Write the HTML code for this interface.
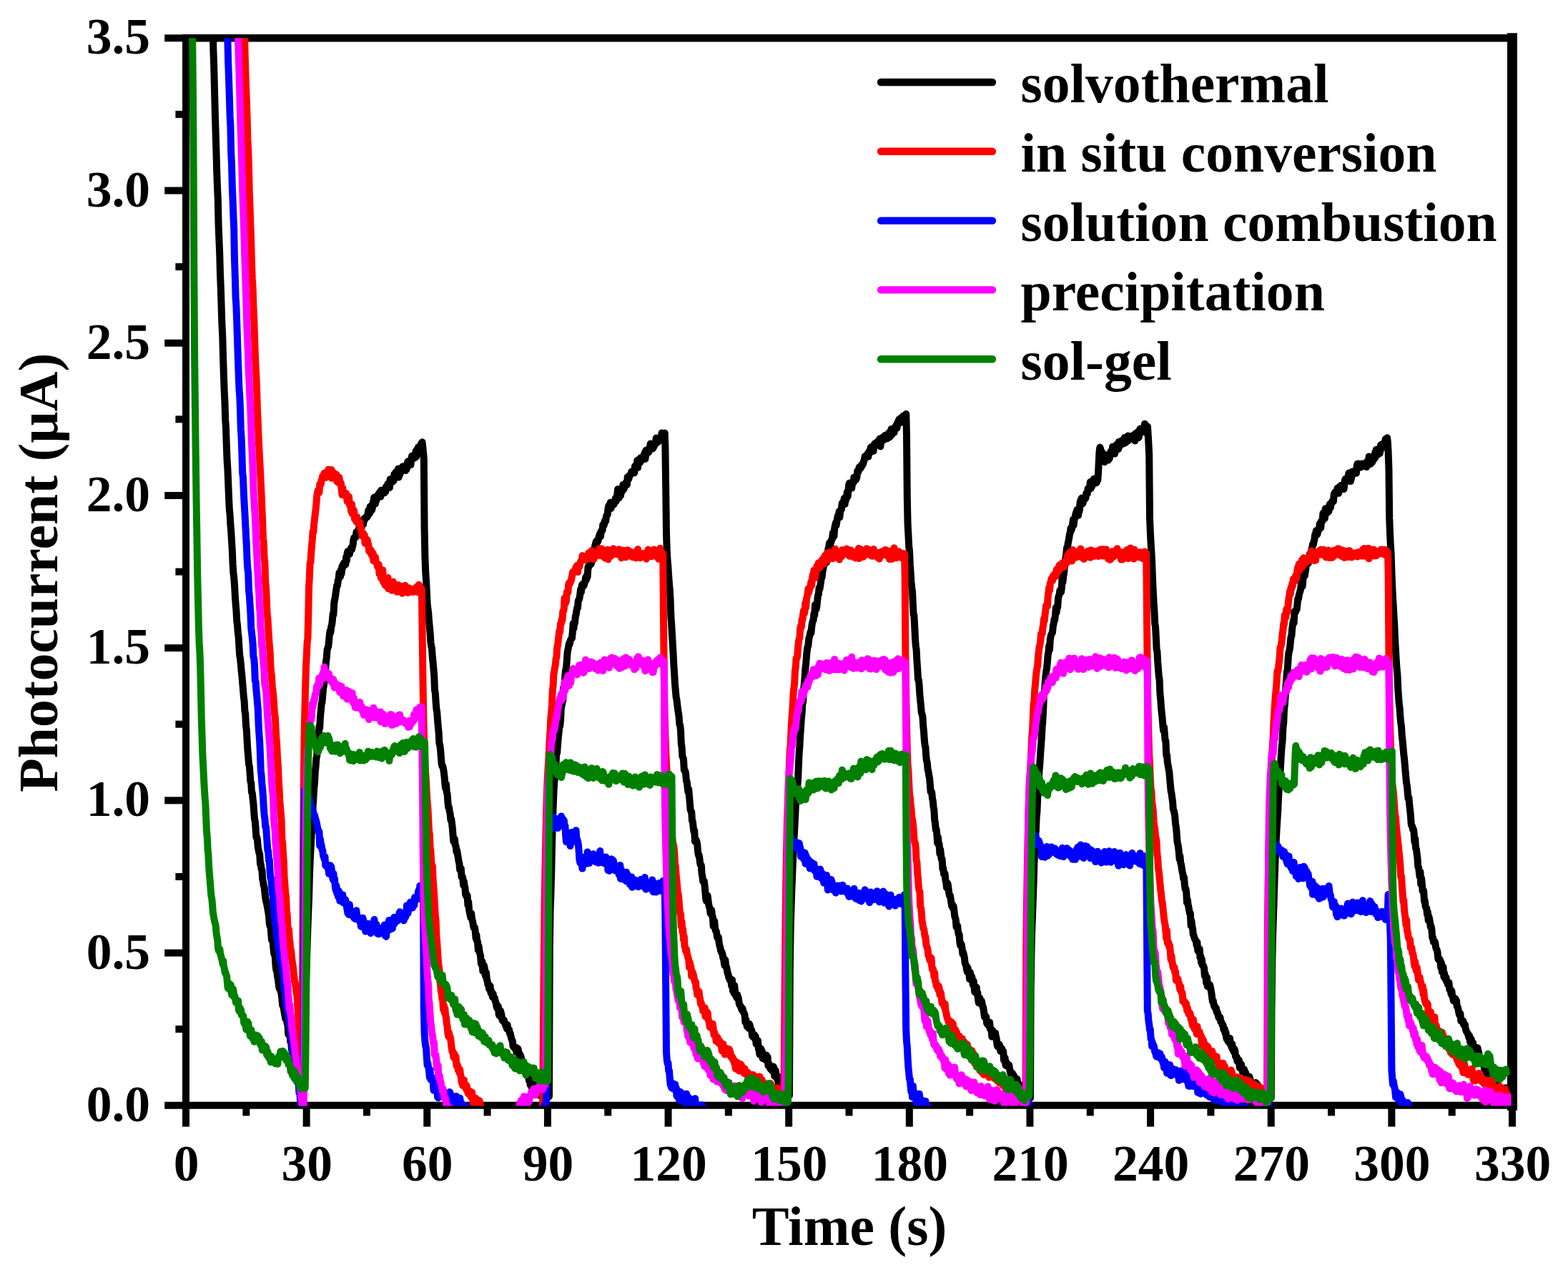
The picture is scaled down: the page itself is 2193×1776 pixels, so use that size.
<!DOCTYPE html>
<html lang="en"><head><meta charset="utf-8"><title>Photocurrent vs Time</title>
<style>
html,body{margin:0;padding:0;background:#fff;}
body{width:2193px;height:1776px;overflow:hidden;}
svg{display:block;}
text{font-family:"Liberation Serif", "DejaVu Serif", serif;font-weight:bold;fill:#000;}
.tick{font-size:71.5px;}
.title{font-size:77.7px;}
.leg{font-size:77.6px;}
.ax{stroke:#000;fill:none;}
.cv{fill:none;stroke-width:10;stroke-linejoin:round;stroke-linecap:round;}
</style></head><body>
<svg width="2193" height="1776" viewBox="0 0 2193 1776">
<rect x="0" y="0" width="2193" height="1776" fill="#fff"/>
<defs><clipPath id="plot"><rect x="260.0" y="53.3" width="1853.5" height="1493.1"/></clipPath></defs>
<g class="ax">
<line x1="260.00" y1="53.30" x2="2115.00" y2="53.30" stroke-width="10.5"/>
<line x1="260.00" y1="1545.80" x2="2115.00" y2="1545.80" stroke-width="10"/>
<line x1="260.00" y1="48.10" x2="260.00" y2="1550.80" stroke-width="10"/>
<line x1="2115.00" y1="46.30" x2="2115.00" y2="1552.80" stroke-width="14"/>
<line x1="260.00" y1="1545.80" x2="260.00" y2="1575.60" stroke-width="10"/>
<line x1="344.32" y1="1545.80" x2="344.32" y2="1560.40" stroke-width="10"/>
<line x1="428.64" y1="1545.80" x2="428.64" y2="1575.60" stroke-width="10"/>
<line x1="512.95" y1="1545.80" x2="512.95" y2="1560.40" stroke-width="10"/>
<line x1="597.27" y1="1545.80" x2="597.27" y2="1575.60" stroke-width="10"/>
<line x1="681.59" y1="1545.80" x2="681.59" y2="1560.40" stroke-width="10"/>
<line x1="765.91" y1="1545.80" x2="765.91" y2="1575.60" stroke-width="10"/>
<line x1="850.23" y1="1545.80" x2="850.23" y2="1560.40" stroke-width="10"/>
<line x1="934.55" y1="1545.80" x2="934.55" y2="1575.60" stroke-width="10"/>
<line x1="1018.86" y1="1545.80" x2="1018.86" y2="1560.40" stroke-width="10"/>
<line x1="1103.18" y1="1545.80" x2="1103.18" y2="1575.60" stroke-width="10"/>
<line x1="1187.50" y1="1545.80" x2="1187.50" y2="1560.40" stroke-width="10"/>
<line x1="1271.82" y1="1545.80" x2="1271.82" y2="1575.60" stroke-width="10"/>
<line x1="1356.14" y1="1545.80" x2="1356.14" y2="1560.40" stroke-width="10"/>
<line x1="1440.45" y1="1545.80" x2="1440.45" y2="1575.60" stroke-width="10"/>
<line x1="1524.77" y1="1545.80" x2="1524.77" y2="1560.40" stroke-width="10"/>
<line x1="1609.09" y1="1545.80" x2="1609.09" y2="1575.60" stroke-width="10"/>
<line x1="1693.41" y1="1545.80" x2="1693.41" y2="1560.40" stroke-width="10"/>
<line x1="1777.73" y1="1545.80" x2="1777.73" y2="1575.60" stroke-width="10"/>
<line x1="1862.05" y1="1545.80" x2="1862.05" y2="1560.40" stroke-width="10"/>
<line x1="1946.36" y1="1545.80" x2="1946.36" y2="1575.60" stroke-width="10"/>
<line x1="2030.68" y1="1545.80" x2="2030.68" y2="1560.40" stroke-width="10"/>
<line x1="2115.00" y1="1545.80" x2="2115.00" y2="1575.60" stroke-width="10"/>
<line x1="230.20" y1="1545.80" x2="260.00" y2="1545.80" stroke-width="10"/>
<line x1="245.40" y1="1439.19" x2="260.00" y2="1439.19" stroke-width="10"/>
<line x1="230.20" y1="1332.59" x2="260.00" y2="1332.59" stroke-width="10"/>
<line x1="245.40" y1="1225.98" x2="260.00" y2="1225.98" stroke-width="10"/>
<line x1="230.20" y1="1119.37" x2="260.00" y2="1119.37" stroke-width="10"/>
<line x1="245.40" y1="1012.76" x2="260.00" y2="1012.76" stroke-width="10"/>
<line x1="230.20" y1="906.16" x2="260.00" y2="906.16" stroke-width="10"/>
<line x1="245.40" y1="799.55" x2="260.00" y2="799.55" stroke-width="10"/>
<line x1="230.20" y1="692.94" x2="260.00" y2="692.94" stroke-width="10"/>
<line x1="245.40" y1="586.34" x2="260.00" y2="586.34" stroke-width="10"/>
<line x1="230.20" y1="479.73" x2="260.00" y2="479.73" stroke-width="10"/>
<line x1="245.40" y1="373.12" x2="260.00" y2="373.12" stroke-width="10"/>
<line x1="230.20" y1="266.51" x2="260.00" y2="266.51" stroke-width="10"/>
<line x1="245.40" y1="159.91" x2="260.00" y2="159.91" stroke-width="10"/>
<line x1="230.20" y1="53.30" x2="260.00" y2="53.30" stroke-width="10"/>
</g>
<g clip-path="url(#plot)">
<path class="cv" stroke="#000000" d="M297.6 34.7l.8 35.6 .8 22.2 .8 32.5 .8 31.6 .8 27.6 .8 25.4 .8 30.6 .8 21.7 .8 17 .8 36.2 .8 19.9 .8 18.9 .8 29.3 .8 19.4 .8 25 .8 25.7 .8 15.2 .8 28.1 .8 25.6 .8 22.4 .8 16.7 .8 25.2 .8 12.3 .8 24.6 .8 20.8 .8 11.4 .8 19.5 .8 20.2 .8 16.6 .8 7.6 .8 14.5 .8 8.8 .8 13.7 .8 13.2 .8 19.1 .8 12.4 .8 6.9 .8 9.4 .8 15.8 .8 11 .8 8.9 .8 15 .8 6 .8 10.3 .8 6.5 .8 13.3 .8 12.5 .8 4.1 .8 7.7 .8 9.1 .8 7.5 .8 9.6 .8 9.3 .8 10.3 .8 5.8 .8 14 .8 4 .8 16.7 .8 5.5 .8 15.4 .8 13.5 .8 8.1 .8 11.6 .8 2.6 .8 9.6 .8 11.9 .8 1.3 .8 13.7 .8 .6 .8 8.5 .8 6.5 .8 11.5 .8 10.2 .8 3.2 .8 10.1 .8 12.1 .8 -.3 .8 4.5 .8 9.8 .8 3.9 .8 4.1 .8 1.6 .8 13.7 .8 .3 .8 6.9 .8 1.5 .8 12.6 .8 3.1 .8 5.8 .8 2.1 .8 7.8 .8 6.7 .8 5.2 .8 2.6 .8 3.9 .8 4.3 .8 4.7 .8 5.5 .8 10.3 .8 3.7 .8 -.5 .8 11 .8 9 .8 1 .8 -.1 .8 10.6 .8 7.2 .8 2.3 .8 2.5 .8 12.8 .8 6 .8 -.5 .8 8.5 .8 4 .8 6.1 .8 6.6 .8 1.6 .8 1.4 .8 1.6 .8 4.3 .8 7.2 .8 8.2 .8 1 .8 3.6 .8 5.2 .8 3.7 .8 5.3 .8 -2.4 .8 2 .8 6.9 .8 1.8 .8 13.5 .8 -1.8 .8 3.8 .8 -.2 .8 9.1 .8 .7 .8 9.5 .8 3.7 .8 -.2 .8 9.2 .8 -5.3 .8 11 .8 9.8 .9 2.8 .7 1.6 .8 2.5 .8 -2.1 .9 2.2 .8 6.9 .7 6.7 .9 -10.9 .7 11.2 .9 3 .7 3.9 .9 -2.7 .8 3 .7 2.1 .9 .5 .7 -9.3 .8 -61.3 .8 -44.8 .8 -35.2 .8 -31 .8 -23.3 .8 -24.4 .8 -21.5 .8 -17.9 .8 -29.8 .8 -22.7 .8 -15 .8 -15.2 .8 -15.1 .8 -17.2 .8 -14.8 .8 -12.1 .8 -13.3 .8 -8 .8 -14.7 .8 -8.6 .8 -10.9 .8 -3.1 .8 -18.7 .8 .3 .8 -7.3 .8 -15.7 .8 2 .8 -15.9 .8 -7.8 .8 -10.3 .8 -1.2 .8 -9.1 .8 -9.9 .8 -4.5 .8 -5.8 .8 -6 .8 -11.6 .8 -11 .8 -5.2 .8 -11 .8 -2.6 .8 -1.5 .8 -7.7 .8 -8.4 .8 -6.2 .8 2.2 .8 -8.2 .8 -1.8 .8 -6.3 .8 -9.3 .8 .9 .8 -15.5 .8 -5.5 .8 -3 .8 -6.6 .8 -5.1 .8 -5.6 .8 .4 .8 -6.9 .8 -2.1 .9 -9 .7 .7 .8 4.7 .9 -9.6 .7 5.5 .8 -10 .8 2 .9 -5.5 .7 2.6 .8 -4.7 .9 -.2 .8 3 .8 -10.3 .8 4.9 .7 -9.8 .8 -3.1 .8 3 .9 -3.7 .8 4.6 .7 -5.1 .9 -.9 .8 -3.1 .7 2.9 .9 -4.6 .8 -2.4 .7 -6.6 .9 -3.4 .8 .3 .7 0 .9 -1.2 .8 -6.9 .8 4.9 .8 -1.6 .8 -5.5 .8 4 .8 -10.5 .7 7.7 .8 4.5 .9 -10.9 .8 1.3 .8 -8.8 .7 1.4 .9 2.7 .8 -7.5 .8 2 .7 -2.4 .9 -1.6 .7 .2 .9 -1.1 .7 .3 .8 -3.5 .9 -6.1 .8 5.8 .7 -.9 .9 -10 .7 6.6 .9 -.8 .7 -.8 .9 -3.2 .8 -8.2 .8 1 .7 -7.4 .9 3.1 .8 5.9 .8 -4.9 .7 .4 1 -4.9 .8 -2.3 .6 -1.3 .9 2.2 .7 -4.4 1 -.5 .8 5.8 .7 -8.9 .8 1.3 .8 2.5 .8 .7 .8 -.5 .7 -4.6 1 4.1 .7 -2.2 .9 0 .6 -6.5 1 2.3 .7 -2 .7 -4.3 .9 .6 .8 -1.4 .8 6 .7 -11.4 .8 1.5 .8 -1.1 .9 3.9 .8 -2.3 .7 -1.1 .9 1.4 .8 -9.5 .8 1.4 .8 .8 .7 -5 .8 3.4 .8 -1.4 .9 -3.9 .8 -2.9 .8 11.9 .8 -3.2 .8 -.7 .8 -2.7 .8 -2.7 .9 .5 .6 -4 .8 -2.3 .9 5 .8 -1.4 .9 -2.6 .6 -.8 .9 5.5 .9 -3.1 .6 1.4 .9 -8.6 .8 -2.4 .7 2.5 .8 2.4 .9 -2.7 .8 -.7 .7 3.2 .8 -8.7 .9 -3.7 .8 -.1 .7 .4 .9 1.4 .7 1.5 .9 -3.1 .8 2.1 .7 -9.1 .8 7.7 .8 -9.9 .9 5.4 .8 -8.5 .7 2.2 .8 -2.9 .9 -.2 .8 -.8 .7 -2.8 .9 -1.3 .8 -1.3 .7 5.9 .8 8 .8 9.1 .8 97.6 .8 39.1 .8 21.6 .8 12.6 .8 14.9 .8 17.6 .8 6.2 .8 6.4 .8 10.9 .8 8.4 .8 8.3 .8 13.2 .8 5.7 .8 3 .8 12.1 .8 7.5 .8 9.3 .8 8.7 .8 20.8 .8 3.6 .8 12.9 .8 9.8 .8 4.2 .8 11.5 .8 8.8 .8 8.2 .8 15.4 .8 2 .8 6.4 .8 10.2 .8 10 .8 3.4 .8 -.2 .8 3.5 .8 5.2 .8 6.8 .8 9.4 .8 6.3 .8 -6 .8 11.7 .8 1.6 .8 12.3 .8 6.9 .8 -.1 .8 6 .8 2.8 .8 8.9 .8 -1.6 .8 6.5 .8 6.3 .8 10.9 .8 8.2 .8 -3.5 .8 .1 .8 8.4 .8 1.1 .8 8.2 .8 -1.9 .8 5.4 .8 4.3 .8 5.6 .8 2.8 .8 9.1 .8 .7 .8 -2.8 .8 12 .8 -1.1 .8 1.9 .9 10.6 .8 -5.1 .8 7 .7 1 .8 10.7 .8 -2.1 .9 5.3 .7 -2.2 .8 13.1 .8 -4.2 .9 10.6 .7 4 .8 3.5 .8 3.9 .8 -6 .9 8.1 .7 1.9 .8 4.3 .8 5.3 .8 0 .8 .1 .8 6 .8 9.2 .8 -4.9 .8 8.7 .8 1 .8 11.5 .8 -5.4 .9 7.2 .7 2.8 .8 3.3 .9 11.1 .8 1.6 .7 -4.5 .9 13.4 .7 -8 .8 -.1 .9 3.7 .7 8.1 .8 3.5 .8 -5.2 .9 10.4 .7 .6 .8 6.1 .8 -.8 .8 6.4 .8 .4 .8 -4.4 .8 9.6 .9 -2.5 .8 3.9 .8 4.6 .8 -4.5 .8 5.5 .7 -.6 .8 .9 .8 4.9 .8 1.4 .8 5.1 .9 2.8 .8 -2.3 .7 -.4 .9 11.5 .8 1.8 .7 -5.8 .8 -1.3 .9 3.6 .8 4.2 .7 5 .9 1.5 .8 -.4 .7 -.7 .9 3.8 .8 .7 .7 3.1 .9 1.1 .8 3.4 .7 -5.6 .8 5.5 .8 2.1 .9 -.8 .8 5.5 .8 -.3 .7 3.6 .9 3.6 .7 2.2 .8 1.2 .8 7.8 .9 -.8 .8 2.5 .8 1.3 .7 -1.8 .8 .2 .8 6.8 .8 -2.9 .8 -2.8 .8 1.6 .9 7.6 .8 -2.1 .8 3.2 .8 -.4 .7 2.5 .8 4.1 .9 .5 .7 7.3 .8 5.3 .8 -.2 .8 -7.5 .8 2.7 .9 2 .8 5.4 .8 5.3 .8 .2 .7 -4.8 .9 8.5 .7 4.3 .8 -2.8 .9 8.7 .7 -7.8 .9 7.3 .7 4.8 .9 -10 .8 4.8 .8 4.2 .8 5.5 .8 -11.6 .8 8.4 .8 -.5 .7 -2.2 .9 -.7 .7 1.9 .9 2.2 .8 -1.9 .8 10 .8 -8.8 .8 2.4 .8 -.1 .8 1.9 .9 3 .8 -1.9 .6 2.1 .9 6.9 .9 -1.5 .7 -4.1 .9 3.9 .7 -5.8 .7 2.8 1 -3.1 .7 1.4 .8 1.2 .7 1.1 .8 -205.4 .8 -54.3 .8 -23.5 .8 -27.7 .8 -40 .8 -28.6 .8 -23.3 .8 -21.4 .8 -15 .8 -5.9 .8 -9.5 .8 -12.1 .8 -16 .8 2.1 .8 -12.1 .8 -9 .8 -7 .8 -8.5 .8 -.5 .8 -8.1 .8 -16.8 .8 -3.9 .8 -4.1 .8 -2.5 .8 -18.3 .8 2.8 .8 -6.2 .8 -14.7 .8 -6.9 .8 -2.9 .8 -9.8 .8 -11.7 .8 -4.2 .8 -3.7 .8 -5 .8 1.3 .8 -4.9 .8 -1.5 .8 -1.3 .8 -.6 .9 -9.7 .7 -10.8 .8 6.9 .8 -8.4 .8 .7 .8 -9.3 .8 -2 .8 -6 .8 -4.1 .8 .2 .8 -10.3 .8 -.4 .9 -2.9 .7 -4.8 .9 -7.7 .8 4 .8 -8.7 .8 -2.2 .7 1.8 .8 .8 .9 -1.4 .7 -2.7 .8 -3.1 .8 -5.1 .8 3.5 .8 -6.6 .8 2.4 .9 -14.1 .7 .9 .8 -2.1 .8 -.9 .9 -9.9 .7 8.7 .8 -2 .8 -4.2 .8 -8.4 .8 3.1 .8 -9.6 .8 2.1 .9 -6.5 .8 -2.9 .7 -2.9 .8 -1.5 .8 2 .8 -.9 .8 -2.6 .9 -4.3 .8 -2.7 .7 -1.8 .8 4.1 .9 -7.5 .7 -1.4 .9 .4 .7 -7.9 .8 2.1 .9 -2 .8 -5.4 .7 -.9 .8 1.3 .8 -6.5 .8 -2.6 .9 -.2 .7 -8.1 .9 -4.2 .7 2 .9 .7 .8 -7.3 .8 8.2 .7 -3.7 .9 -1.9 .8 -3.1 .8 .8 .8 2.6 .7 -2.5 .9 -.8 .8 -5.9 .7 4.8 .9 -2.9 .7 -6 .9 -8.2 .8 6.2 .8 5.9 .7 -6.5 .9 -4 .8 7.2 .8 -8.5 .8 2.6 .7 -.3 .9 -8.8 .8 3.8 .7 2 .9 -6.6 .8 1.8 .8 -4.1 .7 1.8 .9 1.4 .8 -11 .7 1.6 .9 1.2 .7 -4.1 .9 -1.7 .8 .3 .8 -1.5 .8 -3.4 .8 1.5 .8 .5 .8 -.8 .7 -.4 .9 1 .7 -9.4 .8 2.8 .8 -.6 .9 -.9 .8 -9.2 .8 9.9 .7 -10.7 .9 2.5 .8 .8 .8 .4 .9 -6.7 .6 -.1 .8 2.1 .9 0 .8 .5 .9 -3.7 .6 -2.6 .9 -3.3 .8 8.7 .9 -11.9 .7 5.6 .8 -2.7 .7 .6 .9 -.9 .7 -.1 .9 -6.1 .7 .8 .9 -6.6 .7 5 .9 -3.4 .7 2 .9 3.4 .7 -4.8 .9 2.4 .7 -4.6 .9 1.5 .8 -3 .9 -6.3 .7 4.4 .7 1 .9 .3 .7 -2 .9 -2.5 .7 2 .9 -2.1 .8 -3.7 .7 4.6 .8 -9.2 .8 5 .9 -1.2 .8 1 .7 -3.6 .9 -1.2 .7 18.8 .8 58.6 .8 63 .8 26.5 .8 11.3 .8 9.8 .8 12.4 .8 11.2 .8 8 .8 14.3 .8 23.5 .8 9.9 .8 14.8 .8 13.2 .8 14.1 .8 15.9 .8 12 .8 13.9 .8 8.7 .8 9.2 .8 3.7 .8 6.4 .8 7.1 .8 4.6 .8 5.9 .8 10.7 .8 1.5 .8 7.1 .8 18.2 .8 5.1 .8 12.9 .8 1.8 .8 2.2 .8 15.1 .8 -.1 .8 1.8 .8 4.3 .8 9.8 .8 .9 .8 7.7 .8 6.4 .8 -3.6 .8 9.5 .8 9 .8 9.6 .8 2.7 .8 .5 .8 12.6 .8 .9 .8 7.3 .8 6.7 .8 -1.5 .8 15.4 .8 -2.6 .8 .3 .8 2.5 .8 3.5 .8 10.1 .8 5.1 .8 .1 .8 4.8 .8 6.9 .8 2.6 .8 -.1 .8 12.1 .8 3.8 .8 6.8 .8 -.3 .8 -.3 .8 6.7 .8 8.7 .8 9.2 .8 3.5 .8 -4.1 .8 -3.4 .9 7 .8 6 .8 3.1 .8 1.8 .7 7.1 .8 -4.1 .8 -.7 .8 7.8 .8 1.8 .9 12.9 .7 -5.6 .8 -1.9 .8 9.1 .8 4.6 .8 .4 .8 3.8 .8 5.4 .8 1 .8 -1.4 .9 7.6 .8 4.5 .7 1.5 .8 5 .8 2.1 .8 0 .9 3.2 .8 5.4 .7 -.9 .9 8.4 .7 2.7 .8 -7.3 .8 8.2 .8 1 .8 3.8 .8 5.2 .8 1 .8 4.6 .8 1.5 .9 2.5 .8 -2.1 .8 2.7 .7 7.5 .8 -8.4 .9 15.1 .7 -4.7 .9 8.1 .7 -10.6 .9 8.2 .7 5.5 .8 -.9 .9 4.4 .7 -4.6 .9 3.3 .7 2.1 .9 6.6 .7 2.4 .8 .7 .9 2.2 .7 1.8 .8 2.4 .9 -2.3 .8 4.1 .7 1.6 .8 1.2 .8 2.7 .8 9.7 .8 -3.8 .8 5.8 .8 3.7 .9 0 .8 -1.8 .7 4.6 .9 -5.9 .8 2.4 .7 3.7 .9 1.5 .8 1.4 .7 7.6 .9 1.3 .8 -3.8 .7 2.5 .8 -1.5 .8 6.4 .8 -3.8 .8 10.2 .9 -5.1 .7 4.8 .8 -4.2 .9 11.8 .7 .2 .8 7.2 .9 -4 .8 -4.2 .8 3.8 .8 -.6 .8 10.3 .8 -6.3 .8 .7 .7 5.4 .9 .4 .7 2 .9 -2.3 .7 -4 .9 2.8 .7 -.5 .8 12 .8 .5 .8 -2.4 .9 5.3 .8 1.6 .8 .7 .7 0 .9 2.1 .7 -1.3 .9 -5 .7 1.3 .9 12 .8 -.8 .8 -6.6 .8 9.1 .8 -.8 .8 3.8 .8 -4.2 .7 13 .9 -1.3 .7 3.9 .8 1.7 .9 1.8 .7 2 .9 -3.6 .7 .3 .8 -2.3 .9 4.4 .9 -1.5 .7 -1.6 .7 9.1 .9 -.4 .8 -9 .8 2.8 .8 4.7 .8 -.6 .9 3.2 .6 -.2 .8 -171.3 .8 -59.6 .8 -27 .8 -26.1 .8 -19.4 .8 -21 .8 -16.5 .8 -17.6 .8 -12.6 .8 -16.8 .8 -16.2 .8 -9.4 .8 -14.2 .8 -5.1 .8 -7 .8 -20 .8 -18.2 .8 -10 .8 -15.1 .8 -10.5 .8 -13.2 .8 -8 .8 -13.7 .8 -1.6 .8 -16.5 .8 -8.4 .8 -9.5 .8 -12.4 .8 -6.9 .8 -10.7 .8 -7.9 .8 -5 .8 -1.6 .8 -9.4 .8 -2.4 .8 -3.8 .8 -3.5 .8 1.6 .8 -8.5 .8 -5.3 .8 -3 .8 -1.1 .8 -9.4 .8 2.5 .8 -14.7 .8 1.6 .8 4.3 .8 -4.2 .8 -7.7 .8 -7.2 .8 -1.4 .8 -9.2 .8 2 .8 -5 .8 -4.7 .8 -8.8 .8 2.1 .8 -8.2 .9 -3.9 .7 -4 .8 -2.2 .8 -1.1 .8 -2.4 .8 -3 .8 3.5 .8 -12.7 .9 2.4 .7 -8.8 .8 -1.8 .8 -6.1 .8 6 .8 -5.1 .8 -2.4 .8 -3.7 .8 -.2 .8 -8.5 .8 -.1 .8 4.6 .8 -11.1 .8 -3.9 .9 -3.8 .7 3.7 .8 -5.2 .8 -5.3 .8 -3.4 .8 .2 .9 -6 .7 8.3 .8 -8.9 .9 -1.1 .7 -1 .8 -8 .9 -1.8 .7 .9 .9 -1.2 .7 -5.6 .8 8.3 .9 -6.3 .8 0 .7 -3.4 .8 -7.5 .9 6.4 .8 -9.5 .8 -7.3 .7 -1.8 .8 5.5 .8 1.5 .8 -4.1 .8 4.1 .9 -8.2 .7 1.5 .9 -1.2 .7 -7.3 .9 3.1 .8 -.7 .8 1.3 .8 -1.6 .7 -2.2 .8 -8.8 .9 1.9 .7 -1.6 .9 -5.5 .7 1.2 .9 -.9 .7 .8 .8 -4.2 .9 1 .7 -1.2 .8 -1.3 .9 -4.1 .7 -1.3 .9 -5.3 .7 .7 .9 .7 .7 -1.6 .9 -.4 .7 -3.2 .8 4.5 .9 -7.2 .7 2.9 .9 -3 .8 -5.5 .8 -.9 .8 4.1 .8 -3.2 .8 -.8 .7 5.7 .8 -8.3 .8 -2 .8 2.5 .9 -3.8 .9 1.5 .6 1.5 .9 -4.9 .9 2.1 .7 -.4 .9 1 .6 -6.4 .9 10.7 .9 -7.1 .6 1.6 .9 -5.8 .8 -1.5 .7 3.5 1 -2.4 .7 2.1 .8 -5.8 .7 -.4 .9 3.9 .8 .8 .9 0 .7 -4 .9 -.1 .7 -4 .8 6.3 .7 -1.2 .9 -.8 .8 -9.4 .7 8 .9 -5.7 .8 3.2 .8 -1.6 .9 1 .6 -5.6 1 -1.4 .7 -2.5 .8 -1.2 .8 4.3 .7 -7.5 .8 2.4 .9 -5.9 .8 -1.5 .8 5 .8 -.1 .8 -6.4 .8 1.9 .8 -.4 .8 1.2 .8 -5.7 .8 .2 .7 .2 .8 .3 .9 -1.3 .8 -2 .7 32 .8 84.9 .8 38 .8 13.6 .8 16.6 .8 6.3 .8 19 .8 11.3 .8 12.5 .8 8.9 .8 5 .8 17.2 .8 15 .8 1.4 .8 15.4 .8 16.9 .8 10.5 .8 5.2 .8 15.7 .8 11 .8 14.9 .8 .6 .8 7.8 .8 12.8 .8 8.3 .8 7.7 .8 9.4 .8 2 .8 3.4 .8 12.6 .8 8.2 .8 11.6 .8 7.7 .8 2.6 .8 12.2 .8 7.1 .8 2.1 .8 9.8 .8 2.7 .8 5.4 .8 3.9 .8 8.3 .8 11 .8 -.8 .8 1.5 .8 8.3 .8 3.8 .8 8.4 .8 4.6 .8 13.9 .8 3.9 .8 9.5 .8 -.4 .8 7.1 .8 11.9 .8 -7.8 .8 10.3 .8 -1.5 .8 13.8 .8 -5.8 .9 8.4 .7 5.4 .8 -.5 .8 13.7 .8 -1.2 .8 8.5 .8 -1.8 .8 1.8 .8 8.6 .8 2.5 .8 8 .8 -6.8 .8 1.3 .8 5.9 .8 6.5 .8 4.2 .8 -.5 .8 4.8 .9 6.2 .8 4.6 .8 -2.7 .7 5.3 .8 -3 .8 5.9 .8 8.1 .8 2.1 .8 3.2 .8 9.9 .8 -2.7 .8 .8 .8 8.2 .8 4.1 .8 .2 .8 11.2 .8 3.9 .8 -2.7 .8 1.9 .8 5.4 .9 7.5 .7 -2.4 .8 3.3 .9 4.6 .7 6.4 .8 2.8 .8 .7 .9 6.5 .7 3 .8 -5.4 .8 6.9 .9 -.6 .8 9.1 .8 -9.1 .7 4.2 .8 4.2 .9 -2.5 .7 6.1 .8 5 .9 -5 .7 7.2 .8 8 .9 -5.3 .7 1.3 .9 -2.6 .8 10 .7 -2.7 .8 9.3 .8 5.1 .8 -2.7 .8 -3.7 .8 6 .8 -2 .9 0 .8 3.9 .8 4.8 .7 .2 .8 5.3 .9 8 .7 -2.4 .8 3.7 .8 -1.7 .9 9 .8 -1.3 .7 3.7 .9 -3.9 .8 5.9 .8 -5.5 .7 9 .8 .1 .9 .9 .8 10.1 .8 -8.8 .8 5.7 .8 .3 .8 2 .8 1.7 .8 -6 .7 4.8 .8 2.7 .8 7.8 .8 3.4 .8 -2.4 .8 .6 .9 -1 .8 4.7 .7 4.6 .8 -2.9 .8 -1.3 .8 2.4 .8 3 .8 -1 .8 12.7 .8 -4.1 .8 .4 .9 10.5 .8 -4.4 .7 5.7 .9 -2.9 .7 3.2 .8 -2.3 .9 .6 .7 5.1 .8 4 .8 3.6 .8 -1.4 .8 -.5 .8 .8 .9 3.7 .8 -1.2 .7 1.5 .9 3.9 .7 1.1 .9 1.3 .8 -2.3 .8 -.1 .8 7.6 .8 .7 .8 -1.5 .7 1.4 .9 2.4 .8 -2.3 .8 3.9 .7 -2.4 .8 4.4 1 -.2 .8 -.9 .6 6.7 .8 -8.4 .9 7.8 .8 3.9 .7 -.1 .9 -5.2 .8 6.9 .7 -5.3 1 3.8 .8 4 .8 -1.5 .8 .9 .6 -148.7 .8 -54.4 .8 -32.1 .8 -19.7 .8 -23 .8 -23.4 .8 -27.4 .8 -20.5 .8 -17.4 .8 -6.6 .8 -19.6 .8 -7.6 .8 -19.6 .8 -8.1 .8 -21 .8 -10.4 .8 -8.8 .8 -14.2 .8 -10.7 .8 -10.9 .8 -14.9 .8 -9.6 .8 -15 .8 -21.7 .8 -.6 .8 -14.9 .8 -8.2 .8 -8.2 .8 -4 .8 -7.7 .8 -10.5 .8 -3.8 .8 -9.5 .8 5.4 .8 -13.8 .8 -4.6 .8 -3.2 .8 -.7 .8 -1.9 .8 -8.4 .8 -3.6 .8 -6 .8 1 .8 -7.3 .8 -10 .8 6.8 .8 -8 .8 .7 .8 -12.7 .8 -3.3 .8 -1.7 .8 -6.2 .8 1 .8 1.7 .8 -6.1 .8 -14.9 .8 7.3 .8 -8.4 .8 -4 .8 -8.8 .8 -6.1 .8 -6.8 .8 -5.5 .8 -8.7 .8 1.9 .8 -7.5 .8 -4 .8 -4.1 .8 -5.5 .8 -1.9 .8 -6.6 .8 3 .8 -2.5 .8 -4.7 .9 -7.8 .7 7.9 .9 -7.5 .8 -2.3 .7 -3.8 .9 -3.7 .7 -.9 .8 -3.2 .8 .9 .8 7 .8 -5.8 .9 -.4 .8 -11.4 .8 -3.3 .7 -1.6 .9 -1.8 .7 8.2 .8 -.7 .9 -4.8 .8 .2 .8 -1 .7 -2.8 .8 1.1 .9 -7.1 .7 1.1 .9 -.4 .7 -7 .9 -.7 .7 2.2 .8 -2.1 .8 -8.6 .8 8.9 .9 -2.8 .7 0 .8 -4.3 .8 1 .9 -7.1 .9 3 .8 -3 .6 1.9 .9 3.7 .9 -.7 .7 -2.6 .8 -.6 .7 -9.8 .8 -16.4 .8 -14.8 .8 -4.9 .8 2 .8 4.6 .9 1 .7 -.5 .9 4.7 .8 2.1 .7 .3 .8 6.3 .8 -4.6 .8 -.8 .8 -1.2 .9 3.7 .7 -7.2 .8 7.6 1 -5.8 .6 4.4 .8 -2 .8 -4.6 .8 -4.5 .8 1.3 1 -.7 .7 -7 .7 2.7 1 -2 .7 7.2 .7 1.9 .9 -8 .8 -.3 .7 -4.5 .9 3 .8 .6 .7 2.9 .8 -10.3 1 6.3 .8 -4.6 .8 -2.7 .8 .8 .6 -1.6 .9 3.3 .8 -2.4 .9 3.4 .6 -4.9 .9 -3.6 .7 3.2 .9 3.7 .9 -6.9 .7 1.6 .9 3.3 .6 -7.3 .9 6.3 .9 -2 .8 -3 .6 2.1 .9 -2 .8 -.6 .9 -.9 .8 .7 .6 .1 .8 -1.6 .8 -.6 .9 8.4 .8 -10.2 .8 1.9 .8 3.3 .8 -1.3 .9 -6.3 .8 8.4 .6 -1 .8 -7.5 .9 -4.1 .8 5.1 .8 -3.4 .8 -.4 .9 -1.3 .8 1 .6 2.3 .8 1.4 .9 -11.5 .8 .4 .8 5.9 .8 -3.5 .9 1.6 .8 -.7 .6 10 .8 13.5 .8 15.9 .8 88.5 .8 19.5 .8 15.8 .8 12.4 .8 15.3 .8 23.7 .8 16.6 .8 15.3 .8 11.3 .8 17.9 .8 4 .8 15.1 .8 17 .8 2.5 .8 15 .8 10.1 .8 10.2 .8 4.4 .8 19.4 .8 8.1 .8 11 .8 8.3 .8 7.1 .8 10.5 .8 7.1 .8 -5.1 .8 9.5 .8 8.7 .8 1.3 .8 19.7 .8 -.5 .8 10.3 .8 4.3 .8 4.7 .8 4 .8 9.4 .8 8.5 .8 9.2 .8 3.2 .8 5.8 .8 5.9 .8 10.4 .8 2.2 .8 3.4 .8 4.7 .8 9.8 .8 5.2 .8 7.9 .8 11.9 .8 3.6 .8 4.7 .8 6.9 .8 9.9 .8 -4 .8 9.6 .8 1.9 .8 5.9 .8 4.6 .8 2.9 .8 6.8 .8 -2.2 .8 10 .8 6.3 .8 -.5 .8 5.1 .8 14.5 .8 -4.1 .8 6.6 .8 3.6 .8 5.1 .8 4 .8 -.6 .8 17.5 .8 -6.7 .8 7.5 .8 3.1 .8 8.7 .8 .9 .8 3.6 .8 1.7 .8 1.5 .8 .6 .8 6.8 .8 -4.3 .8 11.3 .8 1.4 .8 0 .9 -3.5 .7 11.9 .8 -2 .8 8.8 .8 -4.3 .8 8 .9 .2 .7 1.5 .9 2.9 .7 10.6 .8 -3.2 .9 4.8 .7 8.5 .8 -7.8 .8 12.4 .8 -4.1 .8 1.1 .8 2.7 .9 -1.8 .8 3.4 .7 3.7 .8 4.6 .9 7.4 .7 4.5 .8 -1.3 .9 5.8 .8 2.6 .8 -.4 .7 3 .8 -1 .9 5.9 .7 -.6 .9 3.4 .7 3 .8 2 .9 -.6 .7 -.2 .9 6.3 .7 .2 .8 1.6 .9 3.1 .8 -.3 .8 5.8 .7 1.6 .8 -2 .8 6.5 .9 -1.8 .7 8.1 .9 2.1 .7 -.9 .8 3.3 .8 1.3 .8 -.1 .8 -5.3 .9 8.5 .8 1.4 .8 2.7 .7 -4.7 .8 7.7 .8 1.4 .8 2 .8 -4.1 .8 2.4 .8 8.1 .9 1.3 .8 -.7 .7 6.1 .8 -.5 .8 .2 .9 -1.2 .8 10.5 .7 -2.1 .8 2.8 .8 -5.3 .9 5.7 .8 4.5 .8 -.7 .7 -1.4 .9 -1.2 .7 4.5 .9 -.7 .7 2 .9 2.7 .8 1 .7 2.5 .9 -.2 .7 2.2 .9 -3.8 .8 2.1 .7 5.2 .9 1.3 .8 2.5 .8 6.4 .8 -2.7 .8 1.2 .8 -2.6 .7 -2 .9 -1.3 .9 -1.8 .7 2.6 .7 -1.2 .9 3.2 .8 -1 .7 3.1 .8 4.5 1 .3 .8 5.1 .8 .7 .8 1.1 .8 .3 .8 -1.2 .6 -2.1 .8 3.5 .9 -2 .8 .5 .8 2.6 .9 -4.5 .6 -1.6 .9 6.8 .9 5.2 .7 -2.1 .9 3 .6 -10 .9 2.7 .7 0 1 2.1 .6 -117.9 .8 -69.6 .8 -38.4 .8 -23.6 .8 -24.9 .8 -27.2 .8 -21.5 .8 -22.4 .8 -16.8 .8 -14.1 .8 -12.8 .8 -11.9 .8 -18.6 .8 -13.1 .8 -11.4 .8 -10.4 .8 -13.8 .8 -14.5 .8 -9.8 .8 -7.4 .8 -17.8 .8 -6.3 .8 -19.8 .8 -5.5 .8 -11.6 .8 -14 .8 -10.4 .8 -11 .8 -2.9 .8 -15.1 .8 -8.2 .8 -2.8 .8 -3.7 .8 -8.5 .8 -7.2 .8 -1.5 .8 -10.8 .8 -4.6 .8 -6.1 .8 3.4 .8 -15.5 .8 -1.2 .8 1.5 .8 -2.5 .8 -.8 .8 -7 .8 -8.5 .8 .6 .8 -5.6 .8 -3 .8 -2.4 .8 -3.7 .8 -8.4 .9 -1.3 .7 6.7 .8 -9.6 .8 -9.1 .8 3.5 .8 .5 .8 -5.3 .8 -5.1 .8 -8.3 .8 .8 .9 -3.6 .8 4 .7 -7.2 .8 -2.3 .8 -3.5 .8 -1.1 .8 -.9 .8 -4.4 .9 -3.5 .7 -4 .8 1.1 .8 -4.7 .8 -2.9 .8 -6.9 .8 -.6 .8 -4.7 .8 5.8 .8 -.8 .8 -3.7 .8 -3.2 .9 .4 .8 -8 .7 -1.1 .8 6.5 .8 -9.3 .9 .9 .8 -4.3 .7 -7.7 .8 4.1 .9 3.2 .8 .1 .8 -13.7 .8 .7 .8 1.7 .8 3.5 .8 -1.1 .8 -.4 .7 -.8 .9 -7.8 .8 -2.5 .7 5.2 .9 -5.6 .7 -.3 .9 -2.6 .8 -1.8 .8 1.9 .7 -9.4 .9 -2.5 .7 -1.2 .9 1.9 .8 -1.3 .7 .5 .9 -6.8 .7 2.6 .9 4.6 .8 -5.9 .8 -3.4 .8 4.7 .7 -6.2 .9 3.6 .7 -2.3 .8 .3 .8 1.5 1 2 .6 -3.8 .8 -8.4 .8 -2 .9 1.9 .8 -.5 .8 .9 .9 -4.9 .6 -1.5 .8 -4.3 .8 3.5 .8 3.5 .8 4.6 .8 -3 .9 -4.1 .8 -6.6 .7 2 .8 -.8 .9 -1.4 .8 -.1 .8 -.4 .8 -1.8 .8 4.8 .9 -11 .6 -2 .9 5.7 .8 -6 .7 3.1 .8 .3 .8 -2.6 .9 4.3 .8 -2 .7 -2.9 .9 1.2 .9 1.5 .7 -2.7 .9 3.3 .6 -1.9 .9 -1.2 .9 -2 .6 6.3 .9 -3.3 .8 -5.8 .8 5.6 .9 -11.2 .8 8.2 .6 1 .8 1.2 .9 -5.4 .8 -4.6 .8 7.3 .8 -3.7 .8 1 .7 -4.8 1 2.6 .7 -8.8 .9 6 .6 -9.7 .8 2.2 .8 -2.6 .9 7.3 .7 -1.6 .8 -5.6 .9 5.7 .8 -4.2 .7 -7.7 .8 4.3 .8 -5.3 .8 4.9 .8 -.7 .9 -5.8 .8 2.8 .7 -1.3 .9 -7.1 .8 1.5 .7 -2.2 .9 -1 .7 5.9 .8 14 .8 22.7 .8 69.5 .8 21.1 .8 16.9 .8 12.3 .8 25.9 .8 19.4 .8 16.8 .8 12.3 .8 14.7 .8 14.1 .8 19.7 .8 13 .8 13.9 .8 11.5 .8 7.8 .8 18.9 .8 11.9 .8 9.8 .8 6.2 .8 12.2 .8 8.3 .8 4.8 .8 14.1 .8 5.9 .8 9.1 .8 9.5 .8 6.3 .8 8.9 .8 9.8 .8 8.5 .8 7.9 .8 3.7 .8 10 .8 7.7 .8 -2.1 .8 9.6 .8 7.8 .8 6.8 .8 12.2 .8 3.5 .8 .6 .8 4.5 .8 -.5 .8 5.3 .8 12.5 .8 -4.6 .8 13.2 .8 1.1 .8 6.6 .8 5.8 .8 12.2 .8 1.2 .8 6.6 .8 6.6 .8 -6.8 .8 17 .8 -8.2 .8 7.8 .8 10 .8 -1.6 .8 2.3 .8 13.6 .8 -.9 .8 8.2 .8 1.9 .8 .5 .8 8.9 .8 -3.3 .8 11.6 .8 -5.4 .9 4 .7 4.5 .8 6.3 .8 -1.3 .8 5 .8 10.9 .8 -.2 .8 6.2 .8 -.1 .8 -.7 .8 2 .8 6 .8 2.6 .8 1.2 .8 3 .9 9.7 .7 1.2 .8 -.3 .8 -.2 .8 1.6 .8 10 .8 -6.2 .8 12.2 .9 -7 .7 -.2 .9 14 .7 -5.1 .8 7.5 .8 -1.6 .8 -.1 .8 6.4 .8 -1.3 .9 5 .8 .5 .7 -3.1 .8 9.4 .9 -.7 .8 3.4 .7 4 .8 -4.4 .8 7.7 .8 .9 .8 5 .8 -2.6 .8 .1 .9 -.6 .7 4.6 .9 -1.9 .8 8.4 .7 .3 .8 2.2 .8 4.3 .8 4.2 .9 2 .7 -2.9 .8 10 .8 -2.2 .8 3.3 .8 .6 .8 -1.6 .8 5.6 .8 -.6 .9 .2 .7 4.6 .8 3.6 .8 1.7 .8 1.6 .9 .5 .8 3.8 .8 2.7 .7 -2.6 .9 8.8 .7 -1.3 .9 -3.1 .7 10.4 .9 2.8 .8 -8 .8 5.6 .8 -.5 .7 6.3 .9 -5.5 .8 7.7 .8 .9 .8 2.8 .8 -10.1 .8 3.5 .7 2.6 .9 6.1 .8 .2 .8 4.8 .8 1 .8 -3.2 .7 3.8 .8 1.1 .9 2.6 .8 .2 .7 6.9 .8 -.3 .9 -6 .7 10.1 .8 -2.8 .8 -1.6 .8 10.4 .9 -2.1 .7 2.7 .9 -.5 .8 .4 .7 -5.6 .9 8.2 .8 -4.2 .8 3.9 .8 1.3 .7 -1.8 .9 .1 .8 4.7 .7 5.8 .9 -4.6 .8 1.8 .8 3 .8 -1.7 .9 7 .6 -1.9 .9 6.7 .8 -5.3 .7 6.9 .9 -7.4 .8 4.1 .8 -3.2 .8 2.1 .9 -.9 .8 1.7 .6 1.7 .8 -4.7 1 -2 .7 6.6 .7 1 .9 .4 .9 5.5 .6 1.4 .8 -5.9 .8 .1 .8 -2.6"/>
<path class="cv" stroke="#ff0000" d="M341.6 36.0l.8 30.6 .8 29 .8 23.8 .8 20.5 .8 23.8 .8 30.5 .8 16.1 .8 25.8 .8 34.7 .8 20.3 .8 24.9 .8 20.8 .8 30.7 .8 22.5 .8 12.2 .8 25.5 .8 18.1 .8 24.4 .8 23.5 .8 19.4 .8 13.9 .8 21.8 .8 26.3 .8 15.5 .8 21.3 .8 15.9 .8 16 .8 14.3 .8 18.1 .8 15.2 .8 20 .8 18.5 .8 22.4 .8 6.8 .8 21.8 .8 6 .8 27.9 .8 6.2 .8 17.5 .8 19.2 .8 7.2 .8 13.7 .8 11.9 .8 12.8 .8 7.6 .8 19.7 .8 8.9 .8 7.1 .8 14.1 .8 4.9 .8 8.5 .8 11.5 .8 12.6 .8 3.7 .8 15.9 .8 15.3 .8 8 .8 19.1 .8 8.9 .8 19 .8 14 .8 16.2 .8 10.2 .8 8.8 .8 10.5 .8 27 .8 3.7 .8 15.5 .8 9.8 .8 22.9 .8 9.4 .8 12.5 .8 4.8 .8 19.6 .8 5.2 .8 17.9 .8 4.1 .8 -.7 .8 14.6 .8 3.8 .8 15.8 .8 -4.5 .8 9.7 .8 6.1 .8 4.5 .8 7.3 .8 8.8 .8 6.5 .8 1.9 .8 5.7 .8 7.1 .8 4.3 .8 11.5 .8 11.8 .8 15.8 .8 12.4 .8 14.5 .8 15.5 .8 11.6 .8 18 .8 15.6 .8 -157.8 .8 -154.5 .8 -106.9 .8 -71.4 .8 -35.3 .8 -33 .8 -26.6 .8 -15 .8 -18.3 .8 -6.4 .8 -28.5 .8 -42.7 .8 -13.1 .8 -20.6 .8 -1.4 .8 -13.1 .8 -9.9 .8 -8.7 .8 -11.7 .8 1.6 .8 -11.6 .8 -7.2 .8 -6.8 .8 -6.4 .8 -8.8 .8 -10 .8 -5 .8 -3 .8 .8 .8 2.3 .9 -11.9 .7 0 .9 .2 .7 -5.4 .9 -1.6 .7 -4.4 .9 2.8 .7 -4.7 .9 -2.4 .7 .3 .9 3 .8 3 .9 -7.4 .8 5.4 .7 -6.5 .8 -2.7 .8 3.7 .7 2.7 1 -.6 .7 1.2 .9 -6.6 .7 11.9 .7 -.7 .9 .5 .8 -7.6 .9 7.5 .8 -3.1 .8 .9 .7 2.6 .8 -5.3 .8 9.9 .8 -.1 .7 -.8 .9 2.7 .7 -7.5 .8 5.2 .8 2.5 .8 -.3 .9 10.1 .8 6.8 .7 -9.6 .9 7.5 .8 -.7 .7 1 .9 .6 .8 2.7 .8 -3.6 .7 2.4 .9 9.1 .8 -4.2 .8 1.7 .7 -4.2 .8 10.1 .9 2.8 .8 .9 .7 6.7 .8 -10 .8 13.1 .9 -6.2 .7 3.6 .8 -1.8 .8 11.9 .9 -.7 .7 1 .9 3.5 .8 -6.7 .7 5.4 .8 3.4 .8 -1.6 .9 3.6 .8 -3.1 .8 8.4 .7 .2 .9 3.8 .7 6.3 .9 -3.3 .7 -.3 .9 5.9 .8 -3.3 .8 11.3 .8 -4.4 .8 1.3 .8 3.1 .8 -4.8 .7 5.6 .9 .6 .7 9.5 .8 -1 .9 3.1 .8 -4.1 .8 2.8 .7 5.5 .8 -4.3 .8 1 .8 10.7 .8 -1.6 .9 2.2 .7 -6 .9 6.4 .7 1.5 .9 1 .7 4.8 .9 -3.4 .8 .3 .8 13.1 .8 -2.8 .7 -3.2 .9 11.8 .7 -2.8 .9 .7 .7 -9 .9 16.4 .8 -3.1 .8 5.2 .7 2.2 .9 -9.7 .7 11.2 .8 -3.2 .8 -1.4 .9 -7 .7 15.3 .8 -4.8 .9 1.3 .9 -5.8 .7 7.3 .9 1.3 .7 3.2 .7 -7.6 1 -4.7 .7 5.2 .7 -1.3 .9 4.6 .9 -1.5 .6 1.2 .9 3.9 .8 2.2 .8 -4.7 .8 -5 .8 5.7 .8 -.6 .9 .9 .8 .8 .6 1.7 .9 -6.5 .9 9.8 .7 -.7 .7 -1.7 1 -2.8 .8 2.8 .7 -8.7 .8 6 .7 3.2 .8 -3.2 1 1.1 .8 3.2 .8 -4.4 .7 -2.3 .8 1.7 .7 3.6 1 -4.3 .8 4 .7 -1.5 .7 1 1 1.2 .8 -1.4 .7 -3 .8 .7 .7 2.5 1 -5.1 .8 3.3 .7 -4.7 .8 7.7 .9 -4.7 .8 -5.6 .7 2.3 .8 3.2 .7 -.5 1 -.5 .8 2.6 .6 40.3 .8 64.4 .8 55.1 .8 40.8 .8 21.9 .8 21.1 .8 12.9 .8 11.5 .8 16.5 .8 12.4 .8 8.6 .8 14.7 .8 17.8 .8 3.7 .8 19.1 .8 4.8 .8 14.7 .8 4.5 .8 1.6 .8 18.2 .8 11 .8 11.2 .8 15.1 .8 13.6 .8 6.4 .8 22.4 .8 8.8 .8 12.4 .8 12.8 .8 7.3 .8 5.4 .8 16.3 .8 4.6 .8 9.3 .8 3.5 .8 7.4 .8 1.6 .8 13 .8 -5.9 .8 10.3 .8 -5.5 .8 9.9 .8 2.5 .8 9.3 .8 2.8 .8 10.2 .8 4.2 .8 -5.1 .8 7.3 .8 -1.9 .8 4.4 .8 7.7 .9 7.3 .7 2.2 .8 0 .8 7.4 .9 -5 .7 3.4 .9 4.9 .7 -4.2 .9 12.7 .8 -2.6 .8 2.7 .7 6.1 .8 -2.9 .8 6.5 .8 -4.2 .8 6.8 .8 3.2 .9 8.1 .7 -2.9 .8 7 .8 -3.2 .9 -4.7 .8 9.1 .7 -1.7 .8 -1.2 .9 7.1 .8 -4.7 .7 4.1 .8 5.3 .9 1.6 .8 -4.5 .8 4.5 .8 .8 .8 3.2 .7 -2.4 .9 -4.1 .7 6.7 .9 8.6 .8 -6.8 .8 2.4 .7 3.1 .9 -3.6 .8 -1.9 .8 5.4 .9 .9 .7 -1.9 .7 2.5 .9 -4 .8 .3 .7 3.2 .9 5.4 .7 2.3 .8 -.6 .9 6.9 .8 -1.4 .8 -2.1 .7 3.8 1 2.2 .6 -1.6 .9 -3.2 .9 6.1 .7 2.1 .7 -1.6 .9 -.4 .8 2.6 .8 1.6 .8 -6.2 .8 13.1 .8 -4.4 .8 6.1 .8 -5.6 .9 -3.8 .8 4.5 .6 -3.8 .9 2.1 .9 -4.1 .6 1.1 .9 .7 .9 1.2 .7 4.5 .9 -6.3 .7 4.2 .7 2.3 1 -7.7 .7 2.7 .9 -1.2 .8 2.2 .7 2.5 .7 2.1 1 -.1 .7 -7 .8 2.8 .7 -5.8 1 -1.9 .8 1.8 .8 -1.7 .7 8 .8 -6.8 .8 6.2 .7 7.6 1.1 -12.9 .7 -2.5 .8 8.1 .8 -4.4 .8 4 .7 .3 .8 .3 .8 6.6 .8 -7 .8 .2 .8 -.6 .8 -1.6 .7 .8 .8 -1.5 .8 6.4 .8 -4 1.1 2.4 .7 -1.7 .8 6 .8 -8.7 .8 2.1 .8 -3.9 .8 7.3 .7 -3.4 .8 1 .8 -5.8 .8 5.5 .7 2.9 .8 -1.5 1 -8.4 .8 7.3 .8 -5 .7 -2.2 .8 2.5 .8 9 .7 -6 1 -3.8 .8 5 .7 -.1 .8 -1.6 .7 3.3 1 -3.2 .8 5.1 .7 -2 .8 -2.4 .7 2.8 1 3.3 .8 -2.7 .7 1.6 .8 -3.2 .7 -1.4 1 -5.7 .8 2.6 .7 1.1 .8 3.3 .7 4.5 1 -8.1 .8 1.2 .7 .2 .7 -27 .8 -101.8 .8 -94.5 .8 -77.5 .8 -46.1 .8 -41.4 .8 -35.3 .8 -30.7 .8 -20.6 .8 -13.1 .8 -12.1 .8 -16.8 .8 -16.4 .8 -10.4 .8 -18.4 .8 -7 .8 -11 .8 -19.4 .8 -6.2 .8 -16.6 .8 -4.3 .8 -5.1 .8 -3.3 .8 -8.9 .8 -2.2 .8 -13.4 .8 -3.3 .8 -6.8 .8 -6.8 .8 -6.8 .8 2 .8 -12 .8 .5 .8 -6.2 .8 1.3 .8 -12.2 .8 -.6 .8 -3.6 .8 -14.8 .8 7.8 .8 -1.1 .8 -2.5 .8 -12.6 .8 -.6 .8 1.4 .8 -11.5 .8 -2.2 .9 1.5 .7 -2.9 .8 -.8 .9 -3.2 .7 -4.1 .9 -5.4 .7 .2 .8 .3 .9 -1.1 .7 -2.8 .8 1.8 .8 -5.6 .9 1.3 .7 -3.4 .9 9.1 .8 -8.3 .8 1.7 .8 -1.1 .7 -4.4 .8 -2.3 .9 -1.4 .8 -.1 .8 -6.9 .7 2.2 .9 3.1 .7 -1.8 .9 2.2 .8 .5 .8 -.2 .8 -2.7 .8 -.7 .9 1.9 .6 -4.8 .9 -3.6 .7 7.7 1 -3.3 .7 3.1 .7 -6.7 1 -4 .7 5.1 .8 -1.7 .9 -1 .7 9.5 .8 -3.5 .7 -4.4 1 -1.5 .7 4.1 .8 .5 .7 -2.7 1 2.2 .8 -3.4 .7 .5 .8 -6.8 .8 9.8 .7 -6.3 1 5.5 .8 -8.4 .7 2.7 .8 8 .7 -7.8 1 5.4 .8 -2.1 .7 7 .8 -5.5 .7 2.9 1 -4.4 .8 -5 .7 13.5 .8 -8.3 .7 2.2 1 -.6 .8 -5.7 .7 8 .8 -3.9 .7 -5 1 1 .8 -2.7 .7 5.3 .8 2.1 .7 -3 1 2.7 .8 -1.6 .7 2.3 .8 -2.7 .7 -1.2 1 -2.2 .8 -.6 .7 2.1 .8 5.3 .7 -2.6 1 7.1 .8 -2.5 .7 -8.3 .8 5.4 .7 1.9 1 -6.7 .8 7.3 .7 -6.4 .8 8.4 .7 -3.4 1 -2.3 .8 -4.4 .7 5.7 .8 -2.5 .7 3.4 1 -4.6 .8 5.2 .7 -2.7 .8 4.3 .7 .9 1 -2.3 .8 1 .7 1.9 .8 -7.3 .7 5.4 1 -1.6 .8 4.3 .7 -6.7 .8 3.9 .7 -9.4 1 10.7 .8 -2.3 .7 .8 .8 2.9 .7 -6.3 1 4.3 .8 .5 .7 -2.8 .8 -2 .7 4.5 1 -2.9 .8 -.1 .7 1.4 .8 3.9 .7 1 1 -3.7 .8 -2.7 .7 -6.7 .8 3 .7 -1.1 1 -.1 .8 7.5 .7 -6.7 .8 6.8 .7 -4.4 1 -.7 .8 -.3 .7 -4.2 .8 4 .7 5.1 1 -.3 .7 -2 .8 1.5 .7 -2.1 1 1.1 .8 6 .7 -6 .8 -6.7 .7 -2.2 1 4.3 .8 2.3 .7 1.7 .8 -1 .7 .3 .8 90.8 .8 79.9 .8 50.6 .8 33.1 .8 22 .8 17.1 .8 18.8 .8 13.5 .8 6.8 .8 3.6 .8 11.8 .8 9.9 .8 11.7 .8 5.1 .8 7.9 .8 12.1 .8 8 .8 3.4 .8 3.4 .8 7.6 .8 15.5 .8 4.3 .8 12 .8 8 .8 8.9 .8 8 .8 3.1 .8 9.2 .8 10.4 .8 6.3 .8 1.1 .8 17.1 .8 -5.8 .8 13.9 .8 -3.8 .8 14.6 .8 -4.4 .8 14.1 .8 1.4 .8 5.2 .8 -3 .8 5.7 .8 2.8 .8 3.3 .8 2.1 .9 11.5 .7 -7.1 .8 4.2 .8 2.9 .8 12.2 .9 -6.7 .7 1.7 .8 2 .8 4.4 .9 4.2 .7 2.8 .9 -.8 .7 9.2 .8 1.2 .8 8 .8 -1.4 .9 .4 .7 -3.6 .8 6.8 .8 4 .8 6.7 .8 -1.7 .9 4.3 .8 1.7 .7 5.5 .9 .5 .7 -1.8 .9 -3.2 .8 12.2 .8 -4.3 .8 -1.6 .8 -.4 .8 1.1 .8 9.7 .7 .8 .8 4.2 .9 5.6 .8 -4.4 .7 4.2 .9 -1.9 .8 0 .7 -2.8 .9 6.8 .8 8.8 .7 -3.8 .8 4.1 .8 .3 .8 8.1 .9 -.1 .7 -5.7 .9 2.2 .7 6.1 .8 -3 .8 .1 .9 5.2 .8 -.4 .7 .2 .9 8.9 .8 -4.9 .8 -4.7 .7 7.4 .8 1 .9 6.1 .8 -4.5 .8 -3.3 .8 4 .8 -4.4 .8 4.5 .7 3.6 .9 -3.4 .8 -3.6 .7 3.2 .9 1.6 .7 6.1 .9 -1.7 .7 3.5 .9 -1.1 .8 4.5 .7 -1.7 .9 5.8 .7 .8 .9 6.3 .8 -2.2 .7 -4 .9 -2.8 .8 4.1 .8 3.3 .9 4.6 .6 -6.3 .9 -2.6 .9 -.4 .7 1.2 .8 3.7 .7 1 .8 1.5 1 2.9 .6 2.4 .8 -6.6 .8 6.3 .9 .1 .8 1.6 .9 1.1 .8 -3.6 .7 8.7 .8 -3.4 .9 .9 .6 .7 .9 -1.7 .8 1.2 .9 .5 .8 -3.9 .6 0 .9 7.5 .8 -5.3 .9 10.8 .6 -11.1 .9 4.6 .9 -.5 .6 2 .9 -3 .9 5.5 .7 6.5 .8 -8.4 .9 -6 .7 9.8 .8 -.7 .7 .6 .9 -5.2 .9 4.8 .6 2.7 .9 -3.4 .8 2.8 .9 1.6 .6 .3 .9 -3.3 .8 2.7 .8 7.6 .9 .8 .8 -10.8 .6 11 .8 -9 .9 5.1 .8 -7.9 .8 4.1 .8 -.1 .9 7.7 .8 .3 .6 2.1 .8 -.1 .9 -1.4 .8 1.4 .9 -3.9 .6 -1.6 .9 -2 .8 -.1 .9 2.7 .6 4.3 .9 3 .9 -3.7 .6 7.6 .9 -1.8 .9 -3 .6 1.7 .9 .2 .9 -.9 .7 2.6 .7 -43.4 .8 -104.5 .8 -86 .8 -62.5 .8 -43.9 .8 -41.6 .8 -24 .8 -23 .8 -21.4 .8 -13.8 .8 -20.8 .8 -6.4 .8 -18.2 .8 -16 .8 -11.9 .8 -11.7 .8 -15.9 .8 -7.1 .8 -6.1 .8 -18.6 .8 -3.6 .8 -13.2 .8 0 .8 -2.6 .8 -11.1 .8 -9 .8 -3.7 .8 -2.3 .8 -12.2 .8 -4.6 .8 2 .8 -11 .8 .8 .8 -7.7 .8 -5.5 .8 4.3 .8 -3.4 .8 -11.7 .8 6.2 .8 -11.8 .8 -2.7 .8 -4.4 .8 -7 .8 5.5 .8 -4.9 .8 -.8 .8 -4.1 .8 -5.5 .9 4.8 .7 -9.4 .8 -5.2 .9 1.1 .7 -7.3 .8 5.4 .8 5.2 .9 -10 .7 2.1 .9 -8.8 .8 1.6 .7 2.4 .9 -8.3 .8 .1 .7 6.7 .8 -4.3 .8 .5 .8 -.8 .8 -6.2 .8 -1 .9 -.7 .8 7.3 .7 -8.6 .9 -3.2 .7 3 1 .7 .7 1.1 .8 -8.1 .8 10.1 .9 -9.1 .6 2.9 .9 -1.5 .7 -3.6 1 4.7 .7 -.5 .7 2.3 1 2.1 .7 .2 .7 -4.4 1 -1 .7 -4 .8 -4 .9 6.7 .8 -2.9 .7 1.6 .8 -.5 .7 3.2 1 -3 .8 9.7 .7 -5.2 .8 -5.1 .7 2.8 1 3.4 .8 -9.4 .7 4.8 .8 -2.9 .7 1.7 1 -2.2 .8 2.3 .7 .9 .8 .9 .7 -7 1 7.9 .8 -2.8 .7 -2.6 .8 1.9 .7 5.8 1 -6.2 .8 -2.3 .7 6.1 .8 -2.5 .7 4 1 -1.2 .8 3.6 .7 -7 .8 1.1 .7 5.4 1 1.8 .8 -6.1 .7 2.5 .8 -3.6 .7 -1.8 1 -4.7 .8 14.3 .7 -1.7 .8 -11.3 .7 10.9 1 -5.4 .8 -1.7 .7 1.9 .8 5 .7 -3.2 1 -1.4 .8 -.6 .7 -1.1 .8 3.1 .7 -8.4 1 1.3 .8 3.6 .7 -3.7 .8 5.2 .7 -1.4 1 3.2 .8 -1.3 .7 3.3 .8 -2 .7 2.3 1 -4.4 .8 -5.4 .7 6.4 .8 .5 .7 -1.9 1 4.8 .8 -2.3 .7 3.6 .8 -5.8 .7 1.2 1 4 .8 3.1 .7 -9 .8 2.8 .7 -2.6 1 -1.2 .8 4.3 .7 .3 .8 .2 .7 -4.1 1 2.7 .8 -6 .7 7.3 .8 -7.1 .7 3.7 1 4.5 .8 -3.1 .7 2.1 .8 -2.4 .7 8 1 -11.2 .8 1.4 .7 1.1 .8 8.6 .7 -9.9 1 2.2 .8 2.3 .7 -10.1 .8 10.4 .7 -1.3 1 4.6 .8 .3 .7 -3.8 .8 2 .7 -6.1 1 -1.2 .8 3.9 .7 2 .8 -1.9 .7 2.2 1 .2 .8 3.1 .7 -6.4 .8 -.5 .7 1.5 1 -.8 .6 29.1 .8 109.1 .8 60.3 .8 43.2 .8 30.6 .8 23.6 .8 7.4 .8 16.8 .8 15.7 .8 4.6 .8 9.8 .8 5.8 .8 12.3 .8 3 .8 5.2 .8 9 .8 13 .8 4.8 .8 .9 .8 7 .8 17.9 .8 1.3 .8 16.5 .8 7 .8 12.4 .8 4.6 .8 1.7 .8 20.4 .8 2 .8 6.1 .8 12.8 .8 3 .8 7.1 .8 .3 .8 5.3 .8 5 .8 .8 .8 10.1 .8 3.4 .8 1.7 .8 3.5 .8 7.8 .8 -.3 .9 5.5 .8 2.2 .7 .3 .9 -4.2 .7 11.3 .8 5 .8 -1.4 .9 3.2 .7 7.7 .8 -4.9 .8 11.2 .9 .7 .7 6.2 .8 -1.2 .8 3.4 .9 2.9 .7 -5.1 .9 3.7 .7 8.5 .8 -3.9 .8 1.7 .8 7.4 .8 6.7 .9 -2.1 .7 1.4 .8 2.7 .8 3.5 .9 -4.6 .7 9.2 .9 3 .8 4.9 .8 3.1 .8 1.6 .8 3 .8 -1.2 .8 0 .8 6.4 .7 -4.5 .8 -.6 .9 2.5 .7 3.7 .8 -3.1 .9 9.8 .7 -.8 .9 5.3 .7 -6.4 .9 3.7 .8 -.7 .8 4.6 .8 .8 .8 3.4 .7 1.7 .9 -4.4 .7 5.9 .8 .3 .8 .9 .8 3.4 .9 -6.9 .7 5.5 .9 2.5 .7 -2 .9 -1.2 .8 7.4 .8 .8 .8 4.5 .8 -7.4 .7 -1.9 .8 9.9 .8 -2.3 .9 -.8 .8 7.4 .8 -.5 .7 -5.2 .9 6.2 .8 -6.3 .7 8 .9 -4.5 .8 1.4 .7 10.1 .9 3 .7 -2.6 .9 -2 .8 6.6 .8 -1.6 .7 .9 .9 -1 .8 -2.8 .7 4.7 .8 7.7 .9 -6.1 .8 3.4 .8 1.7 .7 4.2 .9 -2.1 .8 -2.9 .7 7.8 .8 -5.1 .8 2.1 .8 -2.3 .8 -2.8 .8 6.4 .9 -3.1 .8 2.6 .8 -6.1 .9 11.9 .6 -5.5 .9 3.4 .8 -5.7 .9 4.5 .6 -.1 .9 3.1 .8 -.6 .9 -6.4 .6 8.3 .9 .9 .8 -1.4 .9 1.7 .6 1 .9 1.6 .8 -6.4 .7 2.1 .9 4.3 .9 3 .6 -5.5 .9 3 .9 -4.8 .6 4.5 .9 0 .9 3.4 .6 3.6 .9 -7.2 .9 4.4 .6 -6.3 .9 7.9 .9 6.8 .8 -9.8 .6 4.8 .9 -8.2 .8 13.3 .9 3.1 .8 -7.6 .8 4.3 .6 3.8 .8 -7.1 .9 3.7 .8 -3.1 .8 1.1 .8 2 .9 3.4 .8 -2 .6 -.9 .9 -.3 .8 4.5 .8 -1.7 .9 -.1 .6 -7 .9 6.3 .9 -1.4 .8 11.6 .7 -2.8 .8 2.8 .9 -8.4 .7 -2.3 .8 3.8 .9 5.8 .7 -2.4 .9 2.1 .6 -.5 .9 -1.2 .7 -199.8 .8 -71.1 .8 -50.5 .8 -38.9 .8 -32.3 .8 -30.9 .8 -17.7 .8 -11.5 .8 -15.4 .8 -15.7 .8 -19.9 .8 -8 .8 -18.1 .8 -19.4 .8 -4.8 .8 -15.5 .8 -7.1 .8 -10.4 .8 -7.6 .8 -4.4 .8 -3.8 .8 -12.7 .8 -7 .8 -6.4 .8 -3.6 .8 -4.1 .8 -10.9 .8 .3 .8 -.4 .8 -8.3 .8 -4.2 .8 -8.5 .8 2.3 .8 -8 .8 -7.2 .8 -5.7 .8 .7 .8 .6 .8 -12.8 .8 -6.1 .8 -7.5 .8 4 .8 -10 .8 -1.9 .9 -3.9 .7 -1.5 .8 3.8 .9 -7 .7 2.1 .9 -3.9 .7 .8 .9 2.3 .8 -1.7 .7 -7.9 .9 2.8 .8 -4.5 .8 4.3 .7 -6.2 .9 -2.8 .7 5.1 .8 -5.4 .9 1.7 .8 1 .8 -5.3 .8 0 .8 2.4 .7 3.4 .8 -5.2 .9 -.5 .7 -3.2 .9 -1.3 .7 3.9 1 -10 .8 -1.7 .8 6.5 .8 -8 .6 -1.3 .9 6.4 .7 2.2 .9 2.7 .8 .9 .9 -15.7 .7 5.1 .8 -.7 .9 3.1 .8 -2.8 .7 4.5 .7 1.5 1 -.8 .7 -4.9 .8 2.4 .7 -4.8 1 0 .7 2.3 .8 3.7 .8 -10.1 .7 6.7 1 5.6 .8 -3.3 .7 -1.6 .8 2.9 .7 4.1 1 -6.9 .8 -2.4 .7 5.1 .8 -3.4 .7 -1.6 1 4.5 .8 -6.6 .7 2 .8 6.4 .7 -3.5 1 4.3 .8 -10.4 .7 1.5 .8 3.4 .7 2.9 1 -6.4 .8 7 .7 -3 .8 .5 .7 2.3 1 -1 .8 -3.9 .7 2.3 .8 -4.7 .7 7.7 1 -7.2 .8 -.1 .7 -2.1 .8 1.8 .7 .4 1 -.8 .8 -2 .7 9.6 .8 -2.1 .7 -5.6 1 -1.3 .8 3.3 .7 -1 .8 -2.5 .7 2.5 1 5.6 .8 5 .7 -1.9 .8 1.1 .7 2.1 1 0 .8 -1.5 .7 -2.8 .8 -3.5 .7 -4 1 4.6 .8 2.7 .7 -2.9 .8 -3.1 .7 3.7 1 -2.7 .8 -1.9 .7 -4.1 .8 8 .7 -4.7 1 6.5 .8 -5.6 .7 4.1 .8 -.6 .7 7.5 1 0 .8 -4.6 .7 4.3 .8 -9.8 .7 6.6 1 -4.4 .8 1.4 .7 -1.5 .8 3.3 .7 -8.7 1 5 .8 7 .7 -12.3 .8 7.6 .7 -4.6 1 -5.2 .8 9.6 .7 -3.1 .8 6.6 .7 -10.5 1 8.3 .8 4.2 .7 -12.9 .8 7.6 .7 -1.2 1 -2.2 .8 5 .7 -1.4 .8 -3.8 .7 0 1 1.4 .8 5.3 .7 -7.2 .8 3.4 .7 -2.9 1 4.2 .8 1.1 .7 3.2 .8 .5 .7 -7.8 1 -2.5 .7 1.8 .8 .2 .7 .4 .8 91.1 .8 80.3 .8 50.3 .8 32.4 .8 27.3 .8 13.2 .8 20 .8 14.8 .8 3.5 .8 15.5 .8 5.3 .8 5.8 .8 15.8 .8 6.4 .8 3.2 .8 10.9 .8 2.6 .8 5.5 .8 17.4 .8 5.2 .8 14.2 .8 4.1 .8 9.2 .8 7.2 .8 9.4 .8 4.8 .8 10.2 .8 2.5 .8 7.1 .8 8 .8 7.4 .8 5.4 .8 3.4 .8 9.2 .8 10 .8 -10.8 .8 16.8 .8 1.6 .8 -1.9 .8 6.2 .8 -2.1 .8 9 .8 10.8 .8 -5.3 .8 6.6 .9 5.9 .7 4.1 .8 -.6 .8 .1 .8 7.2 .9 -.9 .7 11.9 .8 .4 .8 -1.8 .9 -.7 .7 3.8 .9 2.7 .7 4.1 .8 4.7 .8 -4.5 .8 7.1 .9 2.2 .7 0 .8 11.2 .8 0 .8 1.8 .8 -1.4 .9 1.3 .8 4.9 .7 -2.9 .9 9.1 .7 -3.4 .9 5.5 .8 3 .8 -2.3 .8 .6 .8 2.8 .8 6.8 .8 -1.3 .7 5.2 .8 4.5 .9 -8.7 .8 6.5 .7 6.6 .9 -2.3 .8 1.9 .7 -.1 .9 7.7 .8 -10.5 .7 7.6 .8 .2 .8 1.3 .8 -2 .9 4.6 .7 .3 .9 2.1 .7 12.8 .8 -1.8 .8 -6.9 .9 1.9 .8 5.1 .7 4.9 .9 -4.6 .8 3.5 .8 -1.4 .7 4.4 .8 -4.3 .9 1.7 .8 5.5 .8 .6 .8 -1 .8 4.1 .8 -1.3 .7 -.6 .9 -2.2 .8 8.2 .7 1.6 .9 -4.1 .7 3.4 .9 -1.6 .7 5.6 .9 -.4 .8 -5.1 .7 6.8 .9 .3 .7 1.5 .9 6 .8 -1.4 .7 1.8 .9 -3.6 .8 6.6 .8 -6.8 .9 5.8 .6 -7.8 .9 6.6 .9 -2.9 .7 .4 .8 9.7 .7 .2 .8 2.1 1 -1.5 .6 .4 .8 -1.2 .8 -.3 .9 1.5 .8 8 .9 -11.4 .8 -1.9 .7 2.5 .8 2.1 .9 6 .6 3.4 .9 1 .8 -4.4 .9 3.4 .8 4.2 .6 -4 .9 2.9 .8 -7.3 .9 7.1 .6 .1 .9 -6.7 .9 4.9 .6 2.4 .9 -5 .9 6.5 .7 .4 .8 -2 .9 -1.2 .7 -.3 .8 2.2 .7 3.1 .9 -8.1 .9 6.2 .6 .8 .9 -3.3 .8 -.9 .9 4 .6 -5.5 .9 6.3 .8 -2.1 .8 -2.5 .9 4.7 .8 -2.1 .6 1.4 .8 8.4 .9 -4.9 .8 -4.3 .8 11.5 .8 -4.3 .9 -.3 .8 7.2 .6 -7.2 .8 2.5 .9 -6.6 .8 2 .9 2.7 .6 6.6 .9 -4.7 .8 -4.1 .9 10 .6 -2.9 .9 3.9 .9 3.5 .6 3.1 .9 -6.1 .9 4.8 .6 -8.3 .9 4 .9 .4 .7 -1 .7 -234.8 .8 -59.7 .8 -42.7 .8 -37.6 .8 -28.7 .8 -24.5 .8 -14 .8 -17.9 .8 -15.4 .8 -16 .8 -12.9 .8 -21.4 .8 -12.7 .8 -12.9 .8 -9.9 .8 -7.7 .8 -11.2 .8 -14 .8 .6 .8 -6 .8 -6.2 .8 -7 .8 -14.3 .8 -1.1 .8 -3.1 .8 -6.1 .8 -9.3 .8 -4.7 .8 -9.3 .8 .8 .8 -12.8 .8 2.5 .8 .6 .8 -11.4 .8 4.8 .8 -3.1 .8 -8.1 .8 -8.2 .8 -4.2 .8 -6.5 .8 3.9 .8 -9.1 .8 2 .9 -7.5 .7 3.1 .8 -9.1 .8 2.5 .9 -4.2 .8 4.1 .8 -7.2 .8 -1.3 .8 2.5 .8 -10.1 .8 -3.2 .8 1.2 .8 -5.6 .7 8.7 .9 -5.5 .7 .6 .9 -2.8 .8 -6.5 .8 9.4 .8 -6.1 .8 -6.2 .8 .7 .8 2.8 .8 3.8 .7 -3.2 .9 .3 .9 .1 .7 -4.1 .8 .8 .7 2.3 .8 -5 .8 4.1 .8 .7 .9 -12.8 .9 5 .7 -1.3 .7 1.4 1 6.9 .7 -10 .7 11.4 1 -4.9 .7 4.4 .8 -10 .9 2.2 .7 -1.8 .8 1.9 .7 -5.1 1 .4 .7 1.9 .8 2.6 .7 -7 1.1 3 .7 -1.4 .8 3.2 .7 2.4 .8 -7.1 .7 2.9 1 2.9 .8 -2.7 .7 7.5 .8 .1 .7 -3.6 1 -.9 .8 -5.5 .7 1 .8 5.5 .7 4.2 1 -6.3 .8 1.9 .7 4 .8 .1 .7 -9.5 1 5 .8 2.3 .7 -8.2 .8 3.6 .7 1.5 1 -3.4 .8 3.1 .7 -3.1 .8 -3.9 .7 2.6 1 -2.3 .8 3 .7 6.4 .8 -1.7 .7 .3 1 2.7 .8 -8.6 .7 2.5 .8 2.2 .7 5.6 1 -4.5 .8 -.6 .7 2.6 .8 -3.4 .7 -3.4 1 8.5 .8 -4.1 .7 1.8 .8 -6.7 .7 .8 1 6.4 .8 -1 .7 3.1 .8 -5.8 .7 2.3 1 1.7 .8 -.1 .7 -3.9 .8 1.1 .7 -.6 1 1 .8 1.1 .7 2.2 .8 -6.1 .7 4.6 1 -3.3 .8 3.7 .7 -1.2 .8 1.2 .7 -2.2 1 -.8 .8 -5.6 .7 8.9 .8 -10 .7 -.7 1 7.9 .8 1.1 .7 -2.3 .8 -1 .7 -3.3 1 10.1 .8 -12.7 .7 14.5 .8 -13.4 .7 1.9 1 2 .8 -1.3 .7 3.6 .8 -3.7 .7 2.7 1 -4.6 .8 9.1 .7 -5.9 .8 -1.7 .7 3.3 1 3.9 .8 -1.3 .7 -3.9 .8 2 .7 -.6 1 -.3 .8 -2.6 .7 3.9 .8 -5.9 .7 4 1 -3.8 .8 3.1 .7 -2 .8 4.6 .9 -3.7 .8 5.4 .7 -7.3 .8 6.4 .7 -3.6 1 .1 .8 1.8 .6 29.8 .8 107.9 .8 62.3 .8 38.3 .8 29.2 .8 16.8 .8 25.6 .8 11.7 .8 6.7 .8 7 .8 9.6 .8 13.4 .8 7.6 .8 3.4 .8 13.1 .8 7.7 .8 6.6 .8 7.3 .8 7.8 .8 8.1 .8 8.5 .8 8.6 .8 15.9 .8 -.8 .8 13.7 .8 9.6 .8 11.9 .8 -2.3 .8 13.6 .8 6.6 .8 5.5 .8 9.2 .8 -6.4 .8 14.9 .8 1.5 .8 6.7 .8 2.5 .8 1.7 .8 .2 .8 11.3 .8 .6 .8 -1.1 .8 7.6 .9 .5 .8 4.7 .7 7.5 .9 5.9 .7 -6.7 .8 8.8 .8 4.1 .9 -4.8 .7 5.8 .8 5.9 .8 6 .9 -4.2 .7 .3 .8 5.3 .8 2.5 .9 4.7 .7 3.3 .9 -3.3 .7 11 .8 -5.2 .8 10.4 .8 4.1 .8 2.8 .9 1.8 .7 1.5 .8 -2.7 .8 1.7 .9 12.9 .7 1.2 .9 2.3 .8 .5 .8 -6.3 .8 11.8 .8 -3.3 .8 1.9 .8 3.3 .8 -4.7 .7 7.8 .8 -9.7 .9 14.2 .7 .1 .8 -2.2 .9 7.9 .7 2.4 .9 -.2 .7 .9 .9 -3.4 .8 5.5 .8 1.2 .8 2.2 .8 -.8 .7 -6.4 .9 8.9 .7 -4.7 .8 3.8 .8 4 .8 2.1 .9 -1.3 .7 2.4 .9 1.7 .7 .4 .9 1.9 .8 2.5 .8 1.8 .8 -5 .8 -.8 .7 10.7 .8 -1.9 .8 -7.4 .9 11.9 .8 .5 .8 -9.3 .7 3.6 .9 3.7 .8 -1.4 .7 3.1 .9 3.1 .8 4.6 .7 -8.9 .9 8.2 .7 5.7 .9 -9.7 .8 11.9 .8 -.8 .7 -2 .9 4.8 .8 2.6 .7 .5 .8 5.1 .9 -8.3 .8 -3.7 .8 6 .7 2.7 .9 4.2 .8 -1.7 .7 -3.6 .8 7.2 .8 -3.2 .8 -.9 .8 -1.3 .8 3.1 .9 1.9 .8 -.6 .8 -7 .9 6.1 .6 5.4 .9 5 .8 -.7 .9 -.5 .6 1.5 .9 -4 .8 2.3 .9 -.8 .6 -2.5 .9 -3.9 .8 -1.8 .9 7.7 .6 -5.2 .9 4.8 .8 3.6 .7 -4.9 .9 6.2 .9 -2.1 .6 -2.2 .9 6.4 .9 1.2 .6 -3.8 .9 3.9 .9 -5.6 .6 4.2 .9 .4 .9 -4.7 .6 4.8 .9 6 .9 -6.8 .8 -2.1 .6 -1.9 .9 2.2 .8 -.2 .9 .2 .8 9 .8 3.1 .6 -3.7 .8 3.3 .9 1.6 .8 -3.6 .8 -.8 .8 2.8 .9 -3.5 .8 6.5 .6 3.4 .9 -9.3 .8 -2.7 .8 3.3 .9 0 .6 5.3 .9 4.6 .9 -1.4 .8 4.5 .7 -4.4 .8 -.9 .9 -6.7 .7 8.5 .8 -3.4 .9 .6 .7 1.3 .9 8.1 .6 -1.3 .9 -1.9"/>
<path class="cv" stroke="#0000ff" d="M317.6 44.1l.8 11.7 .8 32.1 .8 21.4 .8 24.8 .8 27.4 .8 14.5 .8 37.6 .8 15.6 .8 31.6 .8 19.2 .8 21.5 .8 18.2 .8 42.7 .8 24.1 .8 29.3 .8 12.1 .8 21.4 .8 25.4 .8 24.5 .8 21.7 .8 22.1 .8 10.2 .8 18.3 .8 28.5 .8 11.5 .8 22.8 .8 27.3 .8 6.2 .8 20.1 .8 15.5 .8 13.8 .8 16.1 .8 15.2 .8 13.6 .8 21.8 .8 12 .8 4.9 .8 24.3 .8 7.7 .8 12.9 .8 11.7 .8 20.1 .8 7.5 .8 6.6 .8 8.8 .8 17.7 .8 2.8 .8 8.9 .8 22.9 .8 .4 .8 11.7 .8 7.9 .8 10.2 .8 8.3 .8 21.6 .8 13.6 .8 11.1 .8 18.5 .8 22 .8 6.6 .8 11.3 .8 8 .8 10.8 .8 14.2 .8 10.3 .8 5.7 .8 11.2 .8 .2 .8 9.9 .8 11.7 .8 11.6 .8 .6 .8 13.5 .8 -1.3 .8 17.5 .8 8.3 .8 .3 .8 10.7 .8 10.4 .8 3.5 .8 10.8 .8 7.8 .8 11.6 .8 8.4 .8 -.6 .8 8.3 .8 13.1 .8 .2 .8 7.1 .8 9.3 .8 1.6 .8 10 .8 1.4 .8 4 .8 2 .8 .3 .8 12.1 .8 -.3 .8 17.7 .8 5.6 .8 4.4 .8 8.8 .8 9.1 .8 -10.1 .8 12.4 .8 9.6 .8 .4 .8 5.4 .8 9.9 .8 2.2 .8 -2.9 .8 19.3 .8 -2.1 .8 13 .8 9.6 .8 -4.1 .8 17.6 .8 .6 .8 3.3 .8 7 .8 1.5 .8 10.2 .8 5.2 .8 -7.9 .8 8.3 .8 14.2 .8 -3.1 .8 13.7 .8 3.4 .8 7.8 .8 -2.2 .8 8.8 .8 5.1 .8 -166.5 .8 -289.8 .9 1.9 .7 2.4 .8 2.5 .8 -1.8 .8 9.7 .9 -4.4 .8 -.2 .7 8.3 .8 -7.4 .9 12 .8 -5.1 .8 4 .7 2.9 .8 5.2 .8 -2.2 .8 3 .8 5.9 .8 -2.3 .8 4.3 .8 2 .8 3 .8 3.5 .8 4 .8 5.7 .8 -.8 .9 2.1 .7 18.9 .8 -8.9 .8 7.2 .8 1.2 .8 5.9 .8 1.1 .9 7.9 .8 .5 .7 3.9 .9 -3.2 .7 12 .9 -3 .7 2.2 .9 3.4 .7 .6 .9 .8 .7 7.7 .8 -7.5 .9 -4.2 .8 7.3 .7 -5.5 .9 6.3 .8 8 .8 3.7 .8 -8.1 .7 10.2 .9 -2.8 .7 10 .8 5.6 .8 -6.1 .8 10.4 .9 -3.8 .7 8.3 .8 -8 .8 1.5 .9 12.5 .8 .2 .7 -1.2 .9 -7.2 .7 2.3 .9 -2.6 .8 11.2 .8 -.5 .7 -2.8 .9 .9 .7 -1.9 .9 5.4 .8 4.8 .8 4.3 .8 4.7 .8 -5.8 .7 7.6 .8 -14.1 .8 9 .8 4.2 .9 -4.2 .8 3.9 .8 2.8 .7 -5.8 .9 4 .7 4.9 .9 -8.9 .7 10.2 .9 -5.7 .7 -6.1 1 8.7 .7 2.5 .7 -2.3 1 3.7 .7 2 .8 .2 .9 2.7 .7 4.8 .8 .2 .7 -3.8 .9 -8.3 .8 2.6 .8 4.5 .7 7.2 .8 -2 .8 6.5 .8 -5.2 .9 .2 .8 -3 .9 7.1 .6 -9.9 .9 9.3 .7 -1 1 -1.4 .7 6.4 .8 -1.4 .8 -1.7 .7 -4.1 1.1 -6.2 .7 -.6 .8 -5 .8 5.1 .8 7.5 .7 4.9 .8 -10.4 .7 11.1 1 1.6 .7 -.9 .8 1.3 .8 -6.1 .7 -2.2 1 2.8 .8 2.3 .7 -2.5 .8 -.8 .7 3.8 1 -6 .7 8 .9 -12.1 .6 14.8 .9 -.1 .8 1.6 .9 -12.1 .7 .4 .8 -3.7 .7 -3.3 .9 -4.1 .7 13.4 .9 -4.2 .8 .2 .8 -8 .7 7.1 .8 3 .9 -6.9 .7 1.4 .8 -10.2 .8 8.5 .9 -6.3 .9 -.3 .7 1 .9 -2.5 .7 4.3 .9 -4.3 .7 -2.6 .9 -4.1 .7 -1.2 .8 8.6 .9 1.2 .8 -4.3 .7 .9 .9 -.7 .6 3.5 .8 2.9 .9 -5.7 .8 -5 .7 5.8 .9 -3 .8 -13.1 .8 4.2 .7 6.6 .8 -4.6 .8 -2.7 .9 .8 .8 -8.5 .7 -.7 .9 3.9 .7 .2 .9 4.1 .8 -8.4 .8 .6 .8 4.1 .7 -10.8 .8 .2 .9 .5 .8 1 .7 -.6 .9 1.3 .8 -10.2 .8 -2.6 .7 3.3 .9 -9.3 .8 11.9 .8 -10.8 .7 .3 .9 .8 .7 -3.1 .8 -1.8 .8 174.2 .8 33.4 .8 12.4 .8 6.6 .8 2.3 .8 13 .8 11.7 .8 -2.7 .8 5.9 .8 4 .8 9.8 .8 -10 .8 13.1 .9 -.1 .8 .1 .8 -2.6 .7 4.7 .9 12.8 .8 -4.7 .7 -1 .9 5.9 .8 -9 .8 11.1 .8 -4 .8 11.4 .8 .9 .8 -3.5 .7 .2 .9 -3.2 .8 4.4 .8 .5 .9 -9.2 .7 -.6 .8 9.1 .8 -5.1 .8 2.9 .8 .1 .8 1.3 .8 .2 .8 5.8 .7 1.6 1 .3 .7 -7.8 .8 1 .7 -.2 .9 -5.9 .8 1.6 .8 7.7 .7 3 .9 1.8 .7 -5.7 .8 7.3 .9 -1.3 .7 .3 1 7 .7 -12.6 .9 -3.3 .7 18.5 .9 -8.8 .7 3.1 .8 -4.9 .7 -3 1 -1.1 .7 -1.2 .7 10.6 1 -4.3 .6 4.6 .9 2.1 .7 -1.3 .9 .4 .7 5.2 .8 -5.8 .9 0 .8 -1.1 .8 9.2 .7 2.2 .9 -5.3 .8 6.5 .7 -1.7 .9 -1.5 .8 -1.9 .8 13.3 .8 -3 .8 -8.9 .7 16.2 1 4 .6 -7.6 .9 -1 .7 1.1 1 3.2 .8 -7.4 .8 3.7 .6 -7.7 .9 14 .9 -7.8 .7 3.7 .9 2.2 .7 1.2 .7 -8.5 1 -.4 .8 9.2 .7 -9.9 .8 -.6 .8 2.1 .7 5.4 .8 -.5 .8 .7 .8 -2.6 .8 -2.9 .8 4.9 .8 1.8 .8 -8.7 .9 1.8 .8 2.3 .8 6.9 .8 -8.6 .9 2 .8 .5 .8 2 .8 2.1 .9 -7 .5 -8.3 .8 14.1 .8 -14.1 .9 9.5 .8 .7 .8 1.9 .8 -7.3 .8 6.2 .8 1.8 .8 .1 .7 2 .8 -10.9 1 1.3 .8 1.1 .7 1.7 .8 5.3 .8 -.8 .7 -3.5 .8 7.3 .8 -4.4 .8 -6.6 .8 12.4 .8 -10.3 .8 .5 .8 3.3 .9 -1 .8 .2 .8 -1.5 .8 -5.2 .9 -.9 .8 6 .9 -.8 .5 -.3 .9 -.3 .8 5.1 .8 -4.9 .9 -2.9 .8 8.3 .9 -2.5 .5 -5 .9 8.4 .8 -8 .9 2.9 .8 -.9 .8 -1.2 .9 1 .5 7.1 .8 -1.6 .9 -11.4 .8 11.2 .8 -12.2 .8 4.8 .8 5.4 .8 -7.6 .8 10.4 .8 -6.4 .8 4.8 .8 -1.2 .7 2.2 1 2.7 .8 -11.2 .7 7.2 .8 1.9 .9 4 .7 -2.3 .7 -4.4 1 -6 .6 -2.2 .9 2.3 .9 4.8 .6 0 .9 5.7 .8 -4.4 .8 2.7 .7 -9.1 .9 7.5 .8 -3.6 .8 -.9 .8 7.9 .8 -6 .8 -1.1 .7 -.6 .8 -7.3 .9 -2.9 .7 14 .8 -10.4 .8 -2.9 .9 -2 .7 -5.4 .8 -.3 .8 -2.3 .9 1.4 .8 -2.6 .7 -1.6 .8 -202.3 .8 -137.2 .9 -52.5 .8 -.9 .8 6.3 .8 -3 .7 4.4 1 -5.7 .8 7.7 .7 -9.3 .9 -3.3 .7 -4.1 .9 7.5 .6 -1.7 .9 2.8 .9 -4.4 .6 3.9 .9 -.3 .9 -4.9 .8 12.9 .6 -.8 .8 -7.5 .8 -.2 .9 -.9 .8 -.3 .8 -6.9 .7 4.8 .8 5.5 .8 -6.7 .8 1.2 .8 1 .8 8.4 .8 -1 .8 14.5 .8 8.1 .9 -1.9 .8 -.4 .8 -.9 .9 -.6 .7 -4.9 .7 -2.8 .8 17.2 .8 -5.3 .9 -13.7 .8 13.7 .8 -11.8 .8 5.1 .9 -4.4 .6 -1.4 .9 7.3 .7 -4.6 .8 -6.6 .9 13.1 .8 -.5 .7 3 .8 3.5 .8 9.5 .8 12 .8 4.3 .8 1.1 .8 .9 .8 -3.3 .8 9.7 .9 -15.1 .8 3.5 .7 1.6 .9 -1.7 .8 -1.7 .9 -4 .6 10.5 .9 -2.5 .7 -13.8 .9 3.6 .7 -1.5 .9 13.5 .9 -6.8 .7 -3.8 .7 5.1 1 -6.4 .7 4.4 .8 2.4 .8 -7.7 .8 7.3 .8 1.6 .8 -3.7 .8 5.8 .7 -5.2 .8 5 1 -4.6 .7 -2.1 .7 8.4 .9 -.9 .9 -4.3 .6 -11.4 .8 15.8 .8 -4 .8 2.8 1 -2.8 .7 -2.5 .8 -1 .7 8 1 1.3 .7 .1 .8 -9.4 .7 5.5 .8 4.8 .8 -7 .8 15.3 .8 -8.7 .8 9.5 .9 -7 .8 3.8 .9 -10.6 .6 -2.7 .9 4.6 .8 -3.2 .9 .7 .6 4.9 .9 4.9 .8 4.1 .9 -5.9 .8 -.8 .6 7.3 .8 -3.4 .8 -.5 1 2.9 .7 6.4 .8 -3.9 .8 -9.3 .7 18.8 .9 -12.8 .8 8.2 .8 -3.3 .9 8.4 .6 -3 .9 3.1 .8 -4 .7 -1 1 7.4 .7 -12.2 .8 3.1 .8 .2 .9 7.1 .6 .1 1 -.6 .7 7.2 .9 -1.1 .8 -4.9 .7 -4.4 .8 14.4 .7 -6.2 .8 -3.7 1 3.6 .8 1 .8 -4.7 .8 6.1 .8 -2.5 .8 -2.2 .7 7.5 .8 -7 .8 7.5 .7 -5.8 1 -2.4 .7 5.7 .7 -7.8 1 3.9 .7 4.1 .7 -6.4 1 .2 .7 6.9 .9 1.8 .7 -13.3 .7 13 1 3.4 .7 -7.6 .9 6.4 .7 -6.4 .7 -1.3 1 2.1 .7 5.3 .7 -5 1 -1.2 .7 2.3 .7 3.9 1 -11.6 .7 15.3 .8 1.6 .7 -12.2 1 3.1 .7 1.9 .8 -1.1 .7 8.5 1 -6.3 .8 -3.2 .7 -.3 .8 2.6 .7 -5.3 1 .6 .8 .3 .7 9.9 .8 -4.5 .8 -7.5 .7 7.7 1 -9.7 .8 7.1 .8 .3 .7 -.6 .7 44.3 .8 100.3 .8 87.9 .8 11.4 .8 5 .8 -1.4 .8 11.5 .8 -.3 .8 10.8 .8 8.1 .8 2.7 .9 2.5 .7 -6.5 .8 1.8 .9 6.1 .8 -7.1 .7 6.1 .9 -5.3 .8 5.3 .8 -.8 .8 11.7 .7 .8 .9 .5 .9 -8 .6 11.5 .9 -6.8 .8 -3.8 .8 8.2 .9 4.6 .7 -10.7 .7 10.1 .9 -4.7 .8 .3 .7 4 1 -2.3 .7 -.2 .8 8.8 .8 -15.2 .8 14.3 .9 -10.5 .8 11.6 .6 -9.7 .9 13.2 .9 -12.2 .6 15.9 1 -7.4 .7 -2.2 .7 -.7 .8 5.9 1.1 -5.5 .7 2.9 .8 -3.1 .8 -6 .8 13.4 .7 -6.7 .8 3.7 .9 1.3 .7 -.1 .8 7.5 .8 -3.8 .8 -2.4 .7 1.5 .9 -1.8 .8 -3.7 .7 10.3 .8 -8.9 .9 10.5 .8 -3.6 .7 5.1 .9 -1.9 .8 .7 .8 12.5 .8 -10 .7 -1.6 .9 7.4 .8 5.7 .8 -10.1 .7 5.1 .9 7.2 .7 .5 1 -1.8 .8 -4.8 .8 2.4 .8 -4.7 .6 4.2 .9 -2.7 .9 1.3 .7 -1.9 .9 4.2 .7 -2.6 .9 -3 .8 10.3 .7 -4.8 .7 -2.2 1 .2 .8 7.3 .7 -6.1 .8 1.4 .8 -4.5 .7 1.7 .8 -2.6 .8 -3.4 .8 -2.5 .8 2.9 .8 -2.9 .8 10.3 .8 1.3 .9 -8.1 .8 4 .8 -6.7 .8 3.5 .8 .6 .9 -8.1 .8 0 .8 9.8 .8 .7 .9 -1.9 .5 -2.2 .8 -.8 .9 -5.6 .8 14.9 .8 -14.9 .8 12.1 .9 -.9 .8 2.7 .8 -7.2 .8 .8 .8 5.5 .8 -6.1 .8 6.3 .8 -5.7 .8 6.2 .8 .1 .8 -3.1 .7 1.7 .8 -7.6 .8 2.7 .7 1.2 1 8.4 .8 -8.2 .7 3.5 .8 6.2 .7 -3.8 1 3 .8 -8.9 .7 7.8 .8 -6.1 .7 .6 1 .2 .8 -10.2 .7 15.8 .8 -4.4 .7 6.8 1 -5.9 .8 .4 .7 -9.8 .8 -.4 .7 7.9 1 -8.6 .8 5.8 .7 .1 .8 -3.6 .7 3.9 1 -.8 .8 1.9 .7 -5.4 .8 -.8 .7 9.8 1 1.5 .8 -5.3 .7 -5.1 .8 5.4 .7 -4.4 1 8.4 .8 -6.4 .7 -2.9 .8 1.7 .7 -2 1 5.1 .8 -5.1 .7 5.5 .8 1.2 .7 -2 1 -5.2 .8 7.3 .7 -2 .8 -4.1 .7 5.1 1 2.7 .8 -4.1 .7 -3 .8 -1.5 .7 3 1 3.1 .8 -.6 .7 4.7 .8 -1.6 .7 .1 1 -6.7 .8 2.6 .7 -1.5 .8 2.5 .7 .8 1 8.3 .8 -13.4 .7 6.8 .8 -3.7 .7 3.8 1 -1.3 .8 2.6 .7 -4.5 .8 -.6 .7 .2 .8 -228.4 .8 -120.2 .9 -41 .8 -2.4 .8 4.8 .7 -.2 1 1.3 .8 -4.2 .7 -3.1 .9 1.6 .7 9.2 .8 -7 .8 4.4 .7 -2.1 1 .5 .7 7.1 .8 -7.9 .8 3.4 .8 -.2 .8 1.8 .8 -.9 .8 -3.1 .8 4.4 .8 2.4 .7 11.9 .9 -3.7 .7 -3.3 .8 2.1 .9 -.7 .8 9.4 .8 -6.6 .8 -2.3 .8 15.1 .7 -11.5 .9 3.3 .8 .4 .7 7.1 .9 -4.1 .7 -.1 .9 8.6 .7 3.2 .9 -3.6 .7 -5.2 .8 7 .9 -4.3 .8 4.7 .8 .7 .8 -5.8 .7 9.5 .8 -2.6 .8 1.9 .8 -2 .8 10.8 .8 -5.7 .9 3.7 .8 -4.6 .8 -.8 .9 -.3 .6 -2.5 .9 5.2 .9 7.9 .7 -.1 .9 -6.8 .7 1.6 .9 11.3 .7 -2.2 .7 -2.2 .9 -.6 .8 1 .7 -6.6 1 9.5 .8 11 .7 -.3 .8 -9.1 .8 3 .8 -2.1 .8 -5.3 .8 -.7 .8 2.7 .9 5.2 .8 6.7 .6 -3.5 .9 -.2 .9 -.5 .7 6.7 .9 1.5 .7 -7 .9 -3.1 .7 1.7 .7 1.3 1 3.7 .7 .2 .7 -6.9 1 3 .7 -.8 .9 5.7 .7 -6.4 .8 -2.3 .9 8.3 .7 -2.3 .9 .4 .7 1.8 .9 -2.9 .7 4.4 .9 -4.8 .7 0 .9 7.6 .7 -3.3 .9 7 .6 -2.6 .9 -3.4 .7 1.1 .9 -1.5 .7 4.2 1 1.7 .7 -3.9 .9 -1.1 .7 -5.7 .7 9.8 1 -.2 .7 4.5 .8 -7.3 .9 3.9 .8 -3.9 .7 8.1 .8 -8.9 .7 10.2 1 -6.7 .8 -2.8 .7 8.8 .8 2.2 .8 -9 .7 -2.1 1 2.6 .8 -4.5 .7 .6 .8 -3.7 .7 5.2 1 -3 .7 6.5 .8 .6 .7 3.9 1 -1.7 .8 -.7 .7 7 .8 -8.4 .9 -6.2 .8 3 .7 3.8 .8 3.3 .7 .7 1 -9.4 .7 9 .8 -2.1 .7 1.4 1 -7.2 .8 2.5 .7 -6.2 .8 7.5 .7 -.7 1 5.7 .8 2.4 .7 -9 .8 6.8 .7 -.3 1 -6.8 .8 8.5 .7 -11.3 .7 -2.5 1 7.1 .7 8.9 .7 -3.7 1 -8.8 .7 5.1 .7 7 .9 -8.1 .8 3 .9 -2.9 .7 13.2 .7 -.9 .9 -12.6 .7 -2.3 1 10 .7 -.6 .7 -1.5 1 1.1 .7 -1.1 .7 5.6 1 0 .8 1.5 .7 -2.4 .8 -6.8 .8 .1 .8 .7 .7 1.6 1 -3.8 .7 -1.2 .7 2 .9 -1 .8 1.4 .7 7.1 .9 -1.9 .7 -8.4 .8 1 .8 -2 .9 -1.8 .7 -.1 .8 114.1 .8 74.2 .8 16.3 .8 8.5 .8 16.1 .8 13 .8 7 .8 8.8 .8 .1 .8 10.1 .8 7.8 .8 -8.6 .8 15.9 .9 -15.6 .8 12.7 .7 -4.6 .8 5.8 .8 1.3 .9 2.3 .8 6 .9 -4.3 .7 2.3 .8 3.4 .8 -6.7 .8 -7.3 .8 6 .9 1.7 .8 .7 .8 7.9 .7 -1.4 .7 -3.2 .8 1.4 .9 -3.3 .8 4 .7 10.1 .8 -13.7 .9 15 .8 -6.2 .7 1.2 .9 0 .8 -2.1 .8 9 .8 -2.3 .8 .9 .7 4.5 .9 8.7 .7 -7.1 .8 2.8 .8 7.1 .9 -10.9 .7 7.4 .9 6.8 .8 -9.8 .8 -5.9 .8 11.6 .8 -5.9 .8 6.5 .8 -3.9 .9 -1.9 .6 -6.3 .9 7.5 .9 -3.5 .7 1.2 .9 2.4 .7 1.9 .9 -.2 .7 -1.8 .8 -8.2 .9 3.2 .8 .5 .7 6.9 .7 1.2 1 -7.3 .8 2.5 .8 -1 .7 2.9 .8 -1.2 .8 1.2 .7 -5.1 .8 1.6 .8 10.4 .8 -13.1 .8 12.7 .8 -.8 .8 2.3 .8 -3.3 .8 -1.8 .8 1.4 .9 -5.8 .8 -1 .8 -1.5 .8 3.8 .8 -.5 .8 .5 .9 4.4 .8 -2.2 .8 -7.5 .9 3.9 .5 4.8 .8 -5.4 .9 3.6 .8 -12.4 .8 6.1 .8 -6.1 .9 7.6 .8 -3.8 .8 4.2 .8 4.5 .9 -4.6 .5 0 .8 0 .9 3.7 .8 1.7 .8 -9.5 .8 -1 .8 4 .8 -5 .8 0 .8 9 .8 -3.4 .8 10 .8 -9.9 .8 10.4 .8 -.9 .8 -6.1 .7 2.7 .8 -12.8 1 11.1 .8 -2.4 .8 -4.6 .7 9.2 .8 -14.1 .7 11 1 -2.5 .8 1.4 .7 -6.4 .8 9.5 .7 -5.2 1 2.7 .8 3.3 .7 -7.8 .8 -6 .7 9.7 1 -.3 .8 -1.3 .7 -.8 .8 -1.1 .7 3.7 1 1.8 .8 -3.4 .7 8.9 .8 -5.5 .7 3.8 1 -4.5 .8 -.4 .7 3.8 .8 -1.6 .7 1.8 1 -.7 .8 -4.8 .7 3.2 .8 -.6 .7 .5 1 1.7 .8 -2.7 .7 .6 .8 2.1 .7 -5.4 1 8.5 .8 1 .7 -13.5 .8 10.8 .7 -7.3 1 -1.3 .8 5.5 .7 -7.5 .8 4.1 .7 -3.8 1 -1.7 .8 13.6 .7 -10.3 .8 -1.4 .7 3.7 1 9.1 .8 -14.5 .7 11.8 .8 -7.9 .7 4.2 1 -.7 .8 5.6 .7 -6.3 .8 9.2 .7 -7 1 -5.9 .8 5 .7 1.3 .8 -.8 .7 1.5 1 -4.2 .8 7.7 .7 -2.6 .8 -8.2 .7 1.6 1 -1.8 .8 1.9 .7 2.4 .8 -2.6 .7 1.2 1 3.9 .8 .4 .7 1.8 .8 -12 .7 5.3 1 .6 .8 .3 .6 -161.5 .8 -139.2 .8 -56.3 .8 -21.4 .8 -15.1 .8 5.7 .9 -12.7 .8 10 .7 4.4 .9 -4.7 .7 -6.4 .9 -.1 .7 .6 .8 .2 .8 6.8 .8 3.3 .8 2.4 .9 -4.1 .8 -1.6 .8 3.2 .8 1.2 .8 4.5 .8 .3 .8 12.9 .9 -11.6 .7 .3 .8 9.1 .8 -5.2 .8 8.2 .9 -.3 .8 -4.7 .6 -.3 .9 -9.5 .8 12.9 .9 -4.6 .8 1.4 .7 1.3 .8 -3.5 .9 -4.8 .8 1.2 .7 -3.3 .7 7.1 1 -4.8 .7 .8 .8 -1.2 .7 2.9 1 -2.9 .7 6.7 .8 -4.5 .9 6.2 .8 -2.8 .7 1.9 .8 2 .9 -2.7 .8 -.6 .7 4.4 .8 -4.8 .7 2.4 1 .9 .8 -9.7 .7 1.6 .7 10.7 1 -8.4 .8 -.1 .7 2.1 .8 -3.5 .7 -1.8 1 -.2 .8 5.5 .7 3.5 .7 -7 1 4.7 .8 4.1 .7 -6.7 .8 4.5 .7 3.5 1 .3 .8 3.1 .7 -7.9 .7 2 1 4 .8 -1.9 .7 3.9 .8 -5.3 .9 -8.8 .8 2.2 .7 -5.1 .8 7.6 .7 5.1 1 -2.8 .7 -5 .8 -8.1 .7 7.4 1 -3.1 .7 .7 .8 3.7 .9 9.6 .8 -12.1 .7 -2 .9 -2.8 .7 11 .7 -7.2 1 -3 .7 6.7 .9 4 .7 -6.1 .9 5.8 .7 -6.6 .9 12.5 .7 -11.1 .9 4.2 .7 -3.9 .9 2.5 .7 4.3 .7 -4 1 1.8 .7 5.7 .7 5.5 1 -5.7 .8 -3.6 .7 .7 .7 -5.7 1 1.9 .8 .9 .7 6.7 .8 -3.2 .7 -2 1 11.3 .7 -9.7 .8 4.2 .7 -1.2 1 -1.8 .8 1.7 .7 -8.6 .7 7.4 1 4.4 .7 2.8 .8 -8.5 .9 6.5 .8 -3 .7 -5.4 .7 -4.9 1 9.3 .7 -2.9 .7 9 1 -2.8 .7 -8.4 .8 3.4 .9 2.6 .8 3.2 .7 -12.6 .7 9.8 1 -7.1 .8 5.1 .7 -2.3 .7 8.5 1 -1.6 .8 7.2 .7 -1.4 .8 -9 .7 -7.6 1 7.4 .8 -1.8 .7 3.9 .8 -1.5 .7 2.2 1 6.4 .8 -3.8 .7 -6.4 .7 2.8 1 -6.7 .8 4.4 .7 5.6 .8 -4.7 .7 -2.8 1 6.7 .8 -2.8 .7 8.9 .8 -8.4 .9 -2.1 .8 -2.2 .7 -4.8 .8 5.8 .7 3 1 -5.4 .8 5.7 .7 2.1 .8 -.1 .7 -5.2 1 -.4 .7 6.7 .8 -6.7 .7 .6 1 .6 .8 8.2 .7 -14.6 .8 12.3 .7 -1.6 1 3.2 .8 -4.3 .7 7.1 .8 -5.6 .7 -6.5 1 -.8 .8 3.7 .7 0 .8 -.5 .7 100.4 .8 112.9 .8 3.2 .8 10.7 .8 5.3 .8 7.3 .8 -.9 .8 13.8 .8 .4 .8 9.9 .8 -4.8 .9 5.6 .7 -2.2 .9 4.5 .7 4.6 .9 .2 .8 4.9 .8 1.6 .7 -1.1 .9 .6 .7 -4.9 .9 2.7 .8 .6 .8 -2.1 .8 7.1 .8 .7 .8 -3.1 .7 4.1 .8 3.5 .9 1.6 .8 6 .8 -7.6 .7 -1 .9 6.3 .7 4.2 .9 5.4 .8 -7.9 .9 3.5 .7 1.4 .8 -1.1 .8 -7.5 .9 9.5 .6 5.5 .9 -3 .9 -3 .7 -3.7 .7 1.3 .9 6.4 .7 -1.1 1 .3 .7 -5.3 .9 7.1 .7 .3 .8 -4.1 .8 3.9 .8 -.5 .8 8.1 .9 -6.8 .8 -.1 .8 -6.3 .8 3.9 .7 -2 .9 0 .6 9.5 1 -2.8 .7 1.3 .7 -3 .8 -5.1 .8 5.2 .9 6.6 .7 -6.1 .9 5.2 .7 2.5 .8 6 .9 -3.5 .9 3.6 .6 -.3 1 -4.2 .7 1.5 .8 -6.3 .8 4 .8 5.4 .8 0 .8 -.9 .8 -2.4 .8 3 .7 -.3 1 -1 .7 -5.9 .7 16.3 .9 .3 .9 -10.7 .6 11.5 .9 -6.2 .8 7 .8 -9.6 .9 2.2 .8 -2.8 .8 5.6 .8 2.4 .8 -2.2 .6 -10.7 .8 9.2 .8 -5.3 .8 12.4 .9 -7.2 .8 -5.1 .9 10.5 .8 -4 .7 8.9 .8 -6.8 .9 6.7 .6 -10.6 .9 10.7 .8 -6.2 .9 3.3 .7 -3.6 .8 10.8 .9 -9.3 .7 3.7 .8 -3.5 .7 6 .9 -10.1 .9 .5 .6 10.9 .9 -3.4 .9 .4 .7 6.5 .9 -3.4 .6 -8.7 .9 5.1 .7 -2.9 .9 -.2 .7 10.7 .9 1.3 .9 4.8 .7 -7.7 .7 -1.3 1 12.8 .7 -4.3 .9 -1.6 .8 -8.6 .7 1.3 .7 6.5 1 -11.2 .7 6.7 .8 9 .7 -8.8 1 11.2 .7 -5.4 .7 -8.5 1 5.9 .7 -.2 .9 .4 .7 4.2 .9 -8.8 .7 4.3 .8 4.3 .9 -.8 .6 .2 .8 10.6 .9 -12.1 .8 .4 .8 6.7 .7 -3.1 .8 4.8 1 -5 .7 8.8 .8 -9.6 .7 3.2 .9 6 .7 -3.4 .9 3.9 .9 -.6 .7 .9 .8 -8.5 .7 10 .9 -2.6 .7 2.5 .9 -3.3 .8 7.9 .8 3.4 .7 -.3 1 1.8 .8 -1 .8 -1.8 .8 2.6 .8 -3.2 .7 .5 .8 3 .7 2.6 .9 3.1 .7 -3.3 1 -5.1 .7 -3.9 .7 5.5 1 -5 .8 .6 .8 -3.8 .8 13.8 .8 -.4 .8 -10 .8 4.7 .8 .1 .9 3.5 .5 -1.8 .9 -10.8 .9 5.4 .9 -5.9 .6 7 .9 1.3 .9 -.5 .6 -.7 .7 -158.9 .8 -143.9 .8 -62.3 .9 -10.4 .7 5 1 -.1 .6 -7 1 5.6 .7 -2 .8 -6.1 .9 .8 .8 -.7 .8 2.6 .8 -1.7 .8 -.3 .7 -3.6 .7 1.7 .9 .5 .7 4.1 .8 2.2 .9 -1.6 .8 2.9 .8 -1 .7 -2.1 .8 3.9 .8 5.2 .8 -3.4 .9 -3.4 .7 6.8 .9 -3.5 .8 5.9 .7 3.8 .8 2.3 .8 2 .8 -7.6 .9 -3.5 .8 7.6 .8 -.1 .8 6.2 .7 2.4 .8 -1.7 .9 2.9 .8 3.6 .8 -6.8 .7 -5.5 .9 11 .9 .5 .7 -1.6 .7 9.6 .8 -4.2 1 -1.3 .6 4 .9 5.1 .8 -14.6 .7 7.6 .8 -9.2 .9 8.9 .8 -5.3 .8 -.2 .9 4.2 .8 7.8 .8 -16.5 .8 4.5 .7 -2.4 .7 10.3 .9 -2.8 .9 -3 .7 7.4 .8 -1.1 .7 -2.7 .8 7 .8 2.5 .8 7.1 .9 -5.9 .7 8.4 .9 .7 .8 -9.1 .7 18.1 .9 -8 .8 -4 .8 -.9 .9 3.8 .6 2.7 .9 3.5 .7 -7.2 1 1.7 .7 11.7 .7 -10.6 1 13.3 .7 -7.1 .7 -6.3 1 1.4 .7 10.1 .8 -7.1 .8 -5.1 .8 11.8 .8 -1.6 .9 -3.9 .8 -2.5 .9 -3.8 .8 4.3 .7 -.4 .7 3.1 .8 .1 .8 -1.5 .8 -9.2 .7 5.8 .8 7.3 .8 -.4 .8 5.5 .8 1 .9 4.4 .8 5.8 .8 -.9 .8 -6.7 .7 6.8 .8 -.6 .9 -.5 .8 12 .8 -5 .7 8.5 1 -5.3 .8 .2 .7 -4 .8 -1.4 .8 5.6 .8 -6.8 .8 9.2 .9 -1.5 .6 1.1 .9 -2.8 .9 -4.9 .7 9.1 .9 -8.8 .7 1.7 .9 2.3 .7 -6.4 .7 -1.1 1 -4.7 .7 9.7 .7 2.1 1 -11.5 .8 9.6 .7 4.5 .8 .2 .8 -3.1 .7 -8.4 .8 -5.1 1 1.8 .8 4.2 .7 4 .9 1.1 .7 -3.8 .7 4.3 .9 -3.6 .9 -7.1 .7 3.2 .9 5.4 .6 -2.5 .9 -3.5 .9 -.5 .6 10.5 .9 -7.9 .9 -3.3 .7 -4.7 .7 4.2 .9 5.5 .7 -3.3 1 5.4 .7 -3.6 .7 8.6 1 -7.6 .7 5.5 .9 -8.4 .7 3.4 .7 2 .9 -2.8 .9 -8 .7 14.6 .9 -3.3 .8 -7.5 .6 1.7 .9 6 .8 -4.4 .8 8.3 .8 -7.2 .8 6.6 .7 3.2 .8 -5 .8 3.2 .8 1.4 .8 5.2 .8 0 .8 -3.2 .9 .9 .8 -2.9 .9 -.7 .7 -1.4 .9 -.9 .6 6.5 .9 -3.5 .9 -.2 .7 2.4 .9 4.5 .7 1.5 .9 -3.4 .7 -.4 .7 1.7 .8 -9.6 .8 -23.3 .8 10.8 .8 8 .8 22.3 .8 22 .8 90.6 .8 91.9 .8 10.3 .8 9.9 .8 -4.7 .8 6 .8 2.7 .8 4.4 .8 9.2 .9 -5.5 .8 -1.5 .8 6.9 .7 -4.1 .8 8.3 .9 -1.9 .7 -.1 .8 -6.2 .8 2.8 .9 7.6 .8 5.4 .8 -7.5 .8 6.9 .8 2.3 .8 -4.2 .8 6.9 .8 -2 .7 7.2 .9 -9.2 .7 5.1 .9 -9.5 .7 4.5 .9 10.4 .8 -2.7 .8 2.6 .7 -.6 .8 13.6 .8 .5 .9 -4.8 .7 1.8 .9 -1.6 .8 -6.6 .8 7.2 .7 -3.9 .9 -.7 .7 9 1 -4.5 .7 -5 .8 6.4 .8 -3.1 .8 1.9 .9 -1.4 .6 2.4 .9 -.1 .8 -5.9 .9 12.3 .7 -8.9 .9 -8.5 .7 14.2 .9 -10 .7 7.8 .7 3.9 1 -9.5 .7 .7 .7 6.5 1 -1 .7 .8 .8 -2.5 .7 1 1 -9.3 .8 5.4 .8 0 .7 2.6 .8 -.9 .8 -8.1 .8 2.6 .8 -4.2 .8 8 .8 7.8 .8 -5.4 .8 -3.9 .8 4.4 .8 -.6 .8 -3.9 .8 1.5 .8 2.7 .9 3.8 .8 -7.3 .8 -1.8 .8 -4.5 .8 5.3 .6 -4.8 .8 13.1 .9 -6.9 .8 -7.5 .8 15.6 .9 -3.3 .8 -.1 .8 1.5 .9 -3.9 .5 -1.8 .8 .3 .9 2.1 .8 2.1 .8 6.9 .9 -7.1 .8 1.3 .8 -.7 .9 -9.6 .5 -2 .8 .4 .9 11.4 .8 -12.2 .8 9 .8 -6 .8 15.5 .8 -15.7 .9 2.6 .8 4.8 .8 -2.1 .8 8 .8 -.8 .8 -1.5 .7 4.1 .8 -12.9 .8 6.7 .8 .2 .8 .4 .7 5.2 .8 1 1 -8.9 .8 8.9 .7 -7.6 .8 -5.3 .7 -4.7 1 7.8 .8 -3.3 .7 -.5 .8 -.6 .7 3.1 1 -.4 .8 2 .7 -9.5 .8 8.5 .7 2.8 1 -.8 .8 -9.2 .7 7.5 .8 1.4 .7 3.4 1 -2.5 .8 -.5 .7 -5.2 .8 4.5 .7 -2.7 1 -.6 .8 -6.3 .7 7.9 .8 -1.8 .7 -4.3 1 14.2 .8 -7.8 .7 2.1 .8 -1.7 .7 -3 1 2.1 .8 3.9 .7 -6.8 .8 -2 .7 11 1 -1.8 .8 -5.6 .7 7.8 .8 -10.3 .7 5.7 1 1.1 .8 -1.4 .7 2.2 .8 -4 .7 -5 1 4.3 .8 4.8 .7 -2 .8 .3 .7 -.7 1 6.7 .8 -7 .7 3.4 .8 -.1 .7 -5.9 1 6.7 .8 -2.3 .7 1 .8 -7.6 .7 11.5 1 -7.6 .8 .3 .7 .9 .8 2.8 .7 -5.1 1 4.9 .8 -.4 .7 .2 .8 -.7 .7 -5.8 1 2.3 .8 4.5 .7 -9.1 .8 -1.2 .7 14.2"/>
<path class="cv" stroke="#ff00ff" d="M332.6 40.5l.8 26.7 .8 26.3 .8 25.7 .8 32.4 .8 27.3 .8 25.9 .8 26.5 .8 28.6 .8 25.5 .8 18.8 .8 25.1 .8 28.3 .8 23.4 .8 24.6 .8 24.2 .8 28.6 .8 16.8 .8 21.8 .8 23.3 .8 14.1 .8 20.5 .8 13.4 .8 23.1 .8 25.8 .8 15 .8 18.6 .8 25.5 .8 18.2 .8 11.5 .8 13.5 .8 15.4 .8 22 .8 12.6 .8 20.6 .8 12.9 .8 14.9 .8 11.6 .8 19.1 .8 8.6 .8 21.6 .8 4.8 .8 20.1 .8 .5 .8 16.1 .8 8.5 .8 8.1 .8 19.4 .8 4.2 .8 3.9 .8 6.7 .8 18.7 .8 12.6 .8 10.1 .8 9 .8 12.5 .8 8.4 .8 15.4 .8 13.8 .8 17.2 .8 13.9 .8 5.8 .8 9.8 .8 28.6 .8 5.8 .8 9.1 .8 16.2 .8 8 .8 13.2 .8 3.3 .8 19.1 .8 18.5 .8 6.9 .8 5.7 .8 11.3 .8 12.8 .8 11.9 .8 3.3 .8 13 .8 11.9 .8 11.3 .8 2.3 .8 10.1 .8 8.1 .8 4.4 .8 9.9 .8 11.4 .8 -.6 .8 15.3 .8 9.8 .8 11.3 .8 -4.8 .8 11.3 .8 3.9 .8 8.7 .8 12.1 .8 .9 .8 8.8 .8 5.6 .8 4.6 .8 10.8 .8 5.4 .8 3 .8 8.9 .8 9.9 .8 2.3 .8 9 .8 2.3 .8 3.2 .8 6.6 .8 2.5 .8 11.4 .8 3.3 .8 6.1 .8 6.9 .8 6.2 .8 -58.7 .8 -142.4 .8 -161.2 .8 -63.4 .8 -44.7 .8 -17 .8 -21.3 .8 -4.6 .8 -6.7 .8 -19.2 .8 -4.9 .8 -7.4 .8 -.3 .8 -5.4 .8 -17.7 .8 4.3 .8 -4.2 .8 -5.4 .8 0 .8 -7.2 .8 -1.6 .9 -.9 .7 -9.7 .9 1.8 .7 -4.2 .9 2.9 .7 -11.8 .8 9.2 .9 -4.2 .8 -1 .8 -2.9 .8 -1.7 .8 -4.5 .8 -2.4 .9 7.6 .7 -15.6 .8 11.6 .8 -3.1 .8 -.6 .8 3.4 .8 -3.8 .9 1.2 .6 2.4 1 -1.6 .7 6.2 .9 1.9 .6 -1.8 .8 4.3 .8 -3.8 .8 5.8 .9 .4 .8 -5 .8 7.6 .7 3.7 .9 -4.8 .8 -1 .8 5 .8 -1.9 .8 -.9 .7 4.2 .9 -3.7 .7 4.9 1 4.7 .7 -2.5 .8 -.5 .7 -5.2 .8 9 1 -5.1 .8 9.7 .8 -7.3 .8 3.5 .8 -4.5 .7 6.7 .8 -6.8 .8 5.9 .8 6.8 .8 -3.5 .7 -7.8 .9 9.2 .8 -8.1 .9 4.5 .7 0 .8 1.7 .8 2.1 .8 -6.5 .8 12.9 .7 -3.4 .9 -2.4 .8 6.5 .7 6.4 .8 -7.9 .9 8.5 .8 -2.5 .8 .6 .7 -2.8 .9 2.4 .9 2.5 .7 -8.1 .8 4.1 .8 2.7 .9 2 .8 -2.1 .6 6.2 .9 -1.2 .9 6.4 .7 -2.2 .9 -.1 .7 -.1 .9 -3.7 .7 -1.7 .9 8.4 .7 -2.7 .7 .3 .9 7.8 .8 -12.4 .9 8.2 .8 1.5 .7 -6.8 .7 -1.4 1 3.1 .8 -5.8 .7 -2.6 .8 9.9 .7 3.6 1 -9.7 .7 9.4 .7 -1.7 1 -1 .7 3.2 .9 -3.7 .6 1.9 .9 3.1 .8 1.6 .9 -10.9 .6 13.6 .8 -3.5 .9 1 .8 -5.2 .8 -2.6 .9 8.2 .6 1.8 .9 3.2 .9 -.2 .6 -6.3 1 -1.8 .7 2.8 .9 1.7 .7 -2.7 .8 -2.1 .7 3.2 1 -7.4 .7 7.6 .8 -7.7 .8 14.9 .7 -13.3 1 12.6 .7 -3.3 .8 -.4 .7 -1.8 1 -4.7 .7 3 .9 5.7 .7 -9.5 .9 2.3 .8 3 .6 -7.6 .8 9.7 1 -10.2 .7 3.7 .8 5.5 .8 -2 .7 1.8 1 .1 .8 -1.9 .6 2.1 .9 1.4 .9 1.2 .7 .2 .9 -.8 .8 .4 .7 -.4 .8 2 .7 3.9 1 -8.7 .8 8.5 .7 -3.4 .9 .1 .7 -5.9 .9 3.1 .6 -.5 1 -4.1 .7 2.1 .8 -9.1 .8 .2 .8 5.7 .8 -3 .8 -9.2 .8 7.1 .8 -2.5 .7 1.6 .9 -5.1 .8 -1.2 .8 -3.4 .8 1.1 .8 -1.3 .8 -.5 .7 47.1 .8 65.2 .8 100.5 .8 52.1 .8 32.7 .8 14.4 .8 12.3 .8 14.7 .8 9.9 .8 20.6 .8 12 .8 5.8 .8 23 .8 5.1 .8 11.7 .8 14.1 .8 3.7 .8 7.9 .8 6 .8 4.5 .8 8.1 .8 -2.1 .8 17.6 .8 1 .8 -1.5 .8 7.1 .8 12.1 .8 -4.3 .8 .3 .8 16.7 .8 -.9 .8 -1.2 .8 9 .8 -.3 .8 6 .8 3.4 .8 4.2 .8 -4 .8 7.4 .8 5.3 .8 -1.7 .8 2.3 .9 7 .7 7.6 .8 -5.7 .9 7.2 .7 3.3 .8 2.6 .9 -.8 .8 -8 .8 .3 .8 6.6 .8 5.7 .8 2.2 .8 -1 .8 .4 .8 3.5 .8 -7 .9 7.2 .7 0 .9 -9.1 .7 7.8 .8 -.3 .8 2.5 .8 -.5 .8 -11.2 .8 16 .9 -6.7 .7 4.1 .9 .2 .6 -7.9 1 2.5 .7 -1.6 .9 9.3 .7 -13.7 .7 12.2 1 -2.2 .8 -3.8 .7 -3.4 .8 3.7 .7 3.5 .8 -6.8 1 3.8 .8 .5 .8 -.6 .8 -5.1 .8 3.3 .8 .4 .8 -7.2 .8 2.3 .8 .9 .9 3.3 .8 5.2 .5 -2.4 .9 -1.2 .8 -3.4 .8 7.3 .8 -9.4 .9 1 .8 8.4 .9 -3.9 .5 5.6 .9 -.4 .8 .9 .8 -6.8 .9 .6 .8 -5.3 .9 5.4 .5 -1.2 .9 -2.7 .8 1.3 .9 2 .8 3.2 .8 -5.4 .6 .6 .8 2.8 .9 2.9 .8 5.4 .8 -3.3 .9 -13.5 .8 1.7 .8 2.2 .8 -3.9 .8 9 .8 -5.3 .8 -.3 .8 5.1 .8 1.8 .8 -3.3 .8 .4 .8 3.2 .8 -8.4 .7 4.4 .8 -6.6 .7 4.1 1 10.3 .8 -6.7 .7 -1.4 .7 6.2 1 -6.1 .8 5.1 .7 4 .8 1.1 .7 -10.1 .8 1.7 1 -4.4 .8 8.6 .7 -5.4 .8 8.3 .7 -13.7 1 1.5 .8 -5.7 .7 5.2 .9 1 .7 4.3 .9 1.4 .7 -7.6 .8 2.6 .9 3.2 .8 -3 .7 2 .7 2.2 .9 -10.6 .8 2 .9 2.1 .7 -5.2 .8 5 .7 -8.9 .9 3.9 .7 -5.3 .9 -.3 .7 -6.3 .9 6 .8 -9.5 .8 8.2 .8 -5.2 .9 -.3 .6 3 .9 -11.2 .9 8.7 .7 -1.3 .8 -4 .8 4.6 .9 -4.4 .7 6.9 .7 -9.9 .9 7.8 .8 -1 .7 -4.4 1 -4.8 .7 1.7 .8 -6.3 .8 1.2 .7 -.6 .8 2.9 .8 -7.9 .8 7 .8 -3.5 .8 5.5 1 -2.1 .8 -5.9 .8 1.8 .8 -1.5 .7 -3.6 .8 .9 .8 .3 .8 -3.9 .8 -1.5 .7 5.1 .8 -8 .8 9.6 1 .8 .8 -4.5 .7 .8 .8 -2.6 .8 .3 .7 -50.9 .8 -126.2 .8 -141.1 .8 -62.2 .8 -31.7 .8 -17.2 .8 -11.7 .8 -11.3 .8 -5.7 .8 -3.5 .8 -17.7 .8 -2.5 .8 -2.1 .8 -10.2 .8 -3.2 .8 1.6 .8 -3.6 .8 -4.7 .8 -9.4 .8 1.5 .8 -3.1 .8 -9.4 .8 -2.6 .9 -6.1 .7 -3.5 .9 -4.4 .7 1.4 .9 -7 .7 8.2 .9 -6.3 .7 -5.6 .9 7.5 .8 -10.2 .8 -10.5 .7 11.6 .8 -2.9 .8 -5.2 .8 -2.8 .9 -5.5 .7 -4.1 .9 -.7 .8 14.3 .7 -12.2 .9 2.4 .7 5.5 .9 -11.4 .8 .8 .8 -3.2 .8 -5.7 .7 6.6 .9 -.6 .8 -4.2 .7 -.6 .9 2.5 .7 -.2 1 4.9 .7 -4.3 .8 1 .8 -5.9 .8 -4 .8 8.9 .9 -9.3 .6 6.1 .9 -1.2 .8 -1.9 .9 5.4 .6 2.7 .9 -.5 .7 -9.3 1 -.9 .7 -7.5 .9 3.2 .7 2 .8 1.1 .9 .9 .8 -3 .7 8.1 .7 -7.5 1 5.8 .7 -7.8 .8 1.8 .7 2 1 3.1 .8 -5.4 .7 .9 .8 .4 .7 1.9 .8 4.9 1 -2.4 .8 -3.4 .7 .5 .8 6.6 .7 1.1 1 -1 .8 -4.5 .7 -4.7 .7 -.6 1 3.4 .7 -3.2 .7 4.8 .9 6.3 .7 -6 1 -.7 .6 -8.8 1 8.9 .7 -6.4 .9 2.2 .7 .9 .9 -.9 .7 -2.9 .9 4.1 .7 5.4 .7 -8.9 .9 4.2 .7 -8.8 1 3.9 .7 -4.6 .7 8.6 1 -5.9 .7 5.1 .9 -1.5 .7 -4.9 .7 5.1 1 .7 .7 4.4 .7 -2.6 1 -5.2 .7 3.9 .8 2.7 .7 4.8 1 -4.8 .7 4 .8 -5.8 .7 2.2 1 2.4 .8 -3.5 .7 -8 .8 10.4 .7 -5.1 1 4.6 .8 -11.6 .7 8.7 .8 -1.1 .7 -2.7 1 .7 .8 -3.5 .7 .4 .8 5.7 .7 -2.2 1 4.7 .8 -.2 .8 -3.5 .7 3.1 .8 -1.3 .7 3.8 1 4 .8 -6.1 .7 -3.8 .8 7.9 .7 -11.5 1 -2.8 .8 .8 .7 -2.5 .7 9.6 1 -1.4 .8 .1 .7 -1.4 .7 -1.7 1 0 .7 .1 .7 6.7 1 1.6 .7 .6 .9 -5.5 .7 11.3 .7 -8.7 1 3.2 .7 -.6 .9 -2.4 .7 -7.3 .7 3.2 1 3.2 .7 7.3 .9 -4.4 .7 3.5 .7 -5.5 1 4.1 .6 6.5 1 -.3 .7 -5 .9 -1.9 .7 -4.3 .9 -3.2 .7 -.1 .9 3.5 .7 -5.7 .9 -1 .7 6.3 .7 -6.2 1 2.7 .7 -5.5 .7 6.6 1 -.9 .8 .5 .7 2.9 .7 -3.5 1 -.8 .8 .5 .6 147.8 .8 71.6 .8 33.6 .8 29.4 .8 27.2 .8 26 .8 13.3 .8 14.3 .8 12.1 .8 14.2 .8 -1.7 .8 18.9 .8 5.9 .8 1.9 .8 13.4 .8 9 .8 -.3 .8 10.5 .8 -7.2 .8 6.9 .8 11.4 .8 2 .8 6.4 .8 3.2 .8 4.6 .8 -6.1 .8 2.8 .8 13.2 .8 -.1 .8 1.6 .8 1.9 .8 9.9 .8 -6.1 .9 7.2 .7 6.1 .8 -6.5 .8 1.4 .8 3.1 .9 -2.5 .7 15 .9 3.3 .7 5.9 .8 -3.3 .9 4.6 .8 3.5 .7 3.8 .8 -1.6 .8 1 .8 -4.4 .9 4.4 .7 .2 .8 7 .8 2.1 .8 -4.1 .9 3.4 .7 8.1 .8 -1.3 .8 3.7 .9 3.9 .7 -8.8 .8 7.6 .9 -3.6 .8 5 .8 .5 .7 -3.1 .8 -3.9 .9 8.5 .8 -2.1 .7 6.2 .9 .6 .8 4.1 .7 -.4 .9 -8 .8 2.2 .7 4.6 .9 4 .8 2 .8 -3 .8 4.9 .8 -3.4 .7 9.5 .9 -4.6 .9 .5 .7 .9 .8 2.6 .7 6.2 1 -4.7 .7 2.9 .8 -6.1 .8 6.9 .7 2.1 1 2 .7 -7.5 .8 -.2 .7 3.2 1 2 .7 -5.8 .8 4.1 .7 6.2 1 -11.8 .8 5 .7 6.2 .8 4.2 .8 -1.2 .9 2.6 .8 3.8 .6 -6.8 .9 -.6 .8 9 .9 -12.1 .7 9.7 .9 1.9 .6 -3.2 .9 -2.1 .9 4 .7 -2.2 .9 7.8 .6 -3.7 .9 -2.9 .9 .9 .7 .2 .8 2.2 .7 -2.9 .9 -4 .9 2.7 .7 -1.7 .9 .6 .6 7.7 .9 -2.1 .7 2.2 .9 3.8 .7 1.5 1 -2.5 .7 -2 .9 5 .7 -6 .7 8.2 1 -8.9 .7 5.3 .7 -8.7 1 7.3 .8 -1.7 .7 -2.8 .7 4.3 1 -1.8 .7 -.6 .8 .9 .7 3.4 1 -.7 .7 -3.4 .8 .6 .9 2 .8 -4.3 .7 -3.5 .7 10.5 1 -5.2 .7 11.1 .8 -6.2 .9 2.9 .8 0 .7 -2.7 .7 -1.8 1 -5.1 .7 1.5 .7 -1.1 1 0 .7 .2 .8 7.2 .9 -7.8 .7 15 .8 -8.1 .9 5.5 .7 -1.2 .8 -1.2 .9 -3.5 .7 -1.5 .8 1 .9 3.8 .7 .8 .8 -.4 .9 -4.3 .8 4.1 .7 4.9 .7 3.7 1 .2 .7 -6.8 .7 2.5 1 -4.5 .7 -2.6 .8 2.8 .7 1.1 1 -1.3 .7 -7.3 .7 11.8 1 -11.4 .7 11.9 .8 1.9 .7 4.3 1 -13.6 .7 4.9 .7 3 1 1 .7 -4.1 .8 6 .7 -5.7 1 2.5 .7 .1 .7 1.2 1 -1.3 .8 -1.3 .6 -11.9 .8 -29.6 .8 -33.1 .8 -46.5 .8 -136.9 .8 -111.6 .8 -44.7 .8 -33.3 .8 -12.5 .8 -6.1 .8 -9 .8 -10.2 .8 -10.8 .8 -.7 .8 -8.6 .8 -9.6 .8 -5.9 .8 2.8 .8 -2 .8 -1.6 .8 -7 .8 -8.3 .8 -6.5 .8 -2.2 .8 -1.4 .8 -10.6 .8 1.6 .8 -4.9 .9 2 .7 -2 .8 -12.7 .9 .5 .7 4.9 .9 .5 .8 -7.6 .8 .6 .7 -3.3 .9 -4.1 .7 -1.6 .8 2.5 .9 1.5 .7 -8.7 .9 2.7 .8 -2.6 .8 -4.5 .8 -1.8 .8 -3.1 .7 3.1 .9 .6 .8 -4 .8 -6.3 .7 7.1 .8 -1.3 .9 -1.9 .9 5.1 .7 -8.2 .9 1.3 .7 .9 .7 4.1 .8 -11.3 1 3.9 .8 -8.2 .6 4.5 .8 .9 .9 -4.7 .8 7.1 .9 -.8 .6 -3.6 .9 3.3 .9 -4.2 .7 .8 .9 -.4 .7 6 .9 -9.6 .7 5.1 .8 2.2 .9 -3.7 .8 2.9 .7 4.4 .7 -10.2 1 -.7 .7 6 .8 -2.7 .9 5.7 .8 -8.1 .7 2.8 .8 2.1 .8 -10.9 .7 14.4 1 -4.3 .8 -2.9 .8 1 .7 -.4 .8 6.5 .7 -8.7 1 8.9 .8 -7.5 .7 3.4 .7 -3.9 1 1 .7 4.1 .7 -3.5 1 -1.6 .7 6.2 .9 2.9 .7 -9.4 .9 -1.5 .7 -1.3 .9 -2.4 .7 3 .9 3.9 .7 -4.8 .9 3 .7 -.3 .7 2.3 1 3 .7 -7.7 .9 -6.5 .7 6 .7 2.8 1 7.1 .7 -5.1 .9 -2.1 .7 -1 .7 5.8 1 -3.4 .7 4.4 .7 .9 1 -5.1 .7 2.8 .8 -1.1 .9 2.6 .8 -8.4 .7 .9 .8 9.3 .7 -11.9 1 2.2 .7 6.4 .8 -6.6 .8 1 .7 -2.7 1 8.9 .8 -6.6 .7 6.7 .8 -4.9 .7 -6.5 1 7.8 .8 -6.3 .7 12.2 .8 -11.9 .7 12.5 1 -3.1 .8 2.3 .7 -5.1 .8 -1.3 .7 -3 1.1 -1.2 .7 -.2 .8 2.1 .7 1.2 .8 8.9 .7 -5.8 1 -5.6 .8 8.3 .7 -5.3 .7 -3.2 1 3.5 .8 -2.9 .7 4.4 .7 -3.6 1 5.4 .7 -8.9 .7 5.8 1 -6.2 .7 12.2 .9 -11.1 .7 13.8 .8 -7.2 .9 6.4 .7 -6.3 .7 2.6 1 7.3 .7 -10.7 .9 7.3 .7 -9 .7 13.4 .9 -2.9 .7 -11.3 1 5.7 .7 5.5 .9 2.4 .7 -7.4 .9 -7.9 .7 11.5 .9 -8.7 .7 3.2 .9 -1.6 .7 -3.7 .7 -4.2 .9 13.6 .7 -6.7 1 -.9 .7 -2.6 .7 3.9 1 -5.6 .7 .4 .8 .5 .7 1.4 1 5.6 .8 -5 .7 3 .8 -2.5 .7 80.6 .8 111.7 .8 46.5 .8 25.2 .8 32.9 .8 30.1 .8 16.8 .8 13.5 .8 9.6 .8 20.8 .8 -2.1 .8 17.5 .8 -3.3 .8 5.5 .8 13.7 .8 5.2 .8 -1.8 .8 15.2 .8 11.9 .8 -4.2 .8 5.6 .8 2.1 .8 4.5 .8 6.3 .8 4.3 .8 3.6 .8 4.7 .8 3.1 .9 1.7 .7 -4.4 .8 4.8 .8 1.7 .8 7 .8 10.6 .8 -2 .8 -.8 .8 11.1 .8 -3.8 .8 -4.5 .9 7 .7 5.1 .8 3.5 .9 -1.9 .7 6.5 .8 -1.6 .9 -1.1 .8 8.7 .8 -8.5 .8 9.3 .7 6.8 .9 .4 .7 -1.3 .8 2.5 .8 -.3 .9 5.6 .7 -1.5 .9 3.5 .8 -3.1 .7 3.8 .9 -.4 .7 6.8 .9 .1 .8 -1.8 .8 4.5 .7 -1.5 .8 .8 .9 4.5 .8 .5 .8 9.6 .7 -11.7 .9 11.5 .7 -5.6 .9 8.5 .7 -6 .9 -1.8 .8 12.9 .7 -5.2 .8 7.2 .8 -9.6 .8 -1 .9 7.9 .8 -6.8 .7 3.7 .9 -2.4 .8 3.4 .7 -6.3 1 7.6 .7 2 .8 5.5 .8 1.5 .8 -3.5 .7 1 1 -.3 .7 8.9 .8 -11 .7 6.6 .9 -2.3 .8 -5.3 .8 7.8 .7 3.5 1 -2 .7 -4.8 .8 7.8 .8 1.1 .8 -3.5 .9 6.1 .6 -9.5 .9 1.7 .8 3.3 .9 1.1 .6 2.9 .9 .1 .9 -6.1 .7 8.4 .9 3.9 .6 -1.4 .9 -3 .9 -.6 .7 -2.3 .9 -4.2 .6 5 .9 -1.6 .9 7.8 .7 1.1 .8 2.3 .7 .3 .9 .4 .9 -4.8 .7 -.1 .9 2.8 .7 4.3 .9 -11.9 .7 3.7 .9 4.3 .7 -2.6 .7 2.1 1 2.9 .7 -2.9 .7 6 1 -.9 .7 -.3 .8 -1.5 .9 1.3 .8 -11.6 .7 11.6 .8 -6.6 .9 12.9 .8 -10.8 .7 4.6 .7 -6.8 1 1.6 .7 6 .8 1.4 .7 5.5 1 -1.4 .7 1.7 .7 .3 1 -15.1 .7 9.8 .8 -10.2 .7 4.6 1 -.4 .7 5.6 .7 1.7 1 1.1 .7 -2.4 .7 -5.1 1 7.1 .7 -1.3 .8 -.5 .9 2.1 .7 6.1 .8 -2.5 .9 -2.2 .7 -3.8 .8 -3 .9 10.7 .7 -3.7 .8 -2.9 .9 -6.3 .8 4.9 .7 3.6 .7 -1.2 1 -3.1 .7 3.4 .7 -.5 1 .7 .7 8.4 .8 -1.7 .9 -1.3 .8 -3.8 .7 5.1 .7 -12.7 1 6.3 .7 -3.7 .8 -2.2 .9 7.1 .8 -7.5 .7 5.3 .7 -5.1 1 6.3 .7 -.3 .8 -2.4 .9 5.6 .8 -.9 .7 9.3 .7 -1.4 1 -3.1 .7 -.8 .8 -.4 .7 -1.3 .8 -63.6 .8 -92.3 .8 -156.8 .8 -86 .8 -23 .8 -27.3 .8 -10 .8 -8.5 .8 -14.8 .8 -5.1 .8 -5 .8 -13.4 .8 -3.8 .8 -.3 .8 -5.5 .8 -10 .8 -3 .8 -3.7 .8 -8.5 .8 -3.7 .8 -.7 .8 -7.5 .9 -3.2 .7 -1.6 .9 -9.8 .7 2.8 .8 .7 .8 -7.2 .8 6.8 .9 -4.8 .7 2.4 .9 -7.6 .8 1.2 .8 -4 .7 -4.8 .9 5.7 .8 -6.8 .8 2.8 .7 -8.3 .9 1.7 .7 -3.7 .8 3.6 .9 -7.8 .8 5.3 .8 -2 .7 3.9 1 -9 .8 3.5 .6 -1.5 .8 -1.6 .9 -1.9 .8 4 .7 -11.8 .9 7.4 .7 -6.8 1 2.4 .7 -.2 .8 -3.4 .8 -3.4 .8 -3.2 .8 -2.3 .8 3.3 .9 5.4 .6 -6.9 .9 13.4 .8 -8.5 .9 -4.8 .7 5.3 .9 -1 .7 -2.9 .7 -4.5 1 3 .7 3.9 .9 -1.9 .8 -9.8 .7 11.3 .7 4.4 1 -9.5 .7 -5.1 .8 3.9 .9 3.2 .8 -1.2 .7 .2 .8 -7.4 .8 6.3 .7 0 1 2.4 .8 4.5 .7 -7.8 .8 8.1 .8 1.9 .7 -1 1 -7 .8 5.7 .7 -8.5 .7 .4 1 -4.2 .7 3.9 .7 1.5 1 9.5 .7 -4.7 .9 -1.5 .7 -3.9 .9 -1.1 .7 -2.1 .7 2.7 .9 6.7 .7 -7 .9 7.7 .7 -6.8 .9 -4 .7 7.5 1 -4.2 .7 4.9 .9 -6.1 .7 7.4 .7 -4.5 1 -.6 .7 3.2 .7 -5.6 1 -5.8 .7 4.9 .9 8 .7 3.7 .8 -10.6 .9 7.4 .7 -1.1 .8 -9.8 .7 -.6 1 11.8 .7 -4.2 .8 -1.8 .7 4.2 1 -8.4 .7 7.9 .8 -2.5 .7 -1.6 1 5.1 .8 -4.5 .8 .9 .7 -.8 .8 -.9 .7 2.5 1 5.6 .8 -14.2 .7 3.9 .8 2.8 .7 5.8 1 -5 .8 5 .7 -11.2 .8 4.3 .7 7.2 1 -12.4 .8 10.7 .7 3.5 .8 -3.8 .8 -1.1 .7 -7.4 1 .7 .7 6.7 .8 -2.2 .7 6.8 1 -4.1 .8 0 .7 .1 .7 5.7 1 -2.3 .7 -6.2 .7 4.4 1 -5.6 .7 7.5 .7 -4.2 1 7.5 .7 1 .9 -2.1 .7 -9 .7 5 1 4.1 .7 -.2 .9 -.9 .7 .5 .7 -8.7 1 -2.7 .7 .1 .9 10.9 .7 .2 .9 -4.6 .7 2.3 .9 5.7 .7 -6.6 .7 3.8 .9 -.2 .7 -2.3 .9 1.9 .7 .3 1 -8 .7 -7.1 .9 4.9 .7 -5.4 .7 .1 1 10.2 .7 -7.7 .8 1.1 .7 2.2 1 -3.6 .8 7.7 .7 4.1 .8 -8.3 .7 1.3 1 -2.1 .8 1.1 .6 149.1 .8 69 .8 36 .8 33.6 .8 22.2 .8 27.7 .8 11.4 .8 13.2 .8 13.4 .8 .2 .8 21.5 .8 9.1 .8 -1.6 .8 3.3 .8 13.9 .8 7.6 .8 9.4 .8 -5.5 .8 4.8 .8 8.3 .8 11.2 .8 -3.4 .8 7.4 .8 2.8 .8 10.2 .8 5.3 .8 5.2 .8 1 .8 -.7 .8 -4.4 .8 5.1 .8 3.9 .8 -.3 .9 -2 .7 4.7 .8 3.8 .8 9.2 .8 -.5 .9 -.7 .7 6.8 .9 1.7 .7 -1.5 .8 9.8 .9 -1.9 .8 .6 .7 -1.9 .8 6.3 .8 3.7 .8 -6.6 .9 6.7 .7 4.1 .8 6.1 .8 -4.7 .8 14.8 .9 -6.8 .7 -1.5 .8 3.9 .8 4.9 .9 -2.6 .7 -1.5 .8 5.8 .9 2.4 .8 1.1 .8 -3.1 .7 5.9 .8 8.4 .9 -8.7 .8 2.7 .7 -8 .9 10.2 .8 2.8 .7 -1.8 .9 2.4 .8 -2.8 .7 8.1 .9 -2 .8 -3.7 .8 5.2 .8 4.1 .8 .6 .7 6.9 .9 -7 .9 1.4 .7 -3.9 .8 5.4 .7 -6.4 1 5.7 .7 -4 .8 .9 .8 2 .7 13.1 1 -11.3 .7 10 .8 -3.1 .7 -4.7 1 4.8 .7 -1.4 .8 4.5 .7 3.2 1 3.7 .8 -9.9 .7 .5 .8 .5 .8 3.4 .9 -3 .8 10.3 .6 -7.9 .9 .4 .8 -6.2 .9 11.9 .7 -3.7 .9 10.7 .6 -3.3 .9 -3.6 .9 4 .7 4.5 .9 -6.2 .6 1.3 .9 -10.9 .9 4.3 .7 -2.4 .8 6.6 .7 -7.3 .9 .5 .9 7 .7 2.2 .9 3.7 .6 4.1 .9 -1.4 .7 -4.6 .9 .8 .7 -7.9 1 13.2 .7 -7.8 .9 2.4 .7 2.2 .7 -3.4 1 3.4 .7 5.2 .7 1.8 1 1.8 .8 -3.9 .7 -5.6 .7 4.4 1 -6.1 .7 -5.6 .8 11.2 .7 -4.8 1 -.3 .7 -2.4 .8 12.7 .9 -6.6 .8 6.3 .7 -3.6 .7 1.2 1 -.1 .7 4.9 .8 -14.6 .9 6.4 .8 -1.8 .7 3.8 .7 -5 1 1.7 .7 -2.5 .7 -.1 1 7.1 .7 3.6 .8 -2.5 .9 -7.2 .7 1.9 .8 6.2 .9 -4.6 .7 4.9 .8 -3.4 .9 5.6 .7 -10.2 .8 5.6 .9 4.2 .7 .1 .8 -6.3 .9 2.5 .8 1.2 .7 -4.2 .7 1.8 1 -.1 .7 1.3 .7 .6 1 -1.3 .7 6.6 .8 1.2 .7 -4.3 1 6.4 .7 -.5 .7 -6.9 1 8.5 .7 -.9 .8 -1.6 .7 -3.9 1 4.1 .7 -3.3 .7 4.7 1 -4.8 .7 -3.2 .8 1.3 .7 3.5 1 -.9 .7 4.2 .7 -.1 1 -1.4 .8 -.4 .6 -225.6 .8 -128.3 .8 -56.6 .8 -23.1 .8 -22.7 .8 -8.4 .8 -16.2 .8 -8.6 .8 -.2 .8 2.3 .8 -14.8 .8 -9.7 .8 3.5 .8 -11.1 .8 -6.3 .8 -8.5 .8 2.3 .8 -10.2 .8 -6 .8 -1.6 .8 1.8 .8 -5.6 .8 -11.8 .8 -3.8 .8 10.8 .9 -7.2 .8 7 .8 -8.4 .7 -1.1 .8 -3.8 .9 -1.9 .8 -1.4 .8 -3.5 .7 3.6 .8 -9.8 .8 -2 .8 6.1 .9 -8.7 .7 2.2 .8 -.3 .8 -8.9 .8 5.4 .9 -4.6 .8 2.8 .7 -2.6 .8 -5.6 .8 -.2 .8 2.3 .9 1 .8 -1.1 .7 -1.3 .9 2.8 .9 -7.7 .7 2.2 .7 7.8 .8 -7.5 1 -1.4 .8 1.9 .8 -9.2 .6 6.5 .9 -1.8 .8 -2.8 .8 3 .9 3.5 .7 -6 .8 -2.3 .7 7.6 .9 -3.4 .7 5.4 1 -2.2 .7 -5.3 .7 -3.6 1 .2 .7 4.6 .7 -11.1 1 13.3 .7 -15.4 .8 5.8 .9 3.6 .8 -6.8 .7 -2.5 .8 5.3 .7 0 1.1 5 .7 -4.2 .8 1.1 .7 -1.1 .8 7.6 .7 -7 .8 2.2 1 2.4 .8 7.1 .7 -17.6 .7 .1 1 6.5 .7 -.5 .8 3.9 .9 2.6 .7 -1.7 .7 -4.7 .9 -2.4 .7 2.1 1 -3.4 .6 9.3 1 -5.1 .6 -6.6 1 3 .7 -4.6 .9 2.6 .7 1.8 .9 -4.5 .7 5.5 .7 -3.5 1 3.9 .7 -6.5 .9 2.5 .7 5.4 .7 4.7 1 -3.4 .7 -.7 .9 -7.5 .8 3.1 .7 2.3 .9 -1.1 .8 1.1 .7 5.2 .7 1.4 1 -7.3 .7 -.4 .8 -2.3 .9 8 .8 2.6 .7 2.4 .8 -8.9 .7 .7 1 -2 .8 11.9 .7 -3.7 .8 -9.7 .8 3.2 .7 -2.9 1 3 .8 10.5 .7 -10.2 .8 .1 .7 1.7 1 -4.3 .8 0 .7 -1.4 .8 12.5 .7 -8.9 1 -1.4 .8 3.8 .7 -10.2 .8 1 .7 -.7 1 6.5 .8 -1 .7 -4.9 .8 12.1 .7 1.3 1 -4 .8 -2.1 .7 1.5 .7 -3.9 1 3.5 .7 5.3 .7 -4 1 -7.3 .7 -.2 .7 4.8 1 7.5 .7 -2.4 .7 -.8 .9 4.3 .8 -7.1 .9 4 .7 -3.1 .7 -2.7 .9 8.3 .8 -6.4 .9 6.2 .7 4.9 .9 -9.8 .7 10.3 .7 .1 .9 -3.3 .7 -5.5 1 -1.3 .6 -.6 1 .7 .6 -4.2 1 4.2 .7 3.5 .9 -12.9 .7 12.4 .9 -11.4 .7 1 .8 1.6 .9 1.1 .7 .9 .8 6.4 .7 -4.2 1 3.1 .7 -6.3 .8 4.8 .7 -8.9 1 2.7 .8 8.5 .8 -5.5 .7 .8 .8 -.5 .7 81 .8 110.4 .8 46.2 .8 37.3 .8 27.6 .8 17.3 .8 21 .8 14.8 .8 16.4 .8 10.4 .8 8.6 .8 4.3 .8 2.5 .8 15.7 .8 4.9 .8 7.1 .8 7.6 .8 -.7 .8 11.1 .8 -.1 .8 9.7 .8 3.1 .8 -2.4 .8 11.6 .8 2.6 .8 3.5 .8 3.9 .8 4.9 .9 .1 .7 .5 .8 7.3 .8 6.4 .8 -1.2 .8 6.9 .8 -6.5 .8 13.7 .8 -3.7 .8 -1.5 .8 2.4 .9 3.2 .7 1.7 .8 4.6 .9 -3.3 .7 10.4 .8 -1.3 .9 -2.3 .8 9.2 .8 -1.9 .8 8.5 .7 -6.9 .9 10.6 .7 -.6 .8 -3.1 .8 8.9 .9 -.2 .7 2.4 .9 -5.2 .8 -4.4 .7 8.3 .9 3.7 .7 3.7 .9 1.5 .8 .7 .8 -1.7 .7 -.3 .8 -.7 .9 5.5 .8 -2.4 .8 4.6 .7 -1 .9 6.2 .7 -2.9 .9 1.1 .7 2.6 .9 7 .8 -3.1 .7 7.4 .8 -9.9 .8 4.9 .8 -2.3 .9 -2.3 .8 6.2 .7 2.9 .9 1.3 .8 -3.8 .7 -3.3 1 1.8 .7 1.4 .8 11 .8 -11.6 .8 5.6 .7 10.1 1 -13 .7 12 .8 0 .7 -1.5 .9 -.2 .8 -8.7 .8 7.1 .7 -.4 1 6.3 .7 -.3 .8 -9.5 .8 -1.1 .8 4.3 .9 13 .6 -5.6 .9 1.6 .8 3.9 .9 -3.9 .6 1.7 .9 -5.4 .9 .7 .7 6.5 .9 -.1 .6 2.8 .9 -2.2 .9 4 .7 -2.4 .9 -.6 .6 2.8 .9 -3.8 .9 -4.1 .7 2.4 .8 2.5 .7 4 .9 -8.5 .9 -.4 .7 5.6 .9 1.8 .7 -8.9 .9 2.4 .7 6.4 .9 3.1 .7 -1.8 .7 -3.5 1 12.7 .7 -5 .7 3.6 1 -4.1 .7 -2.3 .8 -8.9 .9 7.2 .8 .9 .7 2.2 .8 -2.2 .9 -1.8 .8 4.2 .7 1 .7 1 1 -2.4 .7 -6.4 .8 6.6 .7 -.7 1 -1.7 .7 -2.9 .7 7.1 1 -5.1 .7 4.2 .8 3.1 .7 -4.3 1 2.8 .7 -1.4 .7 7.2 1 -7.9 .7 -3.1 .7 10.6 1 -13 .7 16.7 .8 -3.6 .9 0 .7 .3 .8 -1.2 .9 1.9 .7 -12.1 .8 8.3 .9 -4.5 .7 -3.7 .8 1.9 .9 4.4 .8 4.2 .7 -2.6 .7 .4 1 9.9 .7 -4.2 .7 -7.4 1 -.4 .7 4.3 .8 3.8 .9 -4.8 .8 2.1 .7 4 .7 -10.7 1 6.2 .7 -1.8 .8 -3.2 .9 5.8 .8 3.5 .7 -3.9 .7 -.8 1 8.1 .7 -3.5 .8 -2.9 .9 5.8 .8 2.1 .7 -4.5 .7 -8.6 1 3.6 .7 -3.3 .8 10.7 .7 -8.6"/>
<path class="cv" stroke="#008000" d="M269.0 39.7l.8 72.5 .8 116.8 .8 162.9 .8 112.4 .8 68.4 .8 67.1 .8 62.1 .8 49.3 .8 53.1 .8 34.3 .8 36.5 .8 23.1 .8 13.3 .8 22.5 .8 34.2 .8 37.9 .8 23.6 .8 27.1 .8 13.9 .8 17.2 .8 14.8 .8 12.5 .8 9.4 .8 18.9 .8 19.4 .8 7.7 .8 17.3 .8 7.4 .8 17.8 .8 10.3 .8 8.9 .8 10.6 .8 9.9 .8 3.4 .8 8.6 .8 10.3 .8 5 .8 5.1 .8 3.4 .8 3 .8 3.3 .8 10.4 .8 5 .8 4.2 .8 10.8 .8 4.4 .8 -1.2 .8 -1.1 .8 7.1 .8 1.5 .8 4.7 .8 .9 .8 6.6 .8 -4.6 .8 7.8 .8 2.7 .8 6 .8 -.6 .8 3.6 .9 1.7 .7 8.5 .9 8.3 .8 1 .8 -7.3 .7 3 .9 4.1 .8 -5.2 .7 10.4 .9 4 .8 -4.1 .8 -4.6 .7 2.8 .8 8.8 .8 -2 .8 3.3 .9 6.3 .8 .3 .8 .2 .8 1.2 .7 -4.4 .8 12.9 .9 2 .8 -4.9 .7 5 .8 -2.5 .8 7.8 .8 -.4 .8 0 .9 1.8 .8 9.2 .8 -1.4 .7 4.2 .9 -3.4 .8 10 .8 -4.9 .8 -6.1 .8 10.6 .7 -8.2 .9 10.4 .8 1.6 .7 5.6 .9 -5.6 .7 -2.7 .8 9.2 .8 2.4 .8 -1.3 .9 -.1 .8 6.2 .8 -2.4 .9 -7 .7 5.2 .7 -5 1 5.1 .7 -4.2 .8 4.5 .8 .2 .9 -1.7 .7 7.6 .8 2.2 .8 -2.1 .8 -2.7 .8 11.9 .8 -5.9 .8 -.7 .7 .4 .9 7.1 .8 -6.5 .8 5.6 .8 -3.7 .8 10.4 .8 -5.2 .8 1.5 .7 7.1 .9 .4 .9 2 .7 -.3 .8 4.7 .8 -8.1 .9 5.9 .8 1.2 .7 -1.9 .8 3.3 .9 -1.6 .6 -1.3 .8 4.7 .9 -5.7 .9 3.4 .8 -3.3 .8 6 .7 -9.1 .8 -2 .8 2.8 .8 -2.9 .8 -6.2 .8 3.4 .8 4.2 .8 -3.9 .7 -4.2 .8 4.7 .8 -2.9 .8 .5 1 6.7 .6 -.8 .9 4.7 .8 -6.7 .7 3.5 .8 -1.5 .8 10.3 .8 -3.1 .8 3.6 .8 2 .8 7.8 .8 -.3 .9 .1 .8 5.3 .8 -4 .8 -3 .7 10.9 .8 -9.3 .9 2.5 .7 9.9 .8 -1.8 .9 2.8 .8 -5.9 .8 3.8 .8 .6 .8 7 .9 .1 .7 4.7 .9 -4 .6 .6 1 .2 .7 -6.1 .8 1.9 .8 5.9 .8 -1.3 .8 2.4 .7 -42 .8 -86.4 .8 -94.6 .8 -120.8 .8 -84.9 .8 -41.1 .8 -29.3 .8 -8.5 .8 4.3 .8 .9 .8 -2.4 .8 8 .8 1.6 .8 6.9 .8 3.2 .8 -1.9 .9 2.3 .7 5.8 .9 1.4 .8 4.7 .7 -1.1 .8 1.5 .8 2.1 1 -4.4 .6 -2.4 .9 1.2 .8 -1.6 .8 -3.8 .9 -8.8 .7 4.7 .8 -1.8 .9 4.4 .7 -10 .9 6.9 .6 1 .9 1.5 .8 -3.9 .8 -1.1 .7 1.2 .8 -5.6 .9 7.8 .7 -4.1 .8 5.2 .8 8.4 .9 0 .7 1 .8 3.2 .9 -2.5 .9 -.4 .6 -4.5 1 .2 .7 7.4 .8 -8.8 .8 5.5 .8 -2.8 .8 4.7 .8 -7.9 .9 8.6 .8 -4.9 .8 1.1 .7 7.2 .8 -.8 .9 -6.1 .7 4.6 .8 -2.9 .8 -1.8 .8 4.4 .8 -8.2 .8 .3 .7 -3 .9 9.9 .8 -3.2 .7 2.1 .9 2.2 .8 .5 .8 4.4 .8 .6 .8 6.7 .8 -8.8 .9 9.2 .7 -1 .9 -7 .7 5.9 .9 -6.4 .7 9.2 .7 -1.5 1 -3.1 .8 -1.4 .7 2 .7 -.6 1 -.5 .8 1 .8 2.2 .7 -7.2 .8 -3.1 .8 11.4 .8 -5.8 .7 2.6 .8 -2.2 1 -1.6 .8 6.1 .8 1.2 .8 -5.4 .8 .2 .7 3.7 .8 .2 .8 -4.7 .7 2.8 1 -4.7 .8 -5.1 .7 3.1 .8 1.4 .7 .5 1 -2.4 .8 4.5 .8 -5.9 .7 5.9 .8 -1.4 .8 -2.8 .7 1.5 1 -2.2 .8 .5 .8 -.4 .7 5.6 .8 -2.8 .8 -5.2 .7 1.9 1 -1.2 .8 8 .7 -6 .8 3.8 .7 1.3 1 .5 .8 1.8 .7 -5.3 .8 -5.5 .9 7.9 .8 -.1 .7 -8.6 .7 5.3 1 1.8 .7 -2 .9 2.5 .7 -4.1 .9 2.3 .7 -.8 .9 10 .6 -6.1 .9 -1.8 .7 -2.7 .9 2.4 .9 -1.5 .6 -2.5 .9 -4.4 .9 -.4 .6 -3.4 .9 -.6 .9 6 .7 -2.9 .9 4.3 .7 -2.5 .9 -1.5 .6 -1.1 .9 .8 .7 7 .9 -5.7 .9 -6.1 .7 6.8 .9 -6 .7 -2.4 .9 -.8 .6 2.3 .9 9.6 .7 .2 .9 -8.1 .9 .8 .7 -5.9 .9 4.1 .7 4.6 .9 -1.3 .7 -2.4 .7 -2.1 .9 2.9 .7 -1 1 -5.6 .7 -1.4 .9 2.7 .7 -2.2 .8 -3.2 .9 11.2 .7 -3.7 .8 -6.7 .9 10.6 .8 .4 .7 -4.9 .7 -4.2 1 -2.3 .8 2.2 .7 -5.3 .8 8.2 .7 0 1 -5.7 .8 11.1 .7 -2.4 .8 2.6 .7 -3.9 .8 1.1 1 -2.5 .8 -1.2 .6 30.4 .8 72.1 .8 50.3 .8 34.1 .8 19.9 .8 14.8 .8 20.7 .8 8.1 .8 9.3 .8 9.3 .8 .9 .8 11.8 .8 1.9 .8 11.1 .8 6.1 .8 4.6 .8 7.4 .8 .4 .8 3.1 .8 .3 .9 2.3 .7 4.9 .9 4.7 .7 -5 .8 .2 .8 1.9 .9 2.5 .8 6.9 .7 -6.3 .9 -1.6 .7 -1 .9 9.4 .8 2.9 .7 0 .8 1.2 .8 1.1 .9 -1.9 .8 4.7 .8 -1.5 .7 5.2 .9 11 .8 -3.8 .7 -.5 .9 -.4 .8 1.4 .7 5.7 .9 -6.3 .7 4.7 .9 .9 .8 7 .7 -.9 .8 -3.2 .8 -3.1 .8 11.8 .8 4.5 .8 -4.4 .8 9.4 .9 -9.9 .8 .6 .8 -1.4 .7 9.7 .8 -2.6 .9 5.1 .8 -8.3 .7 8.1 .8 -1.7 .8 7.3 .8 -1.7 .8 -4.8 .9 13.4 .9 -4.8 .7 4.3 .9 -8.2 .7 5 .7 2.6 1 1.7 .7 .1 .7 -6.4 1 5.1 .7 -.4 .8 6.8 .7 -7.6 1 12.3 .7 -10.9 .8 5.1 .9 -6.2 .7 13.2 .7 -.6 .9 -11.8 .7 1.4 .9 9.3 .8 -5.8 .7 6.6 .9 5.4 .9 -7.1 .6 1.7 .9 .7 .8 3.1 .7 4.1 .9 -.1 .8 -6.5 .7 1.4 .9 6.1 .9 4.6 .7 -6.5 .8 0 .8 3.8 .9 2 .7 2.6 .7 -1.4 1 1.4 .7 -3.7 .8 6.6 .8 .4 .8 .2 .8 .8 .8 -.9 .9 -1 .7 6 .8 -.9 .9 .7 .7 5.6 .9 -5.1 .6 4.9 .9 1.3 .9 -3 .6 -4.8 .9 3.7 .8 -2.5 .8 1.3 .8 -.1 .8 -5.7 .8 5.7 .7 2.5 .8 3 .9 .5 .8 .5 .7 -.7 1 5.5 .7 -7.3 .7 -1 .9 3 .8 .2 .7 -2.5 1 8.8 .7 2.1 .8 -3 .7 .1 1 1.6 .8 3.1 .8 -6.3 .8 5.7 .8 6 .8 -5.6 .6 6.7 .8 -9.5 .9 11.3 .8 1.7 .9 -1.2 .8 -2.1 .7 -6.7 .8 0 .9 1 .6 7.7 .9 -1 .8 5.2 .9 -5.7 .7 2.9 .8 -1.5 .9 -2.3 .7 -2.7 .8 3.9 .9 -7.1 .7 14.1 .8 -8.7 .7 6.1 .9 7 .8 -11.5 .7 1.5 .9 7.4 .8 -9.1 .9 4.1 .7 -.7 .8 2 .9 -1.7 .6 4 .9 -4.8 .9 3.2 .6 -4.3 .9 8.1 .9 -7.8 .6 9.3 .9 -3.2 .9 8.3 .6 -4.6 .9 .1 .9 -3.5 .6 4.5 .9 3.2 .9 -.6 .6 4.4 .9 -7.2 .8 7.1 .9 -12.2 .6 4.4 .9 2.9 .8 1 .9 3.7 .8 -3 .6 -3.6 .9 3.4 .8 -1.1 .8 3.7 .9 1.4 .8 -.4 .6 -128 .8 -181.9 .8 -119.1 .8 -27.6 .9 4.6 .8 4.8 .8 3.6 .8 -8.4 .7 17.2 .8 -9.6 .8 2.4 .8 -.4 1 -.3 .7 6.1 .8 3.7 .9 1.7 .7 2.8 .9 -2.2 .7 -5 .7 8.9 .9 -1 .9 -3.4 .8 5.2 .7 1.3 .8 -5 .8 -1.4 .8 -11.4 .7 .1 .8 3.8 .9 -.5 .7 3.2 1 -9.6 .6 1.6 .9 2.8 .8 -3.3 .8 .5 .8 8.8 .9 -4.2 .7 4.4 .9 -10.3 .7 6.5 .9 .1 .7 4.9 .7 -5.4 1 5.8 .7 .1 .8 -3.6 .7 -5.5 1 1.1 .8 0 .7 2.2 .7 4.8 1 2.5 .7 -7.4 .7 5.4 1 .2 .7 1.2 .7 -6.2 1 .5 .7 8.3 .7 -3.3 1 -.4 .7 5.3 .8 -8.9 .7 -2.3 1 4.1 .7 9.3 .8 -5.8 .7 3.1 1 -.5 .7 5.6 .8 -10.6 .7 4.1 1 -1 .8 -2.5 .7 2 .7 -6.1 1 9.7 .7 -5.2 .8 9.3 .9 -4.2 .8 -6.3 .7 4 .9 4.2 .7 -6.3 .7 -4.5 1 7.1 .7 1.6 .9 .5 .7 1.1 .7 3.2 1 -1 .7 .6 .9 -4.5 .7 7.8 .9 -12.4 .7 1.1 .9 3.1 .7 5.7 .7 3.1 .9 -4.5 .7 2.5 1 1.9 .7 -2.1 .9 .7 .7 3.9 .7 2.5 1 -7.5 .7 2.4 .7 -6.2 1 1.4 .7 -1.8 .8 .1 .7 -4.2 1 3.3 .7 .9 .8 -3.8 .7 4.1 1 6.5 .7 .2 .8 -6.7 .7 0 1 -.1 .7 2.7 .8 1.8 .9 -5 .8 0 .7 2.2 .9 -3.2 .7 3.6 .7 -6 1 2.8 .7 9.1 .9 -6.4 .7 -5 .9 7.4 .7 -3.1 .9 1 .7 1.8 .9 7.9 .6 -9.5 .9 -1.9 .9 6.3 .7 1.2 .9 -5.4 .7 2.1 .9 8 .6 -2.9 .9 3.8 .7 -5.9 .9 1.5 .7 -4.7 1 -3.1 .7 11.6 .9 -7.2 .7 4.5 .7 -3.3 1 2 .7 -2.7 .9 9.4 .7 -5.7 .8 -1.6 .9 2.3 .8 -10 .7 10.9 .7 -6.1 1 6.1 .7 -9.3 .7 9 1 -13 .8 3.8 .7 6.3 .7 -2.1 1 -4.2 .7 5.9 .8 -5.7 .7 8 1 2.3 .7 .2 .8 -11.3 .7 8.1 1 -1 .7 -4.1 .8 .9 .7 1.3 1 -3 .8 .5 .7 3.1 .8 1.4 .7 -3.7 1 -6.9 .8 7.9 .7 -7.6 .7 10.9 1 -1.2 .7 -6.4 .8 6.4 .9 -.6 .7 -4.8 .7 -2.8 1 11.4 .7 -2.2 .9 -2.2 .7 4.6 .7 -7 .9 5.8 .7 1.5 .9 -9.3 .7 0 .9 4.7 .7 -2.7 .9 -7.3 .9 9.9 .7 -5.2 .9 1.7 .6 -3.5 .9 .7 .7 81.8 .8 89.8 .8 40.8 .8 17.9 .8 21.9 .8 11.8 .8 4.9 .8 8.3 .8 1.4 .8 3.7 .8 13.9 .8 5.7 .8 4.8 .9 -3.3 .7 -3.1 .8 0 .8 10.6 .8 6.6 .9 1.6 .8 3.5 .7 -3.5 .8 12.7 .8 4 .8 2.9 .8 2.3 .8 2.7 .8 -11.2 .8 4 .9 3.2 .7 11.1 .8 -1.3 .8 -2.4 .9 1.5 .8 6.5 .8 -8 .8 8.8 .7 1.2 .8 8 .9 -6.7 .7 -5.6 .8 11.6 .9 -3.6 .8 .9 .8 .6 .8 6.5 .8 -.5 .8 4.6 .8 3.1 .7 7.3 .8 1.2 .9 -7.4 .7 4.8 .9 -1.6 .8 3.8 .7 2.3 .8 -1.7 .8 7 .9 .7 .8 -8 .8 3.9 .7 -4.1 .8 -1.3 .8 1 .8 2.4 .9 2.6 .8 8.2 .8 1.3 .8 -2.9 .9 -.5 .6 4.7 .8 1.8 .9 4.6 .8 -2.7 .7 2.4 .9 -6.4 .7 5.5 .8 4.5 .8 -2.8 .8 2.2 .8 9.7 .9 1.5 .8 -3.4 .7 3.5 .9 -2.9 .8 -3.3 .8 3.2 .8 1.2 .8 5.9 .8 -3.3 .7 2 .9 -2.4 .7 2.3 1 5.7 .7 1.2 .9 3.1 .6 0 .8 -.8 .9 -4.2 .9 6.9 .7 -6.6 .9 8 .7 3.1 .7 5.2 1 -5.5 .7 2.9 .8 -.9 .7 -6.8 .8 8.6 1 -4.8 .8 5.8 .8 -5.9 .8 7.2 .8 0 .6 -4 .9 6.5 .8 -8.1 .9 2 .7 -9.4 .9 10.1 .7 -9.2 .9 1.2 .7 -.3 .9 .1 .7 7.9 .9 -7.7 .7 2.3 .9 -1.7 .6 2.3 .9 -7.2 .9 6 .7 -1.8 .9 -8 .6 -1.4 .9 3.2 .9 2.6 .7 -5 .9 -2.9 .6 7 .9 -7.7 .9 9.4 .7 2.5 .9 -11.6 .7 9.9 .9 -.2 .7 -.3 .9 3.4 .7 .9 .8 -5.2 .9 -.8 .8 -2.5 .7 -1.2 .7 6.5 1 .4 .8 -1.4 .7 6.3 .7 -.3 1 -.6 .7 -3.1 .7 1.6 .9 5.8 .7 -1.2 .9 -2.3 .9 -4.6 .6 1.4 .8 1.9 .8 -.8 .8 4 .8 -.8 1 -9.6 .7 8.5 .8 1.8 .7 -6 .9 -1 .8 6.3 .9 1.1 .7 7.1 .8 -4.3 .7 5.2 1 3.2 .8 -.4 .7 -7.2 .8 2 .9 -1.8 .8 -.5 .8 8.8 .6 -8.5 .9 .4 .8 .4 .8 5.2 .9 .4 .6 2.7 .9 .8 .9 -9.2 .6 3.8 .9 4.1 .7 2.8 .9 0 .7 -7.4 1 3.9 .7 -1.6 .7 7 1 -1.7 .8 .1 .6 -35.2 .8 -188.1 .8 -128.9 .9 -100.1 .8 .5 .8 1.8 .8 6.9 .7 -5.6 .8 4.9 .8 3.3 .8 1 .9 .6 .7 1.8 .8 6.1 .9 -2 .7 .8 .9 -3.4 .9 0 .7 -2.3 .8 12.8 .8 -3.5 .8 7.3 .9 -12.8 .8 1.6 .8 6.2 .7 -.9 .7 3 .9 -2.5 .7 -.8 .9 .3 .7 4.1 .8 -5.4 .9 -8.2 .8 1.1 .8 -2.3 .8 5.4 .8 -14.1 .8 1.2 .8 3.5 .8 -4.1 .7 7.3 1 -6.5 .8 3 .8 3 .7 2.6 .9 -3.5 .8 -7.2 .7 5.8 .8 -6.9 .7 3.4 .8 6.3 .8 -9.8 .8 9.2 .8 -9.7 1.1 7 .8 -2.1 .7 2.2 .8 -.3 .8 -6.6 .7 5 .8 2.5 .7 -4 .8 4 1.1 -7.9 .7 2.9 .8 7.7 .8 -4.9 .8 -1.4 .8 -.2 .8 3.4 .8 -7 .8 6.9 .7 -1.6 .8 .8 .9 -3.1 .7 9 .7 -4.6 .9 -3.7 .8 1.1 .7 -1.4 .9 6.3 .8 -9.8 .8 2.2 .8 .1 .7 .3 .9 -4.8 .8 -1.3 .8 4.9 .7 1.5 1 -10.6 .8 1.9 .6 -.1 .9 -1.6 .9 4.7 .6 -12.8 1 2.3 .7 3.7 .9 2.4 .7 .8 .8 .9 .9 -.3 .8 -3.9 .7 -.5 .9 1.6 .8 2.1 .7 0 .7 -4.5 .8 .1 1 7.2 .8 -2.4 .8 2.7 .8 -6.1 .7 -1.8 .8 2.6 .7 -8.9 1 8.5 .7 -4.9 .9 .6 .7 3.8 .8 -3.5 .8 1.9 .7 5.4 .9 -12.7 .8 2.9 .9 -5.2 .6 8.2 .8 1.6 .8 -16.6 .9 6.6 .7 -2.1 1 1.1 .8 1.1 .6 -1.2 .9 2.2 .7 -4.8 1 8.7 .7 -6.2 .8 -8 .7 2.7 1.1 1.8 .7 -2.8 .8 2 .8 -1.8 .7 6.4 .8 3.9 .7 -3.4 1 5 .7 -8 .7 3.1 .9 -3.9 .7 2.7 .9 -6.8 .9 1.5 .7 -.7 .9 -2.2 .6 -3 .9 6.9 .9 -6 .6 4.5 .9 -6.8 .9 -1.8 .6 0 .8 -.9 .9 6.3 .8 -7 .8 1.3 .8 .2 .8 4.4 .9 2 .6 -6.6 .9 .1 .8 5 .9 .9 .7 -3.4 .9 .4 .7 -8.1 .7 6 1 6.2 .7 -6.7 .7 -5.6 1 6.8 .7 -.3 .8 5.4 .9 -2.6 .8 .2 .7 3.9 .9 -8.4 .8 -1.6 .7 5.1 .9 3.1 .7 -4.3 .7 6.8 1 -8.7 .7 2.3 .9 5.5 .7 3 .8 -7 .9 3.3 .7 -4.8 .7 -3.1 1 1.8 .7 3.4 .9 -1.1 .7 1.1 .7 -3 1 -.7 .6 109 .8 74.7 .8 23.9 .8 11.7 .8 12.2 .8 8.9 .8 1.2 .8 10.2 .8 6 .8 8.4 .8 14.9 .8 -2 .8 .5 .8 5.8 .8 1.7 .8 13.4 .8 0 .8 12.4 .8 2.8 .9 -4.9 .8 3.8 .8 4.1 .8 11.7 .7 4.4 .9 -5.6 .8 1.2 .7 3.3 .9 .4 .7 -1.6 .9 6.1 .8 -1.3 .8 5.9 .8 .4 .7 .9 .9 4.8 .7 -5.5 .9 10.8 .8 .2 .7 1.9 .8 -4.7 .8 3.5 .8 4.5 .8 -2.5 1 -5.8 .7 9.1 .8 -1.4 .8 1.8 .7 .8 .8 -5.3 .9 3 .7 -.9 .9 2.2 .8 7 .8 4.7 .7 1.6 .9 4.7 .8 -.5 .8 .9 .7 -.9 .8 7 .9 -2.5 .7 1.9 .9 .2 .7 6.1 .8 -8 .9 3.3 .8 -2.5 .8 1.6 .8 4.2 .7 -4 .8 -4.5 .9 2.9 .8 6.7 .7 2.1 .9 1.1 .9 6.6 .7 -1 .9 1.3 .7 1.9 .7 -1.6 1 -9.2 .7 5.1 .8 6.6 .8 -3.1 .8 4.4 .8 -4.7 .7 6 .8 -1.3 .8 .4 .8 1.8 .8 3.4 1 -5.7 .8 2.6 .8 -1.5 .7 .6 .8 0 .8 -1.5 .8 .3 .8 4.4 .8 -6.7 .8 -1.3 .8 14.5 .7 2.7 .8 -10.8 .8 3.5 .8 5.3 1 -2.9 .7 -.9 .8 -1 .8 -2.6 .9 11.9 .7 -3.8 .7 -4.7 .9 10 .9 3.3 .7 -1.9 .8 1.6 .9 -6.6 .6 6.7 .9 -3.6 .9 -1.3 .7 -.9 .9 5.1 .7 10.4 .7 -8.4 1 2 .7 -.5 .8 .5 .8 7.4 .9 -1.7 .8 5 .6 -.1 .9 -12.6 .8 10.1 .9 -4.7 .6 -5.6 .9 1.3 .8 5.3 .9 6.8 .6 -.7 .9 -1.3 .8 -3 .8 3.3 .8 2.3 .9 1.5 .7 -2.8 .8 -4.8 .8 3.8 .8 5.2 .7 -2.6 1 2.9 .7 .3 .8 -4.3 .7 5.2 1 3.1 .7 -6.8 .8 1.3 .8 7.6 .7 -4.8 1 2 .8 -1 .7 1 .8 .9 .8 6.4 .8 -2.1 .9 0 .8 1.5 .8 -3 .6 -3.1 .9 -1.8 .8 11.7 .9 -7.5 .8 1 .6 8.5 .9 2.1 .8 1.1 .9 .5 .6 -6.8 .8 10.4 .9 -3 .8 -5.3 .8 .3 .8 -6.4 .8 5.2 .8 6.9 .7 .4 1 -4.9 .7 -1.3 .8 3.9 .7 -.4 .8 1.8 1 5 .7 -9.6 .8 10.3 .8 -5.2 .8 8.3 .9 -5.9 .8 -2.5 .6 9 .9 1.9 .9 -4.8 .7 8.3 .9 -7.3 .6 .5 1 3.2 .7 -.3 .9 -1.4 .7 8.3 .7 -7.4 1 3.1 .7 -4.6 .7 -1.1 1 .7 .8 -.5 .7 4.2 .8 -1.4 .7 -41.2 .8 -125.1 .8 -106.5 .8 -78.2 .8 -53.1 .8 -29.1 .9 -26 .7 3.1 .8 -.8 .8 1.6 .9 4.7 .8 8.5 .8 -2.7 .7 2 .8 -6.5 .9 10 .8 -4.6 .8 .6 .7 11.6 .8 -1.8 .9 -1.9 .8 -2.1 .7 7.4 .9 4.4 .8 -1.8 .8 4.3 .8 -6.7 .9 4.8 .8 2.8 .7 -3.4 .8 -1.1 .7 6.9 .8 -6.1 .9 -1 .8 -6.7 .8 2.9 .8 -.3 .7 .1 .8 -1.9 .9 -1.2 .8 -3.9 .7 .1 .8 -3.3 .9 -.5 .7 8.1 1 -14 .8 3.4 .8 7.6 .8 -.7 .8 6.8 .9 -1.5 .5 1.4 .8 -8.6 .8 .4 1 -5 .8 2.4 .7 4.7 .9 -5.3 .7 7.2 .9 -.7 .7 -4.4 .9 3.3 .7 4 .8 4.6 .9 -5.9 .6 -1.4 .8 1.2 .8 .7 1 1.1 .7 2.5 .8 -9.9 .8 4 .8 1.5 .7 2.9 .9 -4.5 .8 -3.9 .7 .2 .9 -5 .8 5.3 .8 -6.7 .9 .5 .7 .8 .8 2.6 .9 3 .6 -5.1 1 5.1 .7 -1.8 .7 1.7 1 -.3 .8 .9 .8 -.2 .8 3 .8 -4.3 .8 -3.9 .8 4.4 .7 1.3 .8 -4.2 .8 -2.2 .8 2.5 .7 -6.2 1 11.4 .8 -4 .7 5.8 .7 -1.3 1 -4.6 .8 -.4 .7 -9 .8 7.8 .7 -2.5 1 8.9 .7 -3.9 .8 1.7 .7 -5.3 1 -3.4 .7 -.5 .8 8.3 .7 -2.7 1 -1.7 .7 .7 .8 -5.2 .9 1.7 .8 -3.8 .7 9.5 .7 -10.8 1 5.9 .7 -3.6 .7 .1 1 -1.5 .7 10.8 .7 -3.9 1 1.4 .7 -1.7 .7 -4.4 1 -3.6 .7 .2 .7 -3 1 3.5 .7 -1.1 .8 -.1 .9 7.6 .7 -11.2 .8 6.1 .9 -3.2 .8 1.9 .7 .1 .7 5.8 1 -6.9 .7 3 .7 6.5 1 -.1 .8 -5.1 .7 -.2 .7 4.6 1 -4.3 .7 -3.4 .8 -.2 .7 .6 1 3.8 .7 -1.5 .8 5.1 .7 -7.7 1 5.3 .8 -3.6 .7 -1.4 .8 2.4 .7 -3.6 1 -.3 .8 -5.8 .7 6 .8 -3.5 .8 4.7 .7 -1.2 1 -.2 .7 -1.8 .8 2.8 .7 7.3 1 -2.3 .8 -5.6 .7 5.6 .8 -5.5 .9 -4.9 .8 5 .7 0 .7 -3.2 1 .8 .8 3.4 .7 -4.1 .7 2.8 1 1 .8 -6.7 .7 .4 .7 -2.8 1 6.4 .8 5.2 .7 -1.7 .8 -9.1 .7 9.8 1 -7.8 .7 3.3 .8 -5.2 .7 11.8 1 -5.7 .8 -3.1 .7 2.7 .8 5.1 .7 -11.4 1 7 .8 -1.9 .7 -1.5 .8 1.4 .7 155.9 .8 53.8 .8 10.6 .8 10 .8 12.1 .8 12.3 .8 5.7 .8 8.7 .8 -1.8 .8 4.5 .8 15.6 .8 7.3 .8 -2.5 .8 6.4 .8 3.2 .8 5.3 .8 1.7 .8 1.4 .9 1.6 .8 -2.2 .7 15.3 .9 -7.2 .7 3.8 .9 -.6 .8 6.9 .8 .7 .8 4.2 .8 0 .7 6.9 .9 .8 .7 -5.5 .9 9.5 .7 -7.7 .9 11.8 .8 -6.6 .7 2.7 .8 1.1 .9 5.3 .7 7 .9 -5.9 .8 .5 .8 -1.2 .7 .3 .9 7.5 .8 2 .8 -6.3 .8 3.3 .8 .5 .8 -.3 .7 2.9 .9 -1.9 .8 1.6 .7 15 .9 -14.1 .7 8.9 .9 3.6 .8 -5.4 .7 -2.8 .9 5.7 .8 1.4 .7 3.3 .9 -7.4 .8 6.1 .8 4.1 .7 4.8 .8 -2.7 .9 -6.2 .8 6.2 .8 .3 .8 3.5 .8 3.5 .8 5.7 .8 -6.5 .9 6.9 .6 -4.3 .8 -1.7 .9 -.2 .8 .5 .9 5.5 .6 .5 .9 -8.1 .7 9.1 .9 2.6 .9 -.6 .7 1.4 .9 -2.1 .7 5.2 .7 -7.7 .9 6.7 .7 -3.9 .9 -2.8 .7 .7 .9 5.1 .7 4 .9 -6.6 .7 4.5 .9 2.9 .9 -3.8 .7 7.1 .8 -3.4 .7 5.5 .9 0 .9 4.9 .7 .8 .9 -9.4 .7 10.2 .9 3.4 .7 -11.9 .7 14.3 1 -2.4 .7 -4.8 .8 9.6 .8 -2.6 .7 -3.3 .8 1.2 1 1.4 .8 1.8 .8 1.1 .8 .4 .8 -2 .8 3.2 .7 1.5 .8 1.4 .8 -5.4 .8 -.1 .8 -1.3 .7 11.8 .8 -.8 1 -8.3 .7 -2 .8 7.8 .7 -2.6 .8 5.9 1 6.4 .7 -8 .8 -3.9 .8 8.4 .8 .7 .8 -.9 .9 -.4 .6 .5 .9 4.2 .9 -6.4 .7 8.1 .9 -.5 .7 1.8 .7 -10.9 1 9.6 .7 .3 .7 -4.4 1 3.8 .7 -5 .9 3.4 .7 -7.8 .7 5.1 .9 4.1 .9 -.3 .6 4.4 .9 -1.3 .8 -7.4 .8 4 .8 6.4 .9 -.8 .8 3.4 .8 -5.3 .8 2.2 .8 2 .8 -7 .8 6.8 .6 -4.8 .8 7.6 .9 4.8 .9 -2.4 .6 -.9 .9 -1.3 .9 2.8 .7 -6.9 .7 10.7 1 -5.3 .7 .8 .8 .8 .9 -5.1 .8 6.1 .8 -.7 .7 -2.3 .8 2.9 .7 .7 1 -2.6 .8 -4.8 .8 6.3 .7 1.1 .8 2.8 .7 -4.2 1 4.2 .7 -7.1 .8 1 .7 1.3 1 -1 .7 5.3 .8 -8.4 .9 2.9 .8 0 .7 -.7 .7 11.5 1 -6.7 .8 -2.7 .7 5.9 .7 -5.1 1 1 .7 -2.2 .8 .3 .7 3.5 .8 -109.6 .8 -142.3 .8 -86 .8 -64.6 .8 -51.8 .8 -13.3 .9 -.8 .8 2.2 .7 6.4 .8 .6 .9 6.8 .8 -2.4 .7 -2.9 .8 8.4 .9 -5.1 .7 3.9 .9 1.8 .7 .8 .9 -5 .7 13 .9 -5.1 .8 6 .8 -3.8 .7 3 .9 3.8 .8 -8.2 .8 1.9 .8 9.8 .7 -6.6 1 0 .8 7.4 .6 -2.1 .9 -2.1 .9 2.3 .7 -6.8 .8 3.3 .7 -.8 1 -.3 .8 -1.4 .8 .8 .8 -.6 .6 -15.8 .8 -22.7 .8 -15.2 .8 3.5 .8 .9 .9 7.4 .8 -1.3 .8 1.6 .7 -3.2 .9 6.9 .8 -3.8 .7 7.6 .9 -1 .8 1.7 .8 -.9 .7 -4.3 .9 4.8 .8 -1.6 .8 3.7 .8 -2.2 .8 5.2 .8 -1.2 .9 -4.6 .6 3.1 .9 .7 .8 4.1 .9 4 .7 -4.9 .7 -10 1 13.3 .7 -4.5 .8 -3.6 .7 -2.7 1 4.9 .8 -6 .7 6.8 .8 -3 .9 -4.7 .8 3.6 .7 2.4 .9 -5.7 .7 -3.9 .9 5.2 .7 8.1 .8 -11.1 .7 -.1 .9 -1.4 .9 9.2 .6 -5.6 .9 .2 .9 .3 .7 -2 .9 -9.1 .7 8.3 .7 -6.8 1 -.6 .7 5.6 .7 3.2 1 -2.4 .7 -3 .8 -.5 .7 4.1 1 -1.7 .8 -2.9 .7 -.1 .8 6.3 .7 2.2 1 -5.8 .7 7.2 .8 1.8 .7 1.2 1 -2 .7 -5.1 .8 0 .7 5.8 1 -5.3 .7 -.1 .8 10.2 .7 -14.8 1 6.5 .7 -5.4 .8 7.9 .7 -6.1 1 4.7 .7 .9 .8 -.4 .7 3.5 1 2 .7 -11.2 .8 2.1 .9 7.8 .7 -4 .8 1.1 .7 -.8 1 3.5 .7 -3.3 .7 6.9 1 -2.2 .7 4.9 .7 -10.3 1 -.4 .7 2.4 .8 -5.1 .7 1.1 1 3.8 .8 -.1 .7 10.5 .8 -10.6 .9 4.5 .8 -3 .7 -2.9 .9 4.3 .6 2.8 .9 1.6 .8 -5.1 .8 5.6 .8 -3.7 .8 -3.8 .8 3.6 .8 -6.2 .7 6.5 1 -11.9 .8 -.8 .8 -3.6 .8 8 .6 -4.5 .8 .4 .9 4.1 .8 3.3 .9 -6.9 .8 -7.3 .6 10.3 .9 -11.2 .9 5.1 .6 1.8 .9 2.6 .8 -3.3 .9 4.1 .7 -1.9 .9 -2.5 .6 -2.4 .9 1.5 .7 -2.9 .9 1.7 .7 5.5 1 4.4 .7 -12.5 .9 6.8 .7 2.9 .7 -5.2 1 2.7 .7 5.4 .9 -8.7 .7 8 .9 -.4 .7 -2.7 .9 2.4 .7 -2.2 .9 -2.6 .6 1.2 .9 -5.7 .9 1.7 .7 8.3 .9 -3.5 .6 1.2 .9 .6 .9 -7.5 .6 7.1 .9 -7.7 .8 2.1 .9 -3.3 .6 113.6 .8 76.3 .8 22.5 .8 11.7 .8 8.1 .8 6.7 .8 10.3 .8 6.8 .8 11 .8 10.8 .8 -.7 .8 3.5 .8 16.9 .8 -7.7 .8 2.1 .8 14 .8 -5.4 .9 9.3 .7 .8 .8 1.1 .8 9 .9 -3.6 .7 10.9 .8 -7.4 .8 11.9 .9 1.2 .8 -.9 .7 -3.5 .9 8 .7 3.3 .8 .9 .8 6.2 .9 1.5 .8 -5.1 .7 2.4 .9 -.9 .7 5.3 .9 2.7 .8 2.3 .8 -2.9 .8 5.6 .7 -5.1 .9 5.4 .8 7.6 .8 -6.9 .7 2.5 .8 -3.7 .9 10.3 .8 2.1 .7 -.9 .8 2.9 .9 -6.4 .7 11 .9 1.3 .8 4.9 .7 -8.3 .8 2.1 .8 -4.1 .8 0 .9 9.3 .8 -.8 .8 -2.4 .9 6.7 .6 4.1 .9 -6 .9 5.9 .6 -.5 .9 1.4 .7 3.5 .9 -5.4 .7 4.1 .9 -7.8 .8 10.6 .7 4.9 .9 .8 .8 -1.2 .7 -7.8 1 5.9 .7 -2.6 .8 -1.1 .7 3.4 .8 1.4 1 4.6 .7 -4 .8 -6.6 .7 7.5 .8 7.4 1 -5 .7 3 .8 -.9 .8 -2 .8 5.1 .8 2.4 .8 1.4 .8 -8 .8 4.2 .8 -.3 .8 .2 .8 -6.7 .8 3.2 .8 6.3 .9 3.5 .8 -3.2 .6 -2.9 .9 11.7 .8 -3.5 .9 2.7 .6 -4.6 .9 1.1 .8 .9 .9 .5 .6 -7.1 .9 3.4 .8 -5.7 .9 10.2 .6 -3.9 .9 11.8 .9 -1.9 .7 -1.1 .8 -1.5 .9 -2.3 .7 -3.4 .9 2.4 .6 2.7 .9 -2.5 .9 -.2 .7 5.9 .9 5.8 .6 -7.3 .9 -4.4 .9 -3 .7 .7 .8 5.2 .7 6.1 .9 -4.1 .9 -4.6 .7 3.4 .8 -.3 .7 4.8 .9 1.9 .9 .7 .7 -2.7 .9 1.1 .7 4.2 .9 -1.6 .7 6.9 .9 -.5 .7 -10.5 .8 10.6 .9 -10.2 .8 4.2 .7 2.6 .7 -7 1 5.7 .7 -.6 .7 5.1 .9 -4.8 .9 -1.6 .6 5.8 .9 -1 .8 2 .7 -4.2 .8 -3.8 .9 9.3 .7 -2.9 .8 2.5 .9 -6.2 .8 -8.7 .8 4.7 .8 4 .8 -5.5 .7 4.6 .8 7.2 .8 .9 .9 5.8 .8 -3.5 .8 11 .9 -10.6 .7 4 .8 -2.3 .9 5.9 .6 1.4 .9 -3.4 .9 -2.1 .7 12.8 .9 -8.5 .8 1.1 .7 -4.1 .8 12 .8 -12.4 .7 3.8 1 .4 .7 5.2 .8 -8.5 .7 5.3 1 -.8 .7 -3.2 .8 -2.8 .9 -.6 .8 5.1"/>
</g>
<g class="tick" text-anchor="middle">
<text x="260.60" y="1651.30">0</text>
<text x="429.24" y="1651.30">30</text>
<text x="597.87" y="1651.30">60</text>
<text x="766.51" y="1651.30">90</text>
<text x="935.15" y="1651.30">120</text>
<text x="1103.78" y="1651.30">150</text>
<text x="1272.42" y="1651.30">180</text>
<text x="1441.05" y="1651.30">210</text>
<text x="1609.69" y="1651.30">240</text>
<text x="1778.33" y="1651.30">270</text>
<text x="1946.96" y="1651.30">300</text>
<text x="2115.60" y="1651.30">330</text>
</g>
<g class="tick" text-anchor="end">
<text x="210.00" y="1567.80">0.0</text>
<text x="210.00" y="1354.59">0.5</text>
<text x="210.00" y="1141.37">1.0</text>
<text x="210.00" y="928.16">1.5</text>
<text x="210.00" y="714.94">2.0</text>
<text x="210.00" y="501.73">2.5</text>
<text x="210.00" y="288.51">3.0</text>
<text x="210.00" y="75.30">3.5</text>
</g>
<text class="title" text-anchor="middle" x="1188.00" y="1740.50">Time (s)</text>
<text class="title" text-anchor="middle" transform="translate(80.30 800.70) rotate(-90)">Photocurrent (μA)</text>
<line x1="1232" y1="115.00" x2="1388" y2="115.00" stroke="#000000" stroke-width="10.4" stroke-linecap="round"/>
<text class="leg" x="1427.5" y="143.30">solvothermal</text>
<line x1="1232" y1="211.80" x2="1388" y2="211.80" stroke="#ff0000" stroke-width="10.4" stroke-linecap="round"/>
<text class="leg" x="1427.5" y="240.10">in situ conversion</text>
<line x1="1232" y1="308.60" x2="1388" y2="308.60" stroke="#0000ff" stroke-width="10.4" stroke-linecap="round"/>
<text class="leg" x="1427.5" y="336.90">solution combustion</text>
<line x1="1232" y1="405.40" x2="1388" y2="405.40" stroke="#ff00ff" stroke-width="10.4" stroke-linecap="round"/>
<text class="leg" x="1427.5" y="433.70">precipitation</text>
<line x1="1232" y1="502.20" x2="1388" y2="502.20" stroke="#008000" stroke-width="10.4" stroke-linecap="round"/>
<text class="leg" x="1427.5" y="530.50">sol-gel</text>
</svg></body></html>
